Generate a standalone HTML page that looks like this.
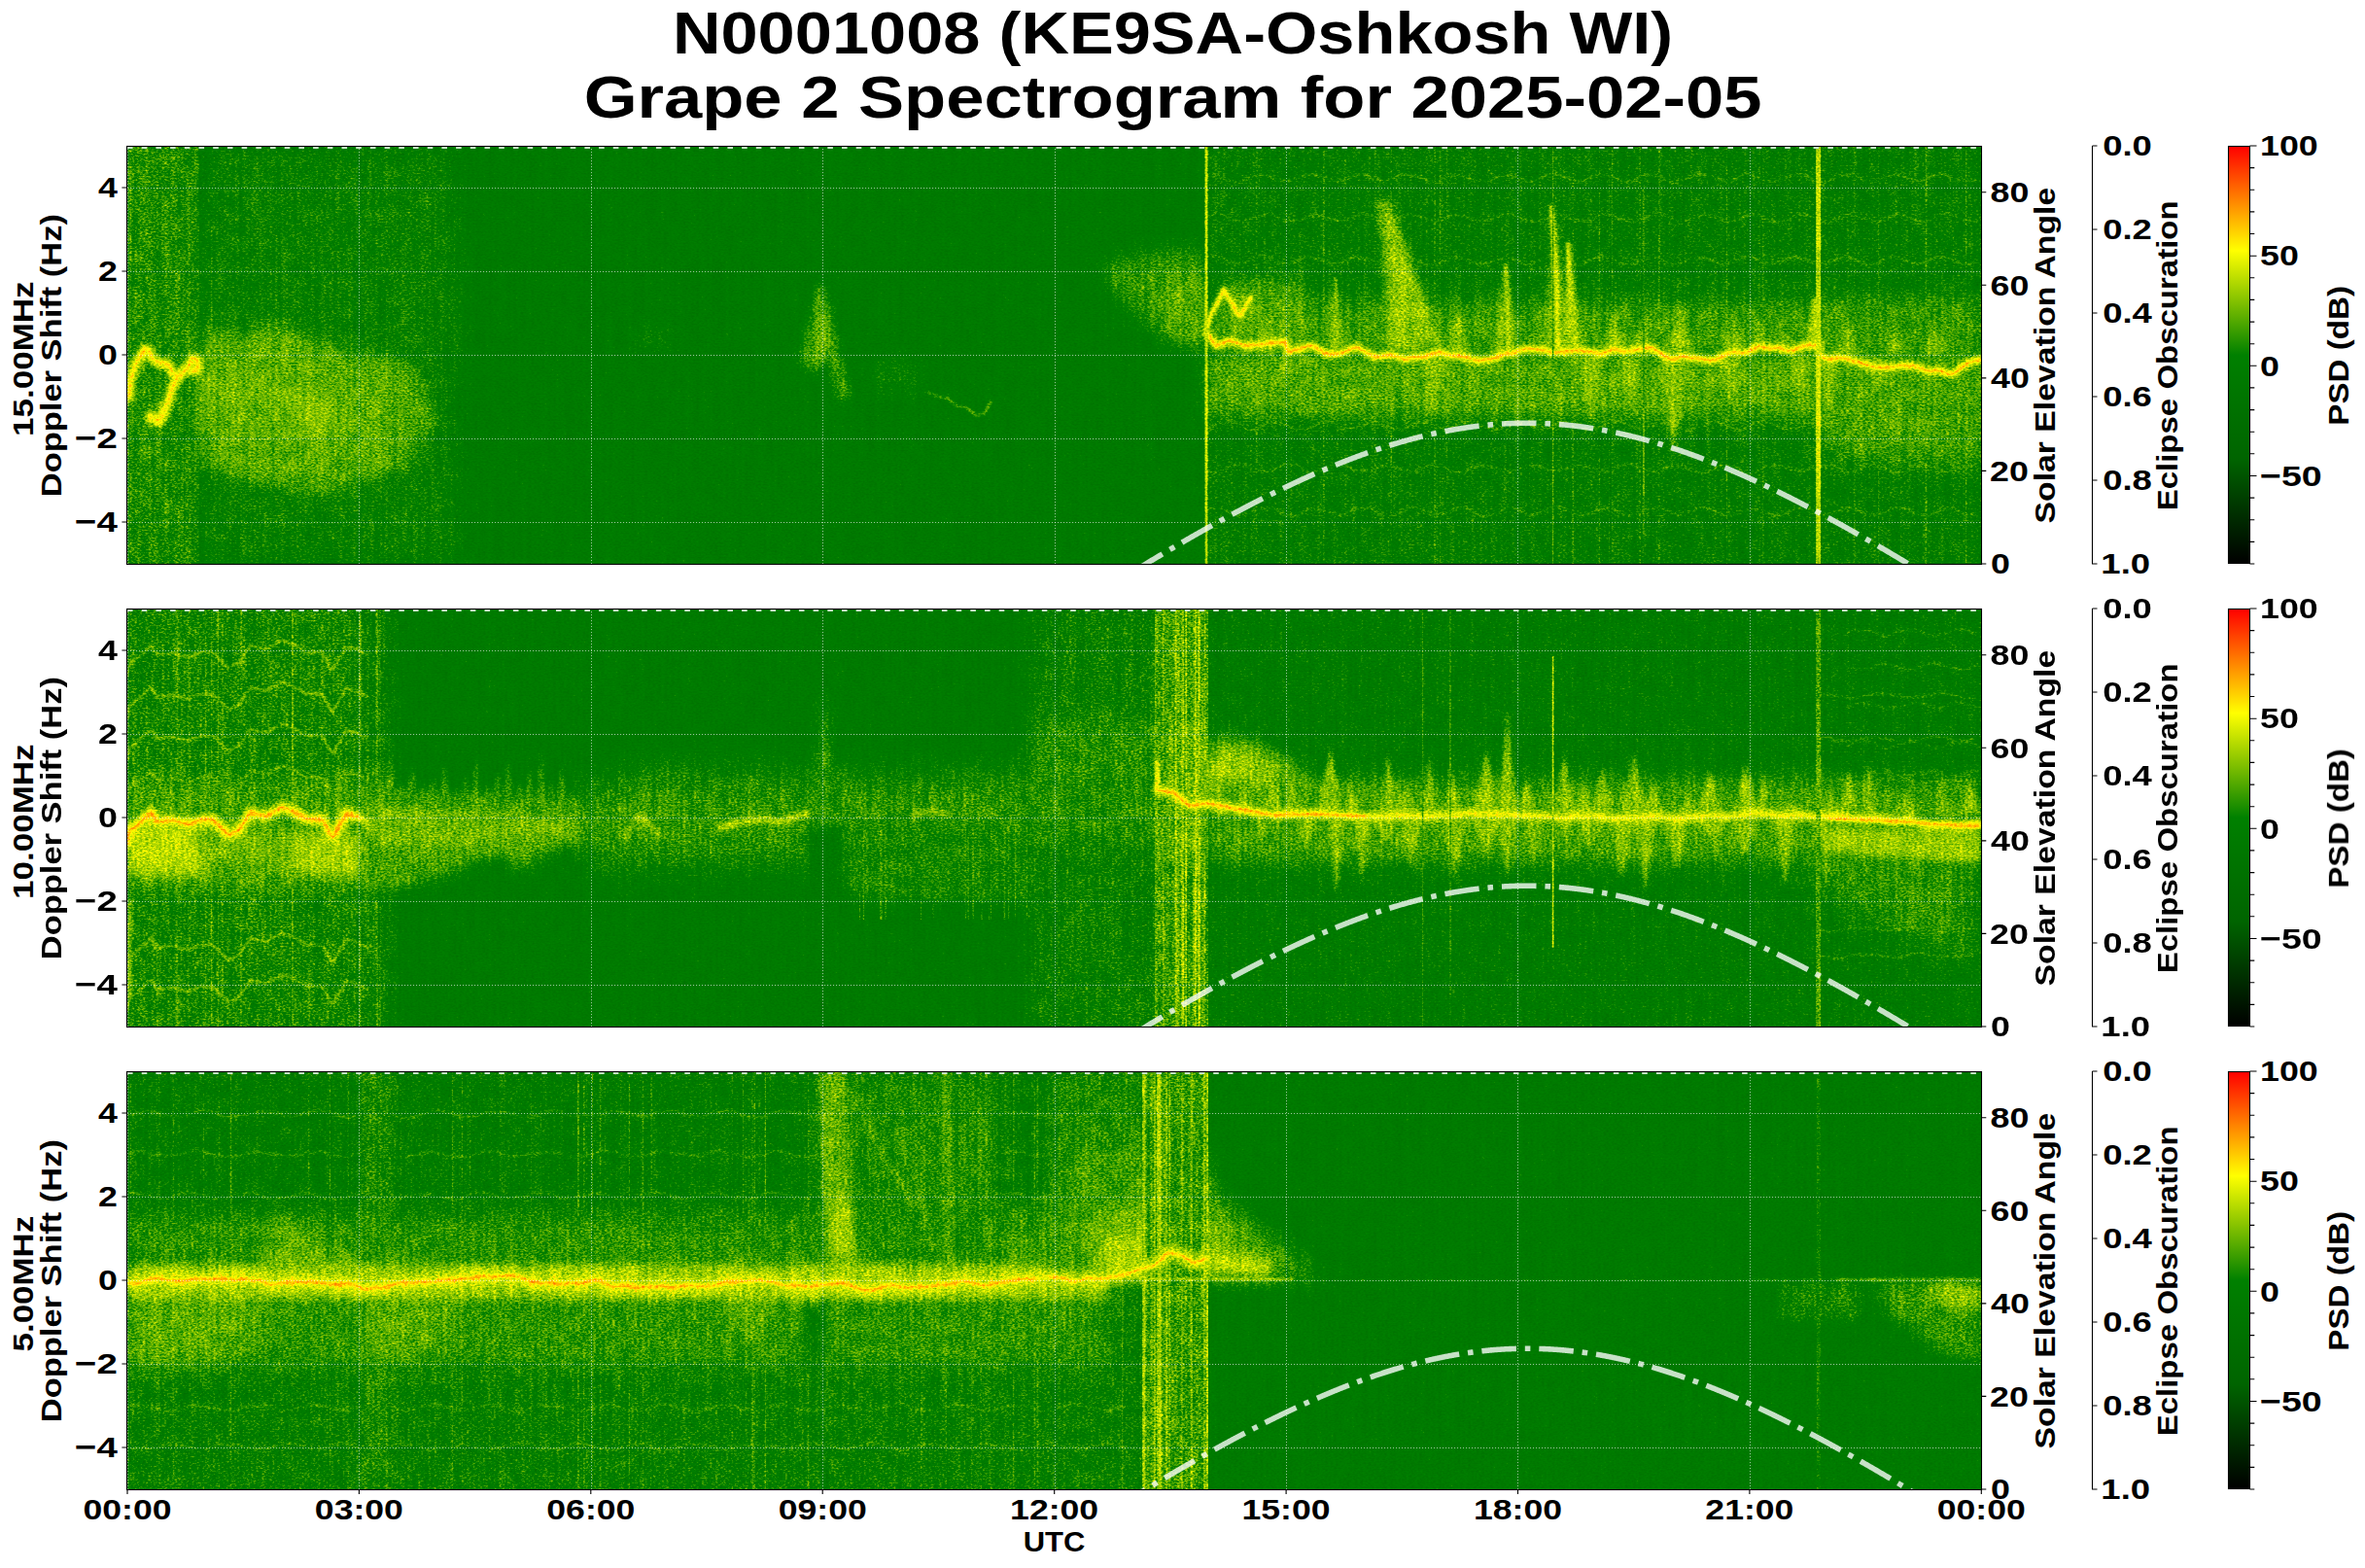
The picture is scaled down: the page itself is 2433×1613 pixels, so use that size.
<!DOCTYPE html><html><head><meta charset="utf-8"><title>Grape 2 Spectrogram</title><style>
html,body{margin:0;padding:0;background:#fff;overflow:hidden;}
svg{display:block;}
text{font-family:"Liberation Sans", sans-serif;font-weight:bold;fill:#000;}
</style></head><body>
<svg width="2433" height="1613" viewBox="0 0 2433 1613">
<defs>
<linearGradient id="cbar" x1="0" y1="1" x2="0" y2="0">
<stop offset="0" stop-color="#000000"/><stop offset="0.25" stop-color="#006400"/><stop offset="0.5" stop-color="#008000"/><stop offset="0.75" stop-color="#ffff00"/><stop offset="1" stop-color="#ff0000"/>
</linearGradient>
<filter id="b1" filterUnits="userSpaceOnUse" x="0" y="0" width="2433" height="1613"><feGaussianBlur stdDeviation="1"/></filter><filter id="b1_5" filterUnits="userSpaceOnUse" x="0" y="0" width="2433" height="1613"><feGaussianBlur stdDeviation="1.5"/></filter><filter id="b2" filterUnits="userSpaceOnUse" x="0" y="0" width="2433" height="1613"><feGaussianBlur stdDeviation="2"/></filter><filter id="b3" filterUnits="userSpaceOnUse" x="0" y="0" width="2433" height="1613"><feGaussianBlur stdDeviation="3"/></filter><filter id="b4" filterUnits="userSpaceOnUse" x="0" y="0" width="2433" height="1613"><feGaussianBlur stdDeviation="4"/></filter><filter id="b6" filterUnits="userSpaceOnUse" x="0" y="0" width="2433" height="1613"><feGaussianBlur stdDeviation="6"/></filter><filter id="b8" filterUnits="userSpaceOnUse" x="0" y="0" width="2433" height="1613"><feGaussianBlur stdDeviation="8"/></filter><filter id="b10" filterUnits="userSpaceOnUse" x="0" y="0" width="2433" height="1613"><feGaussianBlur stdDeviation="10"/></filter><filter id="b12" filterUnits="userSpaceOnUse" x="0" y="0" width="2433" height="1613"><feGaussianBlur stdDeviation="12"/></filter><filter id="b15" filterUnits="userSpaceOnUse" x="0" y="0" width="2433" height="1613"><feGaussianBlur stdDeviation="15"/></filter><filter id="b20" filterUnits="userSpaceOnUse" x="0" y="0" width="2433" height="1613"><feGaussianBlur stdDeviation="20"/></filter><filter id="b25" filterUnits="userSpaceOnUse" x="0" y="0" width="2433" height="1613"><feGaussianBlur stdDeviation="25"/></filter><filter id="spec0" x="131.0" y="150" width="1908" height="430" filterUnits="userSpaceOnUse" color-interpolation-filters="sRGB">
<feTurbulence type="fractalNoise" baseFrequency="0.36 0.6" numOctaves="2" seed="7" result="t1"/>
<feColorMatrix in="t1" type="matrix" values="1 0 0 0 0 1 0 0 0 0 1 0 0 0 0 0 0 0 0 1" result="g1"/>
<feTurbulence type="fractalNoise" baseFrequency="0.3 0.008" numOctaves="1" seed="3" result="t2"/>
<feColorMatrix in="t2" type="matrix" values="1 0 0 0 0 1 0 0 0 0 1 0 0 0 0 0 0 0 0 1" result="g2"/>
<feTurbulence type="fractalNoise" baseFrequency="0.09 0.07" numOctaves="2" seed="13" result="t3"/>
<feColorMatrix in="t3" type="matrix" values="1 0 0 0 0 1 0 0 0 0 1 0 0 0 0 0 0 0 0 1" result="g3"/>
<feComposite in="g1" in2="g2" operator="arithmetic" k2="0.75" k3="0.25" result="g12"/>
<feComposite in="g12" in2="g3" operator="arithmetic" k2="0.8" k3="0.2" result="ng"/>
<feColorMatrix in="SourceGraphic" type="matrix" values="0 1 0 0 0 0 1 0 0 0 0 1 0 0 0 0 0 0 0 1" result="amp"/>
<feComposite in="amp" in2="ng" operator="arithmetic" k1="1" result="prod"/>
<feColorMatrix in="SourceGraphic" type="matrix" values="1 -0.8 0 0 0.1 1 -0.8 0 0 0.1 1 -0.8 0 0 0.1 0 0 0 0 1" result="s2"/>
<feComposite in="s2" in2="prod" operator="arithmetic" k2="1" k3="1.6" k4="-0.1" result="o"/>
<feComponentTransfer in="o">
<feFuncR type="table" tableValues="0 0 0 1 1"/>
<feFuncG type="table" tableValues="0 0.392 0.502 1 0"/>
<feFuncB type="table" tableValues="0 0 0 0 0"/>
</feComponentTransfer>
</filter><filter id="spec1" x="131.0" y="626" width="1908" height="430" filterUnits="userSpaceOnUse" color-interpolation-filters="sRGB">
<feTurbulence type="fractalNoise" baseFrequency="0.36 0.6" numOctaves="2" seed="8" result="t1"/>
<feColorMatrix in="t1" type="matrix" values="1 0 0 0 0 1 0 0 0 0 1 0 0 0 0 0 0 0 0 1" result="g1"/>
<feTurbulence type="fractalNoise" baseFrequency="0.3 0.008" numOctaves="1" seed="4" result="t2"/>
<feColorMatrix in="t2" type="matrix" values="1 0 0 0 0 1 0 0 0 0 1 0 0 0 0 0 0 0 0 1" result="g2"/>
<feTurbulence type="fractalNoise" baseFrequency="0.09 0.07" numOctaves="2" seed="14" result="t3"/>
<feColorMatrix in="t3" type="matrix" values="1 0 0 0 0 1 0 0 0 0 1 0 0 0 0 0 0 0 0 1" result="g3"/>
<feComposite in="g1" in2="g2" operator="arithmetic" k2="0.75" k3="0.25" result="g12"/>
<feComposite in="g12" in2="g3" operator="arithmetic" k2="0.8" k3="0.2" result="ng"/>
<feColorMatrix in="SourceGraphic" type="matrix" values="0 1 0 0 0 0 1 0 0 0 0 1 0 0 0 0 0 0 0 1" result="amp"/>
<feComposite in="amp" in2="ng" operator="arithmetic" k1="1" result="prod"/>
<feColorMatrix in="SourceGraphic" type="matrix" values="1 -0.8 0 0 0.1 1 -0.8 0 0 0.1 1 -0.8 0 0 0.1 0 0 0 0 1" result="s2"/>
<feComposite in="s2" in2="prod" operator="arithmetic" k2="1" k3="1.6" k4="-0.1" result="o"/>
<feComponentTransfer in="o">
<feFuncR type="table" tableValues="0 0 0 1 1"/>
<feFuncG type="table" tableValues="0 0.392 0.502 1 0"/>
<feFuncB type="table" tableValues="0 0 0 0 0"/>
</feComponentTransfer>
</filter><filter id="spec2" x="131.0" y="1102" width="1908" height="430" filterUnits="userSpaceOnUse" color-interpolation-filters="sRGB">
<feTurbulence type="fractalNoise" baseFrequency="0.36 0.6" numOctaves="2" seed="9" result="t1"/>
<feColorMatrix in="t1" type="matrix" values="1 0 0 0 0 1 0 0 0 0 1 0 0 0 0 0 0 0 0 1" result="g1"/>
<feTurbulence type="fractalNoise" baseFrequency="0.3 0.008" numOctaves="1" seed="5" result="t2"/>
<feColorMatrix in="t2" type="matrix" values="1 0 0 0 0 1 0 0 0 0 1 0 0 0 0 0 0 0 0 1" result="g2"/>
<feTurbulence type="fractalNoise" baseFrequency="0.09 0.07" numOctaves="2" seed="15" result="t3"/>
<feColorMatrix in="t3" type="matrix" values="1 0 0 0 0 1 0 0 0 0 1 0 0 0 0 0 0 0 0 1" result="g3"/>
<feComposite in="g1" in2="g2" operator="arithmetic" k2="0.75" k3="0.25" result="g12"/>
<feComposite in="g12" in2="g3" operator="arithmetic" k2="0.8" k3="0.2" result="ng"/>
<feColorMatrix in="SourceGraphic" type="matrix" values="0 1 0 0 0 0 1 0 0 0 0 1 0 0 0 0 0 0 0 1" result="amp"/>
<feComposite in="amp" in2="ng" operator="arithmetic" k1="1" result="prod"/>
<feColorMatrix in="SourceGraphic" type="matrix" values="1 -0.8 0 0 0.1 1 -0.8 0 0 0.1 1 -0.8 0 0 0.1 0 0 0 0 1" result="s2"/>
<feComposite in="s2" in2="prod" operator="arithmetic" k2="1" k3="1.6" k4="-0.1" result="o"/>
<feComponentTransfer in="o">
<feFuncR type="table" tableValues="0 0 0 1 1"/>
<feFuncG type="table" tableValues="0 0.392 0.502 1 0"/>
<feFuncB type="table" tableValues="0 0 0 0 0"/>
</feComponentTransfer>
</filter>
</defs>
<rect width="2433" height="1613" fill="#fff"/>
<text x="691.91" y="54.70" font-size="61.71" textLength="1029.29" lengthAdjust="spacingAndGlyphs">N0001008 (KE9SA-Oshkosh WI)</text>
<text x="600.67" y="120.60" font-size="61.71" textLength="1211.77" lengthAdjust="spacingAndGlyphs">Grape 2 Spectrogram for 2025-02-05</text>
<clipPath id="clip0"><rect x="131.0" y="150" width="1907.3" height="430"/></clipPath>
<g clip-path="url(#clip0)">
<rect x="131.0" y="150" width="1907.3" height="430" fill="#007c00"/>
<g filter="url(#spec0)"><rect x="131.0" y="150.0" width="1907.3" height="430.0" fill="#722e00"/><rect x="131.0" y="150.0" width="74.0" height="430.0" fill="#856600"/><rect x="163.6" y="150.0" width="1.8" height="430.0" fill="#8a6600"/><rect x="164.6" y="150.0" width="1.8" height="430.0" fill="#836600"/><rect x="143.8" y="150.0" width="1.8" height="430.0" fill="#846600"/><rect x="189.1" y="150.0" width="1.1" height="430.0" fill="#7d6600"/><rect x="136.6" y="150.0" width="2.2" height="430.0" fill="#856600"/><rect x="132.9" y="150.0" width="2.5" height="430.0" fill="#8b6600"/><rect x="163.2" y="150.0" width="1.5" height="430.0" fill="#865900"/><rect x="202.8" y="150.0" width="1.5" height="430.0" fill="#865900"/><path d="M131.0,169.1 L139.0,175.3 L147.0,175.1 L155.0,168.3 L163.0,162.7 L171.0,168.3 L179.0,176.0 L187.0,176.6 L195.0,167.6 L203.0,162.2" fill="none" stroke="#8c4c00" stroke-width="1.5" stroke-linejoin="round" stroke-linecap="round" filter="url(#b1)"/><path d="M131.0,231.5 L139.0,230.9 L147.0,222.8 L155.0,218.5 L163.0,224.3 L171.0,231.8 L179.0,231.1 L187.0,221.5 L195.0,215.6 L203.0,221.5" fill="none" stroke="#8c4c00" stroke-width="1.5" stroke-linejoin="round" stroke-linecap="round" filter="url(#b1)"/><path d="M131.0,271.2 L139.0,262.8 L147.0,265.2 L155.0,273.2 L163.0,278.1 L171.0,271.0 L179.0,261.7 L187.0,263.4 L195.0,272.0 L203.0,278.0" fill="none" stroke="#8c4c00" stroke-width="1.5" stroke-linejoin="round" stroke-linecap="round" filter="url(#b1)"/><path d="M131.0,315.4 L139.0,321.6 L147.0,321.0 L155.0,311.3 L163.0,308.1 L171.0,316.1 L179.0,323.4 L187.0,320.7 L195.0,310.0 L203.0,308.8" fill="none" stroke="#8c4c00" stroke-width="1.5" stroke-linejoin="round" stroke-linecap="round" filter="url(#b1)"/><path d="M131.0,422.1 L139.0,432.6 L147.0,431.8 L155.0,421.9 L163.0,417.1 L171.0,423.0 L179.0,433.1 L187.0,431.1 L195.0,423.0 L203.0,416.6" fill="none" stroke="#8c4c00" stroke-width="1.5" stroke-linejoin="round" stroke-linecap="round" filter="url(#b1)"/><path d="M131.0,465.8 L139.0,473.8 L147.0,478.0 L155.0,472.2 L163.0,463.4 L171.0,464.6 L179.0,473.1 L187.0,477.3 L195.0,471.5 L203.0,461.7" fill="none" stroke="#8c4c00" stroke-width="1.5" stroke-linejoin="round" stroke-linecap="round" filter="url(#b1)"/><path d="M131.0,514.9 L139.0,526.2 L147.0,526.9 L155.0,521.0 L163.0,512.9 L171.0,515.6 L179.0,525.0 L187.0,528.0 L195.0,519.9 L203.0,511.7" fill="none" stroke="#8c4c00" stroke-width="1.5" stroke-linejoin="round" stroke-linecap="round" filter="url(#b1)"/><rect x="205.0" y="150.0" width="265.0" height="430.0" fill="#7b5200" filter="url(#b12)"/><rect x="217.2" y="232.0" width="1.5" height="261.0" fill="#8c5900"/><polygon points="205.1,342.0 240.7,336.5 254.4,347.5 273.6,331.0 284.6,328.3 301.0,342.0 323.0,347.5 350.4,358.4 369.6,366.7 405.3,363.9 427.2,383.1 440.9,410.6 443.7,438.0 432.7,451.7 419.0,479.1 399.8,487.4 377.8,492.8 350.4,501.1 323.0,506.6 295.6,501.1 268.1,495.6 240.7,492.8 213.3,479.1 205.1,465.4" fill="#955700" filter="url(#b8)"/><polygon points="205.1,377.6 281.9,377.6 323.0,391.4 364.1,410.6 364.1,451.7 323.0,451.7 281.9,438.0 205.1,424.3" fill="#9a5200" filter="url(#b12)"/><polygon points="290.1,396.8 339.4,410.6 350.4,446.2 309.3,440.7" fill="#a14c00" filter="url(#b8)"/><path d="M132.7,408.8 L134.3,392.2 L138.5,376.4 L143.4,367.3 L148.4,359.9 L153.4,360.7 L155.9,366.5 L160.0,372.3 L164.2,373.1 L169.1,373.1 L174.1,376.4 L178.3,383.1 L182.4,388.0 L189.0,383.1 L194.0,376.4 L197.3,368.1 L202.3,369.8 L204.0,376.4 L202.3,381.4 L197.3,381.4" fill="none" stroke="#b14c00" stroke-width="12" stroke-linejoin="round" stroke-linecap="round" filter="url(#b2)"/><path d="M182.4,388.0 L177.4,398.0 L174.1,408.8 L171.6,417.1 L168.3,427.0 L164.2,433.6 L158.4,432.0 L155.0,427.9" fill="none" stroke="#b44c00" stroke-width="12" stroke-linejoin="round" stroke-linecap="round" filter="url(#b2)"/><path d="M182.4,388.0 L177.4,398.0 L174.1,408.8 L171.6,417.1 L168.3,427.0 L164.2,433.6 L158.4,432.0 L155.0,427.9" fill="none" stroke="#bf4000" stroke-width="5" stroke-linejoin="round" stroke-linecap="round" filter="url(#b1)"/><path d="M132.7,408.8 L134.3,392.2 L138.5,376.4 L143.4,367.3 L148.4,359.9 L153.4,360.7 L155.9,366.5 L160.0,372.3 L164.2,373.1 L169.1,373.1 L174.1,376.4 L178.3,383.1 L182.4,388.0 L189.0,383.1 L194.0,376.4 L197.3,368.1 L202.3,369.8 L204.0,376.4 L202.3,381.4 L197.3,381.4" fill="none" stroke="#d13300" stroke-width="2.5" stroke-linejoin="round" stroke-linecap="round" filter="url(#b1)"/><path d="M182.4,388.0 L177.4,398.0 L174.1,408.8 L171.6,417.1" fill="none" stroke="#cc3300" stroke-width="2" stroke-linejoin="round" stroke-linecap="round" filter="url(#b1)"/><polygon points="822.0,372.0 838.0,300.0 845.0,288.0 852.0,310.0 875.0,405.0 862.0,415.0 850.0,370.0 835.0,385.0" fill="#8e5400" filter="url(#b4)"/><polygon points="835.0,350.0 845.0,300.0 852.0,350.0 845.0,380.0" fill="#995400" filter="url(#b3)"/><ellipse cx="672.0" cy="349.0" rx="22.0" ry="12.0" fill="#7d4000" filter="url(#b8)"/><ellipse cx="921.0" cy="385.0" rx="25.0" ry="18.0" fill="#7d4000" filter="url(#b8)"/><path d="M954.0,403.0 L965.0,408.0 L975.0,410.0 L985.0,418.0 L995.0,420.0 L1005.0,428.0 L1013.0,425.0 L1020.0,412.0" fill="none" stroke="#914c00" stroke-width="3" stroke-linejoin="round" stroke-linecap="round" filter="url(#b1)"/><polygon points="1132.9,270.7 1187.7,259.7 1239.8,254.2 1239.8,358.4 1201.4,353.0 1160.3,314.6 1132.9,281.7" fill="#8c5400" filter="url(#b10)"/><polygon points="1193.2,292.6 1239.8,281.7 1239.8,353.0 1206.9,347.5" fill="#965400" filter="url(#b8)"/><rect x="1242.0" y="150.0" width="796.0" height="430.0" fill="#794c00"/><path d="M1242.0,180.9 L1250.0,180.0 L1258.0,182.9 L1266.0,186.1 L1274.0,188.3 L1282.0,183.5 L1290.0,180.9 L1298.0,180.3 L1306.0,181.1 L1314.0,185.7 L1322.0,185.8 L1330.0,185.6 L1338.0,181.2 L1346.0,179.3 L1354.0,180.2 L1362.0,182.1 L1370.0,185.8 L1378.0,185.7 L1386.0,184.2 L1394.0,180.4 L1402.0,178.4 L1410.0,183.4 L1418.0,185.0 L1426.0,187.2 L1434.0,182.9 L1442.0,178.8 L1450.0,180.2 L1458.0,180.7 L1466.0,184.5 L1474.0,188.4 L1482.0,186.0 L1490.0,180.4 L1498.0,180.4 L1506.0,180.8 L1514.0,185.0 L1522.0,186.0 L1530.0,187.1 L1538.0,182.6 L1546.0,180.6 L1554.0,181.1 L1562.0,182.9 L1570.0,186.2 L1578.0,185.4 L1586.0,182.0 L1594.0,178.3 L1602.0,178.8 L1610.0,182.8 L1618.0,184.6 L1626.0,187.3 L1634.0,183.5 L1642.0,179.7 L1650.0,180.0 L1658.0,181.4 L1666.0,184.8 L1674.0,186.9 L1682.0,185.6 L1690.0,179.8 L1698.0,180.4 L1706.0,179.2 L1714.0,185.2 L1722.0,188.0 L1730.0,184.3 L1738.0,182.9 L1746.0,178.8 L1754.0,180.1 L1762.0,182.0 L1770.0,185.2 L1778.0,185.5 L1786.0,184.4 L1794.0,178.8 L1802.0,180.1 L1810.0,183.7 L1818.0,187.4 L1826.0,186.4 L1834.0,183.6 L1842.0,180.4 L1850.0,179.9 L1858.0,180.3 L1866.0,186.0 L1874.0,187.9 L1882.0,186.1 L1890.0,179.8 L1898.0,180.4 L1906.0,179.3 L1914.0,183.9 L1922.0,187.2 L1930.0,187.1 L1938.0,181.6 L1946.0,180.5 L1954.0,180.0 L1962.0,182.8 L1970.0,186.0 L1978.0,185.5 L1986.0,181.9 L1994.0,178.6 L2002.0,179.9 L2010.0,183.9 L2018.0,185.0 L2026.0,185.5 L2034.0,185.6" fill="none" stroke="#964c00" stroke-width="1.5" stroke-linejoin="round" stroke-linecap="round" filter="url(#b1)"/><path d="M1242.0,222.9 L1250.0,219.5 L1258.0,221.1 L1266.0,225.3 L1274.0,227.4 L1282.0,227.2 L1290.0,222.8 L1298.0,222.0 L1306.0,218.9 L1314.0,223.3 L1322.0,228.0 L1330.0,226.8 L1338.0,225.9 L1346.0,222.8 L1354.0,220.4 L1362.0,223.2 L1370.0,225.0 L1378.0,227.8 L1386.0,225.1 L1394.0,223.3 L1402.0,219.4 L1410.0,221.3 L1418.0,226.8 L1426.0,228.9 L1434.0,228.3 L1442.0,223.1 L1450.0,220.2 L1458.0,221.5 L1466.0,224.2 L1474.0,226.9 L1482.0,227.2 L1490.0,223.2 L1498.0,220.4 L1506.0,221.8 L1514.0,224.6 L1522.0,227.3 L1530.0,227.9 L1538.0,224.7 L1546.0,220.2 L1554.0,219.3 L1562.0,223.1 L1570.0,227.2 L1578.0,227.6 L1586.0,227.0 L1594.0,223.1 L1602.0,220.6 L1610.0,221.9 L1618.0,226.0 L1626.0,227.5 L1634.0,227.5 L1642.0,222.6 L1650.0,220.2 L1658.0,221.6 L1666.0,224.8 L1674.0,226.9 L1682.0,228.9 L1690.0,224.7 L1698.0,221.0 L1706.0,218.8 L1714.0,223.4 L1722.0,226.1 L1730.0,228.4 L1738.0,225.2 L1746.0,222.4 L1754.0,220.5 L1762.0,223.1 L1770.0,225.6 L1778.0,228.4 L1786.0,226.9 L1794.0,223.3 L1802.0,219.6 L1810.0,222.4 L1818.0,226.3 L1826.0,228.4 L1834.0,228.4 L1842.0,224.7 L1850.0,220.4 L1858.0,220.8 L1866.0,223.2 L1874.0,228.5 L1882.0,228.9 L1890.0,224.3 L1898.0,221.4 L1906.0,220.9 L1914.0,223.9 L1922.0,225.9 L1930.0,228.7 L1938.0,225.6 L1946.0,222.0 L1954.0,219.8 L1962.0,222.6 L1970.0,226.9 L1978.0,228.4 L1986.0,226.9 L1994.0,221.0 L2002.0,219.0 L2010.0,221.2 L2018.0,225.6 L2026.0,227.0 L2034.0,227.6" fill="none" stroke="#964c00" stroke-width="1.5" stroke-linejoin="round" stroke-linecap="round" filter="url(#b1)"/><path d="M1242.0,263.7 L1250.0,264.0 L1258.0,266.0 L1266.0,269.2 L1274.0,270.9 L1282.0,269.2 L1290.0,264.9 L1298.0,263.1 L1306.0,264.5 L1314.0,269.6 L1322.0,271.6 L1330.0,270.9 L1338.0,267.0 L1346.0,263.3 L1354.0,266.3 L1362.0,267.2 L1370.0,271.4 L1378.0,270.6 L1386.0,267.5 L1394.0,263.4 L1402.0,265.5 L1410.0,267.3 L1418.0,269.8 L1426.0,272.1 L1434.0,267.6 L1442.0,265.2 L1450.0,263.6 L1458.0,267.0 L1466.0,271.9 L1474.0,272.9 L1482.0,269.5 L1490.0,266.8 L1498.0,264.4 L1506.0,265.4 L1514.0,268.6 L1522.0,272.2 L1530.0,270.8 L1538.0,268.2 L1546.0,265.5 L1554.0,265.4 L1562.0,268.2 L1570.0,272.9 L1578.0,269.8 L1586.0,266.6 L1594.0,264.7 L1602.0,264.8 L1610.0,266.6 L1618.0,271.6 L1626.0,272.9 L1634.0,268.5 L1642.0,264.9 L1650.0,263.3 L1658.0,266.1 L1666.0,271.9 L1674.0,271.6 L1682.0,271.2 L1690.0,267.2 L1698.0,264.3 L1706.0,265.0 L1714.0,271.0 L1722.0,271.9 L1730.0,270.4 L1738.0,266.3 L1746.0,265.6 L1754.0,265.0 L1762.0,268.0 L1770.0,271.6 L1778.0,270.2 L1786.0,268.2 L1794.0,264.4 L1802.0,263.8 L1810.0,268.5 L1818.0,272.1 L1826.0,270.3 L1834.0,269.0 L1842.0,264.5 L1850.0,265.4 L1858.0,267.5 L1866.0,269.7 L1874.0,271.3 L1882.0,268.8 L1890.0,267.5 L1898.0,263.4 L1906.0,266.1 L1914.0,269.5 L1922.0,272.4 L1930.0,271.0 L1938.0,267.7 L1946.0,263.0 L1954.0,265.8 L1962.0,268.0 L1970.0,271.8 L1978.0,270.8 L1986.0,267.3 L1994.0,264.7 L2002.0,264.3 L2010.0,267.2 L2018.0,271.9 L2026.0,272.1 L2034.0,267.5" fill="none" stroke="#964c00" stroke-width="1.5" stroke-linejoin="round" stroke-linecap="round" filter="url(#b1)"/><path d="M1242.0,323.9 L1250.0,323.3 L1258.0,319.4 L1266.0,316.2 L1274.0,316.0 L1282.0,322.1 L1290.0,323.7 L1298.0,323.1 L1306.0,319.8 L1314.0,316.7 L1322.0,316.7 L1330.0,321.5 L1338.0,323.2 L1346.0,323.2 L1354.0,321.3 L1362.0,315.8 L1370.0,315.7 L1378.0,320.3 L1386.0,321.6 L1394.0,324.9 L1402.0,321.8 L1410.0,317.2 L1418.0,315.4 L1426.0,319.1 L1434.0,323.4 L1442.0,322.9 L1450.0,322.1 L1458.0,318.4 L1466.0,316.0 L1474.0,316.9 L1482.0,320.2 L1490.0,324.1 L1498.0,323.9 L1506.0,318.0 L1514.0,315.5 L1522.0,317.7 L1530.0,321.1 L1538.0,324.0 L1546.0,322.1 L1554.0,320.9 L1562.0,318.2 L1570.0,317.8 L1578.0,319.8 L1586.0,321.5 L1594.0,324.9 L1602.0,320.4 L1610.0,317.9 L1618.0,317.4 L1626.0,318.9 L1634.0,321.0 L1642.0,323.4 L1650.0,323.4 L1658.0,317.3 L1666.0,316.4 L1674.0,317.2 L1682.0,320.2 L1690.0,324.2 L1698.0,321.6 L1706.0,318.1 L1714.0,315.9 L1722.0,315.4 L1730.0,318.9 L1738.0,323.7 L1746.0,324.3 L1754.0,321.5 L1762.0,315.7 L1770.0,316.0 L1778.0,318.6 L1786.0,323.2 L1794.0,323.9 L1802.0,322.6 L1810.0,317.1 L1818.0,314.7 L1826.0,318.8 L1834.0,321.0 L1842.0,324.4 L1850.0,322.2 L1858.0,319.6 L1866.0,316.2 L1874.0,317.7 L1882.0,320.4 L1890.0,324.0 L1898.0,322.3 L1906.0,320.1 L1914.0,316.4 L1922.0,315.6 L1930.0,319.3 L1938.0,323.1 L1946.0,324.3 L1954.0,319.4 L1962.0,317.5 L1970.0,316.7 L1978.0,317.9 L1986.0,323.3 L1994.0,322.7 L2002.0,320.2 L2010.0,317.8 L2018.0,315.2 L2026.0,319.3 L2034.0,322.0" fill="none" stroke="#964c00" stroke-width="1.5" stroke-linejoin="round" stroke-linecap="round" filter="url(#b1)"/><path d="M1242.0,442.5 L1250.0,437.0 L1258.0,435.5 L1266.0,432.9 L1274.0,436.0 L1282.0,442.1 L1290.0,442.5 L1298.0,438.6 L1306.0,434.4 L1314.0,435.4 L1322.0,436.6 L1330.0,440.9 L1338.0,440.9 L1346.0,440.7 L1354.0,436.0 L1362.0,433.3 L1370.0,434.8 L1378.0,439.4 L1386.0,441.4 L1394.0,440.7 L1402.0,436.4 L1410.0,435.4 L1418.0,435.1 L1426.0,438.9 L1434.0,441.2 L1442.0,442.7 L1450.0,438.5 L1458.0,435.2 L1466.0,434.4 L1474.0,437.7 L1482.0,440.4 L1490.0,440.7 L1498.0,438.1 L1506.0,434.7 L1514.0,432.6 L1522.0,437.2 L1530.0,439.9 L1538.0,442.8 L1546.0,438.9 L1554.0,436.4 L1562.0,435.2 L1570.0,435.6 L1578.0,438.8 L1586.0,441.7 L1594.0,439.9 L1602.0,436.5 L1610.0,433.4 L1618.0,434.2 L1626.0,437.6 L1634.0,442.5 L1642.0,440.6 L1650.0,437.8 L1658.0,434.3 L1666.0,433.2 L1674.0,436.3 L1682.0,439.9 L1690.0,441.9 L1698.0,438.1 L1706.0,437.0 L1714.0,433.6 L1722.0,437.3 L1730.0,440.4 L1738.0,442.5 L1746.0,440.3 L1754.0,437.9 L1762.0,432.9 L1770.0,435.7 L1778.0,438.3 L1786.0,442.3 L1794.0,441.8 L1802.0,436.6 L1810.0,433.5 L1818.0,433.2 L1826.0,437.1 L1834.0,440.1 L1842.0,441.4 L1850.0,440.0 L1858.0,434.6 L1866.0,433.6 L1874.0,436.8 L1882.0,440.0 L1890.0,442.6 L1898.0,440.2 L1906.0,434.7 L1914.0,433.2 L1922.0,436.5 L1930.0,441.2 L1938.0,442.4 L1946.0,440.2 L1954.0,438.1 L1962.0,432.6 L1970.0,433.9 L1978.0,439.7 L1986.0,441.5 L1994.0,439.8 L2002.0,437.8 L2010.0,435.9 L2018.0,434.6 L2026.0,437.4 L2034.0,440.1" fill="none" stroke="#964c00" stroke-width="1.5" stroke-linejoin="round" stroke-linecap="round" filter="url(#b1)"/><path d="M1242.0,484.9 L1250.0,485.9 L1258.0,485.8 L1266.0,479.4 L1274.0,477.4 L1282.0,477.7 L1290.0,482.5 L1298.0,484.4 L1306.0,484.5 L1314.0,481.5 L1322.0,477.9 L1330.0,477.2 L1338.0,480.4 L1346.0,486.7 L1354.0,484.8 L1362.0,482.8 L1370.0,478.8 L1378.0,478.2 L1386.0,479.5 L1394.0,484.0 L1402.0,484.8 L1410.0,483.8 L1418.0,481.1 L1426.0,478.3 L1434.0,480.9 L1442.0,482.8 L1450.0,484.5 L1458.0,484.7 L1466.0,480.7 L1474.0,478.3 L1482.0,478.7 L1490.0,483.1 L1498.0,486.4 L1506.0,486.5 L1514.0,481.2 L1522.0,478.4 L1530.0,479.5 L1538.0,480.9 L1546.0,484.1 L1554.0,485.2 L1562.0,481.6 L1570.0,479.9 L1578.0,479.1 L1586.0,480.1 L1594.0,483.4 L1602.0,484.7 L1610.0,483.0 L1618.0,478.7 L1626.0,477.8 L1634.0,480.0 L1642.0,482.9 L1650.0,484.6 L1658.0,485.2 L1666.0,479.5 L1674.0,477.2 L1682.0,478.4 L1690.0,482.3 L1698.0,484.5 L1706.0,485.0 L1714.0,481.3 L1722.0,479.3 L1730.0,478.6 L1738.0,482.8 L1746.0,485.6 L1754.0,486.5 L1762.0,483.1 L1770.0,479.0 L1778.0,479.1 L1786.0,481.1 L1794.0,485.8 L1802.0,486.7 L1810.0,484.4 L1818.0,479.3 L1826.0,478.9 L1834.0,479.4 L1842.0,482.5 L1850.0,484.6 L1858.0,483.7 L1866.0,480.2 L1874.0,478.7 L1882.0,478.4 L1890.0,481.3 L1898.0,486.5 L1906.0,485.5 L1914.0,480.5 L1922.0,477.2 L1930.0,477.3 L1938.0,481.2 L1946.0,486.2 L1954.0,487.1 L1962.0,483.2 L1970.0,478.4 L1978.0,477.9 L1986.0,480.2 L1994.0,483.9 L2002.0,484.5 L2010.0,484.1 L2018.0,481.0 L2026.0,478.7 L2034.0,478.5" fill="none" stroke="#964c00" stroke-width="1.5" stroke-linejoin="round" stroke-linecap="round" filter="url(#b1)"/><path d="M1242.0,524.3 L1250.0,522.9 L1258.0,522.6 L1266.0,527.6 L1274.0,530.4 L1282.0,528.4 L1290.0,525.7 L1298.0,524.0 L1306.0,522.2 L1314.0,525.0 L1322.0,528.7 L1330.0,530.7 L1338.0,528.6 L1346.0,523.6 L1354.0,523.4 L1362.0,524.6 L1370.0,526.9 L1378.0,530.9 L1386.0,527.9 L1394.0,523.0 L1402.0,523.5 L1410.0,522.0 L1418.0,527.4 L1426.0,529.8 L1434.0,530.1 L1442.0,525.0 L1450.0,521.4 L1458.0,522.1 L1466.0,525.3 L1474.0,529.7 L1482.0,529.1 L1490.0,527.1 L1498.0,522.0 L1506.0,521.8 L1514.0,524.4 L1522.0,530.3 L1530.0,530.9 L1538.0,528.4 L1546.0,523.9 L1554.0,521.7 L1562.0,523.2 L1570.0,529.1 L1578.0,530.0 L1586.0,526.8 L1594.0,523.4 L1602.0,520.8 L1610.0,524.0 L1618.0,528.3 L1626.0,528.9 L1634.0,529.9 L1642.0,524.8 L1650.0,522.9 L1658.0,523.8 L1666.0,526.5 L1674.0,530.4 L1682.0,529.2 L1690.0,524.9 L1698.0,522.9 L1706.0,522.5 L1714.0,524.2 L1722.0,528.5 L1730.0,529.4 L1738.0,525.9 L1746.0,523.0 L1754.0,521.7 L1762.0,524.1 L1770.0,528.6 L1778.0,529.7 L1786.0,529.7 L1794.0,525.4 L1802.0,523.3 L1810.0,523.9 L1818.0,527.6 L1826.0,529.9 L1834.0,529.9 L1842.0,525.0 L1850.0,522.6 L1858.0,523.2 L1866.0,526.2 L1874.0,528.8 L1882.0,528.3 L1890.0,525.2 L1898.0,522.4 L1906.0,522.5 L1914.0,525.9 L1922.0,529.4 L1930.0,529.3 L1938.0,528.7 L1946.0,522.9 L1954.0,522.7 L1962.0,522.8 L1970.0,528.7 L1978.0,530.5 L1986.0,529.7 L1994.0,525.7 L2002.0,522.6 L2010.0,524.3 L2018.0,527.8 L2026.0,530.2 L2034.0,528.2" fill="none" stroke="#964c00" stroke-width="1.5" stroke-linejoin="round" stroke-linecap="round" filter="url(#b1)"/><rect x="1430.6" y="150.0" width="1.5" height="430.0" fill="#7b5900"/><rect x="1721.9" y="150.0" width="1.6" height="430.0" fill="#755900"/><rect x="1251.6" y="150.0" width="1.8" height="430.0" fill="#795900"/><rect x="1427.5" y="150.0" width="2.0" height="430.0" fill="#7e5900"/><rect x="1907.1" y="150.0" width="1.5" height="430.0" fill="#815900"/><rect x="1361.1" y="150.0" width="1.6" height="430.0" fill="#865900"/><rect x="1657.6" y="150.0" width="1.7" height="430.0" fill="#825900"/><rect x="1292.1" y="150.0" width="1.8" height="430.0" fill="#805900"/><rect x="1481.3" y="150.0" width="1.0" height="430.0" fill="#865900"/><rect x="1617.4" y="150.0" width="1.7" height="430.0" fill="#865900"/><rect x="1809.5" y="150.0" width="1.9" height="430.0" fill="#7c5900"/><rect x="1878.8" y="150.0" width="1.4" height="430.0" fill="#885900"/><rect x="1941.0" y="150.0" width="1.1" height="430.0" fill="#765900"/><rect x="1413.7" y="150.0" width="2.0" height="430.0" fill="#7d5900"/><rect x="1740.2" y="150.0" width="1.3" height="430.0" fill="#7e5900"/><rect x="1548.5" y="150.0" width="1.4" height="430.0" fill="#805900"/><rect x="1706.1" y="150.0" width="1.9" height="430.0" fill="#825900"/><rect x="1980.5" y="150.0" width="1.9" height="430.0" fill="#895900"/><rect x="1775.8" y="150.0" width="1.2" height="430.0" fill="#865900"/><rect x="2008.9" y="150.0" width="1.9" height="430.0" fill="#805900"/><rect x="1809.6" y="150.0" width="1.2" height="430.0" fill="#855900"/><rect x="1697.9" y="150.0" width="1.3" height="430.0" fill="#755900"/><rect x="1920.7" y="150.0" width="2.0" height="430.0" fill="#755900"/><rect x="1878.6" y="150.0" width="1.4" height="430.0" fill="#775900"/><rect x="1475.1" y="150.0" width="1.8" height="430.0" fill="#865900"/><rect x="1276.4" y="150.0" width="1.6" height="430.0" fill="#745900"/><rect x="1813.2" y="150.0" width="1.3" height="430.0" fill="#865900"/><rect x="2021.8" y="150.0" width="1.5" height="430.0" fill="#895900"/><rect x="1488.0" y="150.0" width="1.1" height="430.0" fill="#805900"/><rect x="1266.4" y="150.0" width="1.2" height="430.0" fill="#7c5900"/><rect x="1727.4" y="150.0" width="1.2" height="430.0" fill="#745900"/><rect x="1932.1" y="150.0" width="1.3" height="430.0" fill="#885900"/><rect x="1955.1" y="150.0" width="1.4" height="430.0" fill="#7d5900"/><rect x="1655.2" y="150.0" width="1.6" height="430.0" fill="#805900"/><rect x="1686.4" y="150.0" width="1.6" height="430.0" fill="#885900"/><rect x="1644.9" y="150.0" width="1.4" height="430.0" fill="#835900"/><rect x="1430.5" y="150.0" width="1.3" height="430.0" fill="#885900"/><rect x="1656.0" y="150.0" width="1.5" height="430.0" fill="#745900"/><rect x="1571.7" y="150.0" width="1.6" height="430.0" fill="#745900"/><rect x="1731.4" y="150.0" width="1.6" height="430.0" fill="#755900"/><rect x="1242.0" y="310.0" width="796.0" height="52.0" fill="#8e5400" filter="url(#b10)"/><rect x="1242.0" y="365.0" width="796.0" height="65.0" fill="#945400" filter="url(#b10)"/><rect x="1260.0" y="290.0" width="80.0" height="72.0" fill="#945400" filter="url(#b10)"/><polygon points="1872.0,315.0 2038.0,315.0 2038.0,362.0 1872.0,362.0" fill="#8c5400" filter="url(#b10)"/><polygon points="1872.0,375.0 2038.0,375.0 2038.0,480.0 1872.0,470.0" fill="#915700" filter="url(#b12)"/><polygon points="1300.0,325.0 1310.0,362.0 1290.0,362.0" fill="#a15400" filter="url(#b3)"/><polygon points="1374.0,287.0 1380.0,362.0 1368.0,362.0" fill="#a15400" filter="url(#b3)"/><polygon points="1445.0,270.0 1461.0,362.0 1429.0,362.0" fill="#a15400" filter="url(#b3)"/><polygon points="1500.0,315.0 1512.0,362.0 1488.0,362.0" fill="#a15400" filter="url(#b3)"/><polygon points="1549.0,273.0 1561.0,362.0 1537.0,362.0" fill="#a15400" filter="url(#b3)"/><polygon points="1600.0,213.0 1614.0,362.0 1586.0,362.0" fill="#a15400" filter="url(#b3)"/><polygon points="1615.0,251.0 1629.0,362.0 1601.0,362.0" fill="#a15400" filter="url(#b3)"/><polygon points="1660.0,322.0 1674.0,362.0 1646.0,362.0" fill="#a15400" filter="url(#b3)"/><polygon points="1690.0,325.0 1702.0,362.0 1678.0,362.0" fill="#a15400" filter="url(#b3)"/><polygon points="1728.0,315.0 1742.0,362.0 1714.0,362.0" fill="#a15400" filter="url(#b3)"/><polygon points="1783.0,325.0 1795.0,362.0 1771.0,362.0" fill="#a15400" filter="url(#b3)"/><polygon points="1810.0,330.0 1820.0,362.0 1800.0,362.0" fill="#a15400" filter="url(#b3)"/><polygon points="1838.0,340.0 1850.0,362.0 1826.0,362.0" fill="#a15400" filter="url(#b3)"/><polygon points="1866.0,309.0 1878.0,362.0 1854.0,362.0" fill="#a15400" filter="url(#b3)"/><polygon points="1900.0,330.0 1910.0,362.0 1890.0,362.0" fill="#a15400" filter="url(#b3)"/><polygon points="1950.0,335.0 1960.0,362.0 1940.0,362.0" fill="#a15400" filter="url(#b3)"/><polygon points="1990.0,330.0 2000.0,362.0 1980.0,362.0" fill="#a15400" filter="url(#b3)"/><polygon points="1418.0,205.0 1428.0,205.0 1485.0,355.0 1430.0,355.0" fill="#a45400" filter="url(#b4)"/><path d="M1374.0,287.0 L1377.0,355.0" fill="none" stroke="#a64c00" stroke-width="3" stroke-linejoin="round" stroke-linecap="round" filter="url(#b1)"/><path d="M1596.0,213.0 L1600.0,280.0 L1604.0,355.0" fill="none" stroke="#b14c00" stroke-width="5" stroke-linejoin="round" stroke-linecap="round" filter="url(#b1_5)"/><path d="M1613.0,251.0 L1616.0,300.0 L1620.0,355.0" fill="none" stroke="#ae4c00" stroke-width="5" stroke-linejoin="round" stroke-linecap="round" filter="url(#b1_5)"/><path d="M1549.0,273.0 L1552.0,355.0" fill="none" stroke="#a94c00" stroke-width="4" stroke-linejoin="round" stroke-linecap="round" filter="url(#b1_5)"/><path d="M1866.0,309.0 L1866.0,355.0" fill="none" stroke="#ac4c00" stroke-width="5" stroke-linejoin="round" stroke-linecap="round" filter="url(#b1_5)"/><polygon points="1321.0,391.0 1329.0,368.0 1313.0,368.0" fill="#a15400" filter="url(#b3)"/><polygon points="1346.0,382.0 1354.0,368.0 1338.0,368.0" fill="#a15400" filter="url(#b3)"/><polygon points="1476.0,427.0 1490.0,368.0 1462.0,368.0" fill="#a15400" filter="url(#b3)"/><polygon points="1511.0,378.0 1519.0,368.0 1503.0,368.0" fill="#a15400" filter="url(#b3)"/><polygon points="1618.0,380.0 1626.0,368.0 1610.0,368.0" fill="#a15400" filter="url(#b3)"/><polygon points="1637.0,432.0 1649.0,368.0 1625.0,368.0" fill="#a15400" filter="url(#b3)"/><polygon points="1676.0,419.0 1688.0,368.0 1664.0,368.0" fill="#a15400" filter="url(#b3)"/><polygon points="1722.0,474.0 1736.0,368.0 1708.0,368.0" fill="#a15400" filter="url(#b3)"/><polygon points="1780.0,415.0 1792.0,368.0 1768.0,368.0" fill="#a15400" filter="url(#b3)"/><polygon points="1851.0,416.0 1863.0,368.0 1839.0,368.0" fill="#a15400" filter="url(#b3)"/><polygon points="1882.0,443.0 1892.0,368.0 1872.0,368.0" fill="#a15400" filter="url(#b3)"/><polygon points="1930.0,408.0 1940.0,368.0 1920.0,368.0" fill="#a15400" filter="url(#b3)"/><path d="M1241.2,342.0 L1250.8,355.7 L1264.5,350.2 L1281.0,355.7 L1297.4,354.3 L1322.1,351.6 L1325.0,362.8 L1330.0,360.5 L1335.0,359.5 L1340.0,358.0 L1345.0,356.0 L1350.0,355.6 L1355.0,358.4 L1360.0,361.5 L1365.0,364.4 L1370.0,364.2 L1375.0,364.3 L1380.0,363.2 L1385.0,361.3 L1390.0,359.0 L1395.0,357.3 L1400.0,359.3 L1405.0,362.2 L1410.0,365.1 L1415.0,367.5 L1420.0,366.7 L1425.0,365.2 L1430.0,365.0 L1435.0,365.9 L1440.0,367.7 L1445.0,369.8 L1450.0,368.1 L1455.0,367.4 L1460.0,367.6 L1465.0,367.3 L1470.0,365.3 L1475.0,364.2 L1480.0,361.8 L1485.0,363.1 L1490.0,365.4 L1495.0,366.5 L1500.0,365.7 L1505.0,367.1 L1510.0,367.6 L1515.0,369.3 L1520.0,371.0 L1525.0,370.9 L1530.0,369.7 L1535.0,369.0 L1540.0,367.9 L1545.0,365.4 L1550.0,363.3 L1555.0,364.0 L1560.0,362.1 L1565.0,359.4 L1570.0,359.4 L1575.0,358.9 L1580.0,359.4 L1585.0,360.0 L1590.0,360.0 L1595.0,362.8 L1600.0,362.6 L1605.0,362.3 L1610.0,361.0 L1615.0,361.4 L1620.0,360.8 L1625.0,360.2 L1630.0,361.6 L1635.0,361.6 L1640.0,362.1 L1645.0,364.4 L1650.0,363.5 L1655.0,361.1 L1660.0,359.2 L1665.0,360.2 L1670.0,361.5 L1675.0,361.2 L1680.0,360.5 L1685.0,359.2 L1690.0,358.9 L1695.0,357.3 L1700.0,358.3 L1705.0,361.2 L1710.0,364.8 L1715.0,367.3 L1720.0,370.1 L1725.0,368.4 L1730.0,366.1 L1735.0,367.2 L1740.0,368.5 L1745.0,368.2 L1750.0,369.6 L1755.0,370.1 L1760.0,371.2 L1765.0,369.8 L1770.0,367.2 L1775.0,365.4 L1780.0,362.9 L1785.0,361.4 L1790.0,363.2 L1795.0,363.3 L1800.0,361.1 L1805.0,358.4 L1810.0,356.4 L1815.0,357.7 L1820.0,358.3 L1825.0,358.2 L1830.0,357.0 L1835.0,359.5 L1840.0,360.7 L1845.0,360.2 L1850.0,358.3 L1855.0,356.1 L1860.0,354.6 L1865.0,355.8 L1870.0,355.6 L1872.0,365.6 L1877.0,368.3 L1882.0,369.6 L1887.0,369.5 L1892.0,367.8 L1897.0,368.4 L1902.0,369.3 L1907.0,371.5 L1912.0,372.5 L1917.0,374.6 L1922.0,375.1 L1927.0,377.1 L1932.0,378.3 L1937.0,378.1 L1942.0,377.8 L1947.0,378.1 L1952.0,376.6 L1957.0,376.0 L1962.0,376.9 L1967.0,376.0 L1972.0,377.3 L1977.0,379.2 L1982.0,381.6 L1987.0,382.1 L1992.0,380.8 L1997.0,381.9 L2002.0,384.0 L2007.0,384.9 L2012.0,382.6 L2017.0,378.0 L2022.0,375.4 L2027.0,372.1 L2032.0,371.4 L2037.0,370.1" fill="none" stroke="#b44c00" stroke-width="9" stroke-linejoin="round" stroke-linecap="round" filter="url(#b2)"/><path d="M1241.2,342.0 L1250.8,355.7 L1264.5,350.2 L1281.0,355.7 L1297.4,354.3 L1322.1,351.6 L1325.0,362.8 L1330.0,360.5 L1335.0,359.5 L1340.0,358.0 L1345.0,356.0 L1350.0,355.6 L1355.0,358.4 L1360.0,361.5 L1365.0,364.4 L1370.0,364.2 L1375.0,364.3 L1380.0,363.2 L1385.0,361.3 L1390.0,359.0 L1395.0,357.3 L1400.0,359.3 L1405.0,362.2 L1410.0,365.1 L1415.0,367.5 L1420.0,366.7 L1425.0,365.2 L1430.0,365.0 L1435.0,365.9 L1440.0,367.7 L1445.0,369.8 L1450.0,368.1 L1455.0,367.4 L1460.0,367.6 L1465.0,367.3 L1470.0,365.3 L1475.0,364.2 L1480.0,361.8 L1485.0,363.1 L1490.0,365.4 L1495.0,366.5 L1500.0,365.7 L1505.0,367.1 L1510.0,367.6 L1515.0,369.3 L1520.0,371.0 L1525.0,370.9 L1530.0,369.7 L1535.0,369.0 L1540.0,367.9 L1545.0,365.4 L1550.0,363.3 L1555.0,364.0 L1560.0,362.1 L1565.0,359.4 L1570.0,359.4 L1575.0,358.9 L1580.0,359.4 L1585.0,360.0 L1590.0,360.0 L1595.0,362.8 L1600.0,362.6 L1605.0,362.3 L1610.0,361.0 L1615.0,361.4 L1620.0,360.8 L1625.0,360.2 L1630.0,361.6 L1635.0,361.6 L1640.0,362.1 L1645.0,364.4 L1650.0,363.5 L1655.0,361.1 L1660.0,359.2 L1665.0,360.2 L1670.0,361.5 L1675.0,361.2 L1680.0,360.5 L1685.0,359.2 L1690.0,358.9 L1695.0,357.3 L1700.0,358.3 L1705.0,361.2 L1710.0,364.8 L1715.0,367.3 L1720.0,370.1 L1725.0,368.4 L1730.0,366.1 L1735.0,367.2 L1740.0,368.5 L1745.0,368.2 L1750.0,369.6 L1755.0,370.1 L1760.0,371.2 L1765.0,369.8 L1770.0,367.2 L1775.0,365.4 L1780.0,362.9 L1785.0,361.4 L1790.0,363.2 L1795.0,363.3 L1800.0,361.1 L1805.0,358.4 L1810.0,356.4 L1815.0,357.7 L1820.0,358.3 L1825.0,358.2 L1830.0,357.0 L1835.0,359.5 L1840.0,360.7 L1845.0,360.2 L1850.0,358.3 L1855.0,356.1 L1860.0,354.6 L1865.0,355.8 L1870.0,355.6 L1872.0,365.6 L1877.0,368.3 L1882.0,369.6 L1887.0,369.5 L1892.0,367.8 L1897.0,368.4 L1902.0,369.3 L1907.0,371.5 L1912.0,372.5 L1917.0,374.6 L1922.0,375.1 L1927.0,377.1 L1932.0,378.3 L1937.0,378.1 L1942.0,377.8 L1947.0,378.1 L1952.0,376.6 L1957.0,376.0 L1962.0,376.9 L1967.0,376.0 L1972.0,377.3 L1977.0,379.2 L1982.0,381.6 L1987.0,382.1 L1992.0,380.8 L1997.0,381.9 L2002.0,384.0 L2007.0,384.9 L2012.0,382.6 L2017.0,378.0 L2022.0,375.4 L2027.0,372.1 L2032.0,371.4 L2037.0,370.1" fill="none" stroke="#d43300" stroke-width="3" stroke-linejoin="round" stroke-linecap="round" filter="url(#b1)"/><path d="M1241.2,342.0 L1243.9,328.3 L1248.0,320.0 L1259.0,298.1 L1267.2,311.8 L1275.5,325.5 L1283.7,311.8 L1286.4,306.3" fill="none" stroke="#ae4c00" stroke-width="7" stroke-linejoin="round" stroke-linecap="round" filter="url(#b2)"/><path d="M1241.2,342.0 L1243.9,328.3 L1248.0,320.0 L1259.0,298.1 L1267.2,311.8 L1275.5,325.5 L1283.7,311.8 L1286.4,306.3" fill="none" stroke="#c73300" stroke-width="3" stroke-linejoin="round" stroke-linecap="round" filter="url(#b1)"/><rect x="1239.5" y="150.0" width="3.0" height="430.0" fill="#b14000"/><rect x="1868.2" y="150.0" width="5.0" height="430.0" fill="#b14000"/><rect x="1596.8" y="150.0" width="1.5" height="430.0" fill="#914c00"/><rect x="1690.2" y="190.0" width="1.5" height="360.0" fill="#894c00"/><rect x="1690.4" y="420.0" width="1.2" height="90.0" fill="#a14c00"/></g>
<path d="M131.5,150V580M369.5,150V580M608.5,150V580M846.5,150V580M1085.5,150V580M1323.5,150V580M1561.5,150V580M1800.5,150V580M2038.5,150V580M131.0,537.5H2038.3M131.0,451.5H2038.3M131.0,365.5H2038.3M131.0,279.5H2038.3M131.0,193.5H2038.3" stroke="#ffffff" stroke-opacity="0.6" stroke-width="1" stroke-dasharray="1.1,1.9" fill="none"/>
<path d="M131.0,152 H2038.3" stroke="#c8e6c8" stroke-width="2" stroke-dasharray="5.6,9.1" fill="none"/>
<path d="M1156.17,593.90 L1156.97,593.41 L1157.76,592.92 L1158.56,592.43 L1159.35,591.95 L1160.15,591.46 L1160.94,590.97 L1161.74,590.48 L1162.53,590.00 L1163.33,589.51 L1164.12,589.02 L1164.92,588.54 L1165.71,588.05 L1166.50,587.57 L1167.30,587.08 L1168.09,586.60 L1168.89,586.11 L1169.68,585.63 L1170.48,585.14 L1171.27,584.66 L1172.07,584.18 L1172.86,583.69 L1173.66,583.21 L1174.45,582.73 L1175.25,582.25 L1176.04,581.77 L1176.84,581.29 L1177.63,580.81 L1178.43,580.33 L1179.22,579.85 L1180.01,579.37 L1180.81,578.89 L1181.60,578.41 L1182.40,577.93 L1183.19,577.45 L1183.99,576.97 L1184.78,576.50 L1185.58,576.02 L1186.37,575.54 L1187.17,575.07 L1187.96,574.59 L1188.76,574.12 L1189.55,573.64 L1190.35,573.17 L1191.14,572.69 L1191.94,572.22 L1192.73,571.74 L1193.53,571.27 L1194.32,570.80 L1195.11,570.33 L1195.91,569.85 L1196.70,569.38 L1197.50,568.91 L1198.29,568.44 L1199.09,567.97 L1199.88,567.50 L1200.68,567.03 L1201.47,566.56 L1202.27,566.09 L1203.06,565.62 L1203.86,565.16 L1204.65,564.69 L1205.45,564.22 L1206.24,563.76 L1207.04,563.29 L1207.83,562.82 L1208.62,562.36 L1209.42,561.89 L1210.21,561.43 L1211.01,560.97 L1211.80,560.50 L1212.60,560.04 L1213.39,559.58 L1214.19,559.11 L1214.98,558.65 L1215.78,558.19 L1216.57,557.73 L1217.37,557.27 L1218.16,556.81 L1218.96,556.35 L1219.75,555.89 L1220.55,555.43 L1221.34,554.97 L1222.13,554.52 L1222.93,554.06 L1223.72,553.60 L1224.52,553.15 L1225.31,552.69 L1226.11,552.24 L1226.90,551.78 L1227.70,551.33 L1228.49,550.87 L1229.29,550.42 L1230.08,549.97 L1230.88,549.51 L1231.67,549.06 L1232.47,548.61 L1233.26,548.16 L1234.06,547.71 L1234.85,547.26 L1235.64,546.81 L1236.44,546.36 L1237.23,545.91 L1238.03,545.46 L1238.82,545.02 L1239.62,544.57 L1240.41,544.12 L1241.21,543.68 L1242.00,543.23 L1242.80,542.79 L1243.59,542.34 L1244.39,541.90 L1245.18,541.45 L1245.98,541.01 L1246.77,540.57 L1247.57,540.13 L1248.36,539.69 L1249.15,539.25 L1249.95,538.81 L1250.74,538.37 L1251.54,537.93 L1252.33,537.49 L1253.13,537.05 L1253.92,536.61 L1254.72,536.18 L1255.51,535.74 L1256.31,535.30 L1257.10,534.87 L1257.90,534.44 L1258.69,534.00 L1259.49,533.57 L1260.28,533.13 L1261.08,532.70 L1261.87,532.27 L1262.66,531.84 L1263.46,531.41 L1264.25,530.98 L1265.05,530.55 L1265.84,530.12 L1266.64,529.69 L1267.43,529.26 L1268.23,528.84 L1269.02,528.41 L1269.82,527.99 L1270.61,527.56 L1271.41,527.14 L1272.20,526.71 L1273.00,526.29 L1273.79,525.87 L1274.59,525.44 L1275.38,525.02 L1276.17,524.60 L1276.97,524.18 L1277.76,523.76 L1278.56,523.34 L1279.35,522.92 L1280.15,522.50 L1280.94,522.09 L1281.74,521.67 L1282.53,521.25 L1283.33,520.84 L1284.12,520.42 L1284.92,520.01 L1285.71,519.60 L1286.51,519.18 L1287.30,518.77 L1288.10,518.36 L1288.89,517.95 L1289.68,517.54 L1290.48,517.13 L1291.27,516.72 L1292.07,516.31 L1292.86,515.91 L1293.66,515.50 L1294.45,515.09 L1295.25,514.69 L1296.04,514.28 L1296.84,513.88 L1297.63,513.48 L1298.43,513.07 L1299.22,512.67 L1300.02,512.27 L1300.81,511.87 L1301.61,511.47 L1302.40,511.07 L1303.19,510.67 L1303.99,510.27 L1304.78,509.88 L1305.58,509.48 L1306.37,509.08 L1307.17,508.69 L1307.96,508.30 L1308.76,507.90 L1309.55,507.51 L1310.35,507.12 L1311.14,506.73 L1311.94,506.34 L1312.73,505.95 L1313.53,505.56 L1314.32,505.17 L1315.12,504.78 L1315.91,504.39 L1316.70,504.01 L1317.50,503.62 L1318.29,503.24 L1319.09,502.85 L1319.88,502.47 L1320.68,502.09 L1321.47,501.71 L1322.27,501.33 L1323.06,500.95 L1323.86,500.57 L1324.65,500.19 L1325.45,499.81 L1326.24,499.43 L1327.04,499.06 L1327.83,498.68 L1328.63,498.31 L1329.42,497.93 L1330.21,497.56 L1331.01,497.19 L1331.80,496.82 L1332.60,496.45 L1333.39,496.08 L1334.19,495.71 L1334.98,495.34 L1335.78,494.97 L1336.57,494.61 L1337.37,494.24 L1338.16,493.88 L1338.96,493.51 L1339.75,493.15 L1340.55,492.79 L1341.34,492.43 L1342.14,492.07 L1342.93,491.71 L1343.72,491.35 L1344.52,490.99 L1345.31,490.63 L1346.11,490.28 L1346.90,489.92 L1347.70,489.57 L1348.49,489.21 L1349.29,488.86 L1350.08,488.51 L1350.88,488.16 L1351.67,487.81 L1352.47,487.46 L1353.26,487.11 L1354.06,486.76 L1354.85,486.41 L1355.65,486.07 L1356.44,485.72 L1357.23,485.38 L1358.03,485.04 L1358.82,484.70 L1359.62,484.35 L1360.41,484.01 L1361.21,483.67 L1362.00,483.34 L1362.80,483.00 L1363.59,482.66 L1364.39,482.33 L1365.18,481.99 L1365.98,481.66 L1366.77,481.32 L1367.57,480.99 L1368.36,480.66 L1369.16,480.33 L1369.95,480.00 L1370.74,479.67 L1371.54,479.35 L1372.33,479.02 L1373.13,478.70 L1373.92,478.37 L1374.72,478.05 L1375.51,477.73 L1376.31,477.40 L1377.10,477.08 L1377.90,476.76 L1378.69,476.45 L1379.49,476.13 L1380.28,475.81 L1381.08,475.50 L1381.87,475.18 L1382.67,474.87 L1383.46,474.56 L1384.26,474.24 L1385.05,473.93 L1385.84,473.62 L1386.64,473.32 L1387.43,473.01 L1388.23,472.70 L1389.02,472.40 L1389.82,472.09 L1390.61,471.79 L1391.41,471.49 L1392.20,471.18 L1393.00,470.88 L1393.79,470.59 L1394.59,470.29 L1395.38,469.99 L1396.18,469.69 L1396.97,469.40 L1397.77,469.10 L1398.56,468.81 L1399.35,468.52 L1400.15,468.23 L1400.94,467.94 L1401.74,467.65 L1402.53,467.36 L1403.33,467.08 L1404.12,466.79 L1404.92,466.51 L1405.71,466.22 L1406.51,465.94 L1407.30,465.66 L1408.10,465.38 L1408.89,465.10 L1409.69,464.82 L1410.48,464.55 L1411.28,464.27 L1412.07,464.00 L1412.86,463.73 L1413.66,463.45 L1414.45,463.18 L1415.25,462.91 L1416.04,462.64 L1416.84,462.38 L1417.63,462.11 L1418.43,461.84 L1419.22,461.58 L1420.02,461.32 L1420.81,461.05 L1421.61,460.79 L1422.40,460.53 L1423.20,460.28 L1423.99,460.02 L1424.79,459.76 L1425.58,459.51 L1426.37,459.25 L1427.17,459.00 L1427.96,458.75 L1428.76,458.50 L1429.55,458.25 L1430.35,458.00 L1431.14,457.76 L1431.94,457.51 L1432.73,457.27 L1433.53,457.02 L1434.32,456.78 L1435.12,456.54 L1435.91,456.30 L1436.71,456.06 L1437.50,455.83 L1438.30,455.59 L1439.09,455.36 L1439.88,455.12 L1440.68,454.89 L1441.47,454.66 L1442.27,454.43 L1443.06,454.20 L1443.86,453.97 L1444.65,453.75 L1445.45,453.52 L1446.24,453.30 L1447.04,453.08 L1447.83,452.86 L1448.63,452.64 L1449.42,452.42 L1450.22,452.20 L1451.01,451.98 L1451.81,451.77 L1452.60,451.56 L1453.39,451.34 L1454.19,451.13 L1454.98,450.92 L1455.78,450.72 L1456.57,450.51 L1457.37,450.30 L1458.16,450.10 L1458.96,449.90 L1459.75,449.69 L1460.55,449.49 L1461.34,449.29 L1462.14,449.10 L1462.93,448.90 L1463.73,448.70 L1464.52,448.51 L1465.32,448.32 L1466.11,448.12 L1466.90,447.93 L1467.70,447.75 L1468.49,447.56 L1469.29,447.37 L1470.08,447.19 L1470.88,447.00 L1471.67,446.82 L1472.47,446.64 L1473.26,446.46 L1474.06,446.28 L1474.85,446.11 L1475.65,445.93 L1476.44,445.76 L1477.24,445.58 L1478.03,445.41 L1478.83,445.24 L1479.62,445.07 L1480.41,444.91 L1481.21,444.74 L1482.00,444.58 L1482.80,444.41 L1483.59,444.25 L1484.39,444.09 L1485.18,443.93 L1485.98,443.77 L1486.77,443.62 L1487.57,443.46 L1488.36,443.31 L1489.16,443.16 L1489.95,443.01 L1490.75,442.86 L1491.54,442.71 L1492.34,442.56 L1493.13,442.42 L1493.92,442.27 L1494.72,442.13 L1495.51,441.99 L1496.31,441.85 L1497.10,441.71 L1497.90,441.57 L1498.69,441.44 L1499.49,441.30 L1500.28,441.17 L1501.08,441.04 L1501.87,440.91 L1502.67,440.78 L1503.46,440.66 L1504.26,440.53 L1505.05,440.41 L1505.85,440.28 L1506.64,440.16 L1507.43,440.04 L1508.23,439.93 L1509.02,439.81 L1509.82,439.69 L1510.61,439.58 L1511.41,439.47 L1512.20,439.36 L1513.00,439.25 L1513.79,439.14 L1514.59,439.03 L1515.38,438.93 L1516.18,438.82 L1516.97,438.72 L1517.77,438.62 L1518.56,438.52 L1519.36,438.42 L1520.15,438.32 L1520.94,438.23 L1521.74,438.14 L1522.53,438.04 L1523.33,437.95 L1524.12,437.86 L1524.92,437.78 L1525.71,437.69 L1526.51,437.61 L1527.30,437.52 L1528.10,437.44 L1528.89,437.36 L1529.69,437.28 L1530.48,437.20 L1531.28,437.13 L1532.07,437.05 L1532.87,436.98 L1533.66,436.91 L1534.45,436.84 L1535.25,436.77 L1536.04,436.70 L1536.84,436.64 L1537.63,436.57 L1538.43,436.51 L1539.22,436.45 L1540.02,436.39 L1540.81,436.33 L1541.61,436.28 L1542.40,436.22 L1543.20,436.17 L1543.99,436.12 L1544.79,436.06 L1545.58,436.02 L1546.38,435.97 L1547.17,435.92 L1547.96,435.88 L1548.76,435.83 L1549.55,435.79 L1550.35,435.75 L1551.14,435.71 L1551.94,435.68 L1552.73,435.64 L1553.53,435.61 L1554.32,435.58 L1555.12,435.54 L1555.91,435.52 L1556.71,435.49 L1557.50,435.46 L1558.30,435.44 L1559.09,435.41 L1559.89,435.39 L1560.68,435.37 L1561.48,435.35 L1562.27,435.33 L1563.06,435.32 L1563.86,435.30 L1564.65,435.29 L1565.45,435.28 L1566.24,435.27 L1567.04,435.26 L1567.83,435.25 L1568.63,435.25 L1569.42,435.25 L1570.22,435.24 L1571.01,435.24 L1571.81,435.24 L1572.60,435.25 L1573.40,435.25 L1574.19,435.25 L1574.99,435.26 L1575.78,435.27 L1576.57,435.28 L1577.37,435.29 L1578.16,435.30 L1578.96,435.32 L1579.75,435.33 L1580.55,435.35 L1581.34,435.37 L1582.14,435.39 L1582.93,435.41 L1583.73,435.44 L1584.52,435.46 L1585.32,435.49 L1586.11,435.52 L1586.91,435.54 L1587.70,435.58 L1588.50,435.61 L1589.29,435.64 L1590.08,435.68 L1590.88,435.71 L1591.67,435.75 L1592.47,435.79 L1593.26,435.83 L1594.06,435.88 L1594.85,435.92 L1595.65,435.97 L1596.44,436.02 L1597.24,436.06 L1598.03,436.12 L1598.83,436.17 L1599.62,436.22 L1600.42,436.28 L1601.21,436.33 L1602.01,436.39 L1602.80,436.45 L1603.59,436.51 L1604.39,436.57 L1605.18,436.64 L1605.98,436.70 L1606.77,436.77 L1607.57,436.84 L1608.36,436.91 L1609.16,436.98 L1609.95,437.05 L1610.75,437.13 L1611.54,437.20 L1612.34,437.28 L1613.13,437.36 L1613.93,437.44 L1614.72,437.52 L1615.52,437.61 L1616.31,437.69 L1617.10,437.78 L1617.90,437.86 L1618.69,437.95 L1619.49,438.04 L1620.28,438.14 L1621.08,438.23 L1621.87,438.32 L1622.67,438.42 L1623.46,438.52 L1624.26,438.62 L1625.05,438.72 L1625.85,438.82 L1626.64,438.93 L1627.44,439.03 L1628.23,439.14 L1629.03,439.25 L1629.82,439.36 L1630.61,439.47 L1631.41,439.58 L1632.20,439.69 L1633.00,439.81 L1633.79,439.93 L1634.59,440.04 L1635.38,440.16 L1636.18,440.28 L1636.97,440.41 L1637.77,440.53 L1638.56,440.66 L1639.36,440.78 L1640.15,440.91 L1640.95,441.04 L1641.74,441.17 L1642.54,441.30 L1643.33,441.44 L1644.12,441.57 L1644.92,441.71 L1645.71,441.85 L1646.51,441.99 L1647.30,442.13 L1648.10,442.27 L1648.89,442.42 L1649.69,442.56 L1650.48,442.71 L1651.28,442.86 L1652.07,443.01 L1652.87,443.16 L1653.66,443.31 L1654.46,443.46 L1655.25,443.62 L1656.05,443.77 L1656.84,443.93 L1657.63,444.09 L1658.43,444.25 L1659.22,444.41 L1660.02,444.58 L1660.81,444.74 L1661.61,444.91 L1662.40,445.07 L1663.20,445.24 L1663.99,445.41 L1664.79,445.58 L1665.58,445.76 L1666.38,445.93 L1667.17,446.11 L1667.97,446.28 L1668.76,446.46 L1669.56,446.64 L1670.35,446.82 L1671.14,447.00 L1671.94,447.19 L1672.73,447.37 L1673.53,447.56 L1674.32,447.75 L1675.12,447.93 L1675.91,448.12 L1676.71,448.32 L1677.50,448.51 L1678.30,448.70 L1679.09,448.90 L1679.89,449.10 L1680.68,449.29 L1681.48,449.49 L1682.27,449.69 L1683.07,449.90 L1683.86,450.10 L1684.65,450.30 L1685.45,450.51 L1686.24,450.72 L1687.04,450.92 L1687.83,451.13 L1688.63,451.34 L1689.42,451.56 L1690.22,451.77 L1691.01,451.98 L1691.81,452.20 L1692.60,452.42 L1693.40,452.64 L1694.19,452.86 L1694.99,453.08 L1695.78,453.30 L1696.58,453.52 L1697.37,453.75 L1698.16,453.97 L1698.96,454.20 L1699.75,454.43 L1700.55,454.66 L1701.34,454.89 L1702.14,455.12 L1702.93,455.36 L1703.73,455.59 L1704.52,455.83 L1705.32,456.06 L1706.11,456.30 L1706.91,456.54 L1707.70,456.78 L1708.50,457.02 L1709.29,457.27 L1710.09,457.51 L1710.88,457.76 L1711.67,458.00 L1712.47,458.25 L1713.26,458.50 L1714.06,458.75 L1714.85,459.00 L1715.65,459.25 L1716.44,459.51 L1717.24,459.76 L1718.03,460.02 L1718.83,460.28 L1719.62,460.53 L1720.42,460.79 L1721.21,461.05 L1722.01,461.32 L1722.80,461.58 L1723.60,461.84 L1724.39,462.11 L1725.18,462.38 L1725.98,462.64 L1726.77,462.91 L1727.57,463.18 L1728.36,463.45 L1729.16,463.73 L1729.95,464.00 L1730.75,464.27 L1731.54,464.55 L1732.34,464.82 L1733.13,465.10 L1733.93,465.38 L1734.72,465.66 L1735.52,465.94 L1736.31,466.22 L1737.11,466.51 L1737.90,466.79 L1738.69,467.08 L1739.49,467.36 L1740.28,467.65 L1741.08,467.94 L1741.87,468.23 L1742.67,468.52 L1743.46,468.81 L1744.26,469.10 L1745.05,469.40 L1745.85,469.69 L1746.64,469.99 L1747.44,470.29 L1748.23,470.59 L1749.03,470.88 L1749.82,471.18 L1750.62,471.49 L1751.41,471.79 L1752.21,472.09 L1753.00,472.40 L1753.79,472.70 L1754.59,473.01 L1755.38,473.32 L1756.18,473.62 L1756.97,473.93 L1757.77,474.24 L1758.56,474.56 L1759.36,474.87 L1760.15,475.18 L1760.95,475.50 L1761.74,475.81 L1762.54,476.13 L1763.33,476.45 L1764.13,476.76 L1764.92,477.08 L1765.72,477.40 L1766.51,477.73 L1767.30,478.05 L1768.10,478.37 L1768.89,478.70 L1769.69,479.02 L1770.48,479.35 L1771.28,479.67 L1772.07,480.00 L1772.87,480.33 L1773.66,480.66 L1774.46,480.99 L1775.25,481.32 L1776.05,481.66 L1776.84,481.99 L1777.64,482.33 L1778.43,482.66 L1779.23,483.00 L1780.02,483.34 L1780.81,483.67 L1781.61,484.01 L1782.40,484.35 L1783.20,484.70 L1783.99,485.04 L1784.79,485.38 L1785.58,485.72 L1786.38,486.07 L1787.17,486.41 L1787.97,486.76 L1788.76,487.11 L1789.56,487.46 L1790.35,487.81 L1791.15,488.16 L1791.94,488.51 L1792.74,488.86 L1793.53,489.21 L1794.32,489.57 L1795.12,489.92 L1795.91,490.28 L1796.71,490.63 L1797.50,490.99 L1798.30,491.35 L1799.09,491.71 L1799.89,492.07 L1800.68,492.43 L1801.48,492.79 L1802.27,493.15 L1803.07,493.51 L1803.86,493.88 L1804.66,494.24 L1805.45,494.61 L1806.25,494.97 L1807.04,495.34 L1807.83,495.71 L1808.63,496.08 L1809.42,496.45 L1810.22,496.82 L1811.01,497.19 L1811.81,497.56 L1812.60,497.93 L1813.40,498.31 L1814.19,498.68 L1814.99,499.06 L1815.78,499.43 L1816.58,499.81 L1817.37,500.19 L1818.17,500.57 L1818.96,500.95 L1819.76,501.33 L1820.55,501.71 L1821.34,502.09 L1822.14,502.47 L1822.93,502.85 L1823.73,503.24 L1824.52,503.62 L1825.32,504.01 L1826.11,504.39 L1826.91,504.78 L1827.70,505.17 L1828.50,505.56 L1829.29,505.95 L1830.09,506.34 L1830.88,506.73 L1831.68,507.12 L1832.47,507.51 L1833.27,507.90 L1834.06,508.30 L1834.85,508.69 L1835.65,509.08 L1836.44,509.48 L1837.24,509.88 L1838.03,510.27 L1838.83,510.67 L1839.62,511.07 L1840.42,511.47 L1841.21,511.87 L1842.01,512.27 L1842.80,512.67 L1843.60,513.07 L1844.39,513.48 L1845.19,513.88 L1845.98,514.28 L1846.78,514.69 L1847.57,515.09 L1848.36,515.50 L1849.16,515.91 L1849.95,516.31 L1850.75,516.72 L1851.54,517.13 L1852.34,517.54 L1853.13,517.95 L1853.93,518.36 L1854.72,518.77 L1855.52,519.18 L1856.31,519.60 L1857.11,520.01 L1857.90,520.42 L1858.70,520.84 L1859.49,521.25 L1860.29,521.67 L1861.08,522.09 L1861.87,522.50 L1862.67,522.92 L1863.46,523.34 L1864.26,523.76 L1865.05,524.18 L1865.85,524.60 L1866.64,525.02 L1867.44,525.44 L1868.23,525.87 L1869.03,526.29 L1869.82,526.71 L1870.62,527.14 L1871.41,527.56 L1872.21,527.99 L1873.00,528.41 L1873.80,528.84 L1874.59,529.26 L1875.38,529.69 L1876.18,530.12 L1876.97,530.55 L1877.77,530.98 L1878.56,531.41 L1879.36,531.84 L1880.15,532.27 L1880.95,532.70 L1881.74,533.13 L1882.54,533.57 L1883.33,534.00 L1884.13,534.44 L1884.92,534.87 L1885.72,535.30 L1886.51,535.74 L1887.31,536.18 L1888.10,536.61 L1888.89,537.05 L1889.69,537.49 L1890.48,537.93 L1891.28,538.37 L1892.07,538.81 L1892.87,539.25 L1893.66,539.69 L1894.46,540.13 L1895.25,540.57 L1896.05,541.01 L1896.84,541.45 L1897.64,541.90 L1898.43,542.34 L1899.23,542.79 L1900.02,543.23 L1900.82,543.68 L1901.61,544.12 L1902.40,544.57 L1903.20,545.02 L1903.99,545.46 L1904.79,545.91 L1905.58,546.36 L1906.38,546.81 L1907.17,547.26 L1907.97,547.71 L1908.76,548.16 L1909.56,548.61 L1910.35,549.06 L1911.15,549.51 L1911.94,549.97 L1912.74,550.42 L1913.53,550.87 L1914.33,551.33 L1915.12,551.78 L1915.91,552.24 L1916.71,552.69 L1917.50,553.15 L1918.30,553.60 L1919.09,554.06 L1919.89,554.52 L1920.68,554.97 L1921.48,555.43 L1922.27,555.89 L1923.07,556.35 L1923.86,556.81 L1924.66,557.27 L1925.45,557.73 L1926.25,558.19 L1927.04,558.65 L1927.84,559.11 L1928.63,559.58 L1929.42,560.04 L1930.22,560.50 L1931.01,560.97 L1931.81,561.43 L1932.60,561.89 L1933.40,562.36 L1934.19,562.82 L1934.99,563.29 L1935.78,563.76 L1936.58,564.22 L1937.37,564.69 L1938.17,565.16 L1938.96,565.62 L1939.76,566.09 L1940.55,566.56 L1941.35,567.03 L1942.14,567.50 L1942.94,567.97 L1943.73,568.44 L1944.52,568.91 L1945.32,569.38 L1946.11,569.85 L1946.91,570.33 L1947.70,570.80 L1948.50,571.27 L1949.29,571.74 L1950.09,572.22 L1950.88,572.69 L1951.68,573.17 L1952.47,573.64 L1953.27,574.12 L1954.06,574.59 L1954.86,575.07 L1955.65,575.54 L1956.45,576.02 L1957.24,576.50 L1958.03,576.97 L1958.83,577.45 L1959.62,577.93 L1960.42,578.41 L1961.21,578.89 L1962.01,579.37 L1962.80,579.85 L1963.60,580.33 L1964.39,580.81 L1965.19,581.29 L1965.98,581.77 L1966.78,582.25 L1967.57,582.73 L1968.37,583.21 L1969.16,583.69 L1969.96,584.18 L1970.75,584.66 L1971.54,585.14 L1972.34,585.63 L1973.13,586.11 L1973.93,586.60 L1974.72,587.08 L1975.52,587.57 L1976.31,588.05 L1977.11,588.54 L1977.90,589.02 L1978.70,589.51 L1979.49,590.00 L1980.29,590.48 L1981.08,590.97 L1981.88,591.46 L1982.67,591.95 L1983.47,592.43 L1984.26,592.92 L1985.05,593.41 L1985.85,593.90 L1986.64,594.39 L1987.44,594.88 L1988.23,595.37 L1989.03,595.86 L1989.82,596.35" stroke="#ffffff" stroke-opacity="0.78" stroke-width="5.6" stroke-dasharray="35.6,8.9,5.6,8.9" stroke-dashoffset="48.26" fill="none"/>
</g>
<rect x="130.5" y="150.5" width="1908.0" height="430" fill="none" stroke="#000" stroke-width="1.1"/>
<text x="77.14" y="547.30" font-size="30.26" textLength="43.86" lengthAdjust="spacingAndGlyphs">−4</text>
<text x="77.14" y="461.30" font-size="30.26" textLength="43.86" lengthAdjust="spacingAndGlyphs">−2</text>
<text x="101.10" y="375.30" font-size="30.26" textLength="19.90" lengthAdjust="spacingAndGlyphs">0</text>
<text x="101.10" y="289.30" font-size="30.26" textLength="19.90" lengthAdjust="spacingAndGlyphs">2</text>
<text x="101.10" y="203.30" font-size="30.26" textLength="19.90" lengthAdjust="spacingAndGlyphs">4</text>
<text x="2047.94" y="590.30" font-size="30.26" textLength="19.90" lengthAdjust="spacingAndGlyphs">0</text>
<text x="2047.01" y="494.74" font-size="30.26" textLength="39.80" lengthAdjust="spacingAndGlyphs">20</text>
<text x="2048.01" y="399.19" font-size="30.26" textLength="39.80" lengthAdjust="spacingAndGlyphs">40</text>
<text x="2047.51" y="303.63" font-size="30.26" textLength="39.80" lengthAdjust="spacingAndGlyphs">60</text>
<text x="2047.58" y="208.08" font-size="30.26" textLength="39.80" lengthAdjust="spacingAndGlyphs">80</text>
<text x="2163.24" y="160.30" font-size="30.26" textLength="50.67" lengthAdjust="spacingAndGlyphs">0.0</text>
<text x="2163.24" y="246.30" font-size="30.26" textLength="50.67" lengthAdjust="spacingAndGlyphs">0.2</text>
<text x="2163.24" y="332.30" font-size="30.26" textLength="50.67" lengthAdjust="spacingAndGlyphs">0.4</text>
<text x="2163.24" y="418.30" font-size="30.26" textLength="50.67" lengthAdjust="spacingAndGlyphs">0.6</text>
<text x="2163.24" y="504.30" font-size="30.26" textLength="50.67" lengthAdjust="spacingAndGlyphs">0.8</text>
<text x="2161.38" y="590.30" font-size="30.26" textLength="50.67" lengthAdjust="spacingAndGlyphs">1.0</text>
<rect x="2292.5" y="150.5" width="22" height="429" fill="url(#cbar)" stroke="#000" stroke-width="1.1"/>
<text x="2325.00" y="499.77" font-size="30.26" textLength="63.76" lengthAdjust="spacingAndGlyphs">−50</text>
<text x="2325.00" y="386.62" font-size="30.26" textLength="19.90" lengthAdjust="spacingAndGlyphs">0</text>
<text x="2325.00" y="273.46" font-size="30.26" textLength="39.80" lengthAdjust="spacingAndGlyphs">50</text>
<text x="2325.00" y="160.30" font-size="30.26" textLength="59.70" lengthAdjust="spacingAndGlyphs">100</text>
<path d="M125.4,537.0H130.5M125.4,451.0H130.5M125.4,365.0H130.5M125.4,279.0H130.5M125.4,193.0H130.5M2038.3,580.0H2043.3M2038.3,484.4H2043.3M2038.3,388.9H2043.3M2038.3,293.3H2043.3M2038.3,197.8H2043.3M2152.5,150V580.5M2152.5,150.0H2157.5M2152.5,236.0H2157.5M2152.5,322.0H2157.5M2152.5,408.0H2157.5M2152.5,494.0H2157.5M2152.5,580.0H2157.5M2314.5,580.0H2319.3M2314.5,557.4H2319.3M2314.5,534.7H2319.3M2314.5,512.1H2319.3M2314.5,489.5H2321.5M2314.5,466.8H2319.3M2314.5,444.2H2319.3M2314.5,421.6H2319.3M2314.5,398.9H2319.3M2314.5,376.3H2321.5M2314.5,353.7H2319.3M2314.5,331.1H2319.3M2314.5,308.4H2319.3M2314.5,285.8H2319.3M2314.5,263.2H2321.5M2314.5,240.5H2319.3M2314.5,217.9H2319.3M2314.5,195.3H2319.3M2314.5,172.6H2319.3M2314.5,150.0H2321.5" stroke="#000" stroke-width="1.1" fill="none"/>
<text x="0" y="0" font-size="30.26" textLength="159.51" lengthAdjust="spacingAndGlyphs" transform="translate(33.80,448.89) rotate(-90)">15.00MHz</text>
<text x="0" y="0" font-size="30.26" textLength="291.16" lengthAdjust="spacingAndGlyphs" transform="translate(62.80,511.23) rotate(-90)">Doppler Shift (Hz)</text>
<text x="0" y="0" font-size="30.26" textLength="345.71" lengthAdjust="spacingAndGlyphs" transform="translate(2113.70,538.46) rotate(-90)">Solar Elevation Angle</text>
<text x="0" y="0" font-size="30.26" textLength="318.96" lengthAdjust="spacingAndGlyphs" transform="translate(2239.80,525.30) rotate(-90)">Eclipse Obscuration</text>
<text x="0" y="0" font-size="30.26" textLength="143.67" lengthAdjust="spacingAndGlyphs" transform="translate(2415.90,437.66) rotate(-90)">PSD (dB)</text>
<clipPath id="clip1"><rect x="131.0" y="626" width="1907.3" height="430"/></clipPath>
<g clip-path="url(#clip1)">
<rect x="131.0" y="626" width="1907.3" height="430" fill="#007c00"/>
<g filter="url(#spec1)"><rect x="131.0" y="626.0" width="1907.3" height="430.0" fill="#722e00"/><rect x="131.0" y="626.0" width="249.0" height="430.0" fill="#816600"/><rect x="370.0" y="626.0" width="35.0" height="430.0" fill="#7d5c00" filter="url(#b8)"/><rect x="133.6" y="626.0" width="1.2" height="430.0" fill="#836100"/><rect x="310.3" y="626.0" width="1.2" height="430.0" fill="#7c6100"/><rect x="190.9" y="626.0" width="2.1" height="430.0" fill="#7d6100"/><rect x="324.8" y="626.0" width="2.0" height="430.0" fill="#7c6100"/><rect x="271.0" y="626.0" width="1.7" height="430.0" fill="#846100"/><rect x="392.5" y="626.0" width="1.1" height="430.0" fill="#796100"/><rect x="377.4" y="626.0" width="1.6" height="430.0" fill="#7e6100"/><rect x="217.1" y="626.0" width="1.5" height="430.0" fill="#926100"/><rect x="185.7" y="626.0" width="1.3" height="430.0" fill="#886100"/><rect x="273.7" y="626.0" width="2.4" height="430.0" fill="#8f6100"/><rect x="223.8" y="626.0" width="1.3" height="430.0" fill="#8f6100"/><rect x="390.6" y="626.0" width="1.0" height="430.0" fill="#8d6100"/><rect x="358.4" y="626.0" width="2.0" height="430.0" fill="#7f6100"/><rect x="339.5" y="626.0" width="2.1" height="430.0" fill="#7e6100"/><rect x="298.9" y="626.0" width="1.3" height="430.0" fill="#7a6100"/><rect x="218.6" y="626.0" width="1.5" height="430.0" fill="#836100"/><rect x="300.0" y="626.0" width="2.3" height="430.0" fill="#936100"/><rect x="386.6" y="626.0" width="2.5" height="430.0" fill="#8e6100"/><rect x="210.9" y="626.0" width="1.3" height="430.0" fill="#8a6100"/><rect x="273.5" y="626.0" width="2.0" height="430.0" fill="#7b6100"/><rect x="180.5" y="626.0" width="2.4" height="430.0" fill="#896100"/><rect x="313.3" y="626.0" width="1.1" height="430.0" fill="#846100"/><rect x="369.4" y="626.0" width="2.0" height="430.0" fill="#936100"/><rect x="181.9" y="626.0" width="1.7" height="430.0" fill="#8e6100"/><rect x="246.9" y="626.0" width="2.2" height="430.0" fill="#886100"/><rect x="161.5" y="626.0" width="1.1" height="430.0" fill="#936100"/><rect x="161.7" y="626.0" width="1.3" height="430.0" fill="#826100"/><rect x="317.5" y="626.0" width="2.3" height="430.0" fill="#866100"/><rect x="260.9" y="626.0" width="2.2" height="430.0" fill="#806100"/><rect x="228.0" y="626.0" width="1.9" height="430.0" fill="#8a6100"/><path d="M131.0,695.4 L133.7,681.6 L139.2,678.9 L155.7,663.8 L161.2,673.4 L177.6,672.0 L194.1,676.2 L207.8,670.7 L218.8,670.7 L235.2,687.1 L246.2,681.6 L257.2,663.8 L273.6,667.9 L290.1,658.3 L306.5,665.2 L314.8,670.7 L331.2,670.7 L342.2,689.9 L355.9,665.2 L366.9,667.9 L377.8,673.4" fill="none" stroke="#a14c00" stroke-width="2.5" stroke-linejoin="round" stroke-linecap="round" filter="url(#b1)"/><path d="M131.0,738.4 L133.7,724.6 L139.2,721.9 L155.7,706.8 L161.2,716.4 L177.6,715.0 L194.1,719.2 L207.8,713.7 L218.8,713.7 L235.2,730.1 L246.2,724.6 L257.2,706.8 L273.6,710.9 L290.1,701.3 L306.5,708.2 L314.8,713.7 L331.2,713.7 L342.2,732.9 L355.9,708.2 L366.9,710.9 L377.8,716.4" fill="none" stroke="#a14c00" stroke-width="2.5" stroke-linejoin="round" stroke-linecap="round" filter="url(#b1)"/><path d="M131.0,781.4 L133.7,767.6 L139.2,764.9 L155.7,749.8 L161.2,759.4 L177.6,758.0 L194.1,762.2 L207.8,756.7 L218.8,756.7 L235.2,773.1 L246.2,767.6 L257.2,749.8 L273.6,753.9 L290.1,744.3 L306.5,751.2 L314.8,756.7 L331.2,756.7 L342.2,775.9 L355.9,751.2 L366.9,753.9 L377.8,759.4" fill="none" stroke="#a14c00" stroke-width="2.5" stroke-linejoin="round" stroke-linecap="round" filter="url(#b1)"/><path d="M131.0,824.4 L133.7,810.6 L139.2,807.9 L155.7,792.8 L161.2,802.4 L177.6,801.0 L194.1,805.2 L207.8,799.7 L218.8,799.7 L235.2,816.1 L246.2,810.6 L257.2,792.8 L273.6,796.9 L290.1,787.3 L306.5,794.2 L314.8,799.7 L331.2,799.7 L342.2,818.9 L355.9,794.2 L366.9,796.9 L377.8,802.4" fill="none" stroke="#a14c00" stroke-width="2.5" stroke-linejoin="round" stroke-linecap="round" filter="url(#b1)"/><path d="M131.0,996.4 L133.7,982.6 L139.2,979.9 L155.7,964.8 L161.2,974.4 L177.6,973.0 L194.1,977.2 L207.8,971.7 L218.8,971.7 L235.2,988.1 L246.2,982.6 L257.2,964.8 L273.6,968.9 L290.1,959.3 L306.5,966.2 L314.8,971.7 L331.2,971.7 L342.2,990.9 L355.9,966.2 L366.9,968.9 L377.8,974.4" fill="none" stroke="#a14c00" stroke-width="2.5" stroke-linejoin="round" stroke-linecap="round" filter="url(#b1)"/><path d="M131.0,1039.4 L133.7,1025.6 L139.2,1022.9 L155.7,1007.8 L161.2,1017.4 L177.6,1016.0 L194.1,1020.2 L207.8,1014.7 L218.8,1014.7 L235.2,1031.1 L246.2,1025.6 L257.2,1007.8 L273.6,1011.9 L290.1,1002.3 L306.5,1009.2 L314.8,1014.7 L331.2,1014.7 L342.2,1033.9 L355.9,1009.2 L366.9,1011.9 L377.8,1017.4" fill="none" stroke="#a14c00" stroke-width="2.5" stroke-linejoin="round" stroke-linecap="round" filter="url(#b1)"/><rect x="131.0" y="801.0" width="263.0" height="115.0" fill="#915c00" filter="url(#b10)"/><polygon points="131.0,845.4 207.8,845.4 213.3,900.3 131.0,900.3" fill="#ae4c00" filter="url(#b6)"/><polygon points="295.6,859.1 372.4,856.4 372.4,900.3 301.0,900.3" fill="#a94c00" filter="url(#b6)"/><polygon points="207.8,850.9 295.6,850.9 295.6,889.3 207.8,889.3" fill="#9c5200" filter="url(#b8)"/><rect x="131.0" y="926.0" width="5.0" height="100.0" fill="#a14c00" filter="url(#b1_5)"/><path d="M131.0,867.4 L133.7,853.6 L139.2,850.9 L155.7,835.8 L161.2,845.4 L177.6,844.0 L194.1,848.2 L207.8,842.7 L218.8,842.7 L235.2,859.1 L246.2,853.6 L257.2,835.8 L273.6,839.9 L290.1,830.3 L306.5,837.2 L314.8,842.7 L331.2,842.7 L342.2,861.9 L355.9,837.2 L366.9,839.9 L377.8,845.4 L386.1,853.6 L394.3,849.5" fill="none" stroke="#b74c00" stroke-width="12" stroke-linejoin="round" stroke-linecap="round" filter="url(#b2)"/><path d="M131.0,867.4 L133.7,853.6 L139.2,850.9 L155.7,835.8 L161.2,845.4 L177.6,844.0 L194.1,848.2 L207.8,842.7 L218.8,842.7 L235.2,859.1 L246.2,853.6 L257.2,835.8 L273.6,839.9 L290.1,830.3 L306.5,837.2 L314.8,842.7 L331.2,842.7 L342.2,861.9 L355.9,837.2 L366.9,839.9 L377.8,845.4 L386.1,853.6 L394.3,849.5" fill="none" stroke="#d93300" stroke-width="3" stroke-linejoin="round" stroke-linecap="round" filter="url(#b1)"/><polygon points="377.8,818.0 432.7,815.2 487.6,818.0 542.4,823.5 611.0,826.2 611.0,867.4 569.8,872.8 539.7,900.3 515.0,878.3 460.1,900.3 405.3,916.7 377.8,900.3" fill="#915900" filter="url(#b8)"/><polygon points="383.3,829.0 460.1,834.4 542.4,842.7 611.0,839.9 611.0,859.1 542.4,867.4 460.1,872.8 383.3,867.4" fill="#9c5400" filter="url(#b8)"/><polygon points="402.0,771.0 408.0,831.0 396.0,831.0" fill="#8e5700" filter="url(#b2)"/><polygon points="413.0,800.0 419.0,831.0 407.0,831.0" fill="#8e5700" filter="url(#b2)"/><polygon points="424.0,784.0 430.0,831.0 418.0,831.0" fill="#8e5700" filter="url(#b2)"/><polygon points="435.0,813.0 441.0,831.0 429.0,831.0" fill="#8e5700" filter="url(#b2)"/><polygon points="446.0,797.0 452.0,831.0 440.0,831.0" fill="#8e5700" filter="url(#b2)"/><polygon points="457.0,781.0 463.0,831.0 451.0,831.0" fill="#8e5700" filter="url(#b2)"/><polygon points="468.0,810.0 474.0,831.0 462.0,831.0" fill="#8e5700" filter="url(#b2)"/><polygon points="479.0,794.0 485.0,831.0 473.0,831.0" fill="#8e5700" filter="url(#b2)"/><polygon points="490.0,778.0 496.0,831.0 484.0,831.0" fill="#8e5700" filter="url(#b2)"/><polygon points="501.0,807.0 507.0,831.0 495.0,831.0" fill="#8e5700" filter="url(#b2)"/><polygon points="512.0,791.0 518.0,831.0 506.0,831.0" fill="#8e5700" filter="url(#b2)"/><polygon points="523.0,775.0 529.0,831.0 517.0,831.0" fill="#8e5700" filter="url(#b2)"/><polygon points="534.0,804.0 540.0,831.0 528.0,831.0" fill="#8e5700" filter="url(#b2)"/><polygon points="545.0,788.0 551.0,831.0 539.0,831.0" fill="#8e5700" filter="url(#b2)"/><polygon points="556.0,772.0 562.0,831.0 550.0,831.0" fill="#8e5700" filter="url(#b2)"/><polygon points="567.0,801.0 573.0,831.0 561.0,831.0" fill="#8e5700" filter="url(#b2)"/><polygon points="578.0,785.0 584.0,831.0 572.0,831.0" fill="#8e5700" filter="url(#b2)"/><polygon points="589.0,814.0 595.0,831.0 583.0,831.0" fill="#8e5700" filter="url(#b2)"/><polygon points="600.0,801.0 700.0,786.0 800.0,791.0 900.0,796.0 1000.0,791.0 1095.0,786.0 1095.0,896.0 1000.0,906.0 900.0,901.0 800.0,891.0 700.0,896.0 600.0,896.0" fill="#855c00" filter="url(#b15)"/><polygon points="611.0,821.0 1091.0,821.0 1091.0,866.0 611.0,866.0" fill="#8c5900" filter="url(#b10)"/><polygon points="835.0,841.0 842.0,746.0 848.0,695.0 855.0,756.0 868.0,841.0" fill="#865400" filter="url(#b6)"/><polygon points="830.0,851.0 872.0,851.0 860.0,926.0 840.0,926.0" fill="#6e3800" filter="url(#b6)"/><path d="M644.0,862.0 L655.0,840.0 L666.0,845.0 L677.0,859.0" fill="none" stroke="#a64c00" stroke-width="6" stroke-linejoin="round" stroke-linecap="round" filter="url(#b2)"/><path d="M742.6,851.0 L764.6,845.0 L786.5,843.0 L803.0,845.0 L819.5,840.0 L830.4,837.0" fill="none" stroke="#ac4c00" stroke-width="7" stroke-linejoin="round" stroke-linecap="round" filter="url(#b2)"/><path d="M940.0,840.0 L956.6,834.0 L973.0,837.0" fill="none" stroke="#a64c00" stroke-width="5" stroke-linejoin="round" stroke-linecap="round" filter="url(#b2)"/><rect x="870.0" y="846.0" width="221.0" height="80.0" fill="#825700" filter="url(#b8)"/><rect x="959.4" y="851.0" width="1.2" height="95.0" fill="#825900"/><rect x="1071.2" y="851.0" width="1.5" height="95.0" fill="#8d5900"/><rect x="995.5" y="851.0" width="1.3" height="95.0" fill="#8e5900"/><rect x="1000.2" y="851.0" width="1.6" height="95.0" fill="#8c5900"/><rect x="1055.6" y="851.0" width="1.4" height="95.0" fill="#815900"/><rect x="910.7" y="851.0" width="1.6" height="95.0" fill="#825900"/><rect x="1016.7" y="851.0" width="1.5" height="95.0" fill="#7f5900"/><rect x="1044.2" y="851.0" width="1.0" height="95.0" fill="#915900"/><rect x="1056.0" y="851.0" width="1.2" height="95.0" fill="#8e5900"/><rect x="1033.2" y="851.0" width="1.1" height="95.0" fill="#8d5900"/><rect x="905.1" y="851.0" width="1.7" height="95.0" fill="#8d5900"/><rect x="1085.3" y="851.0" width="1.0" height="95.0" fill="#855900"/><rect x="1009.4" y="851.0" width="1.5" height="95.0" fill="#825900"/><rect x="1065.6" y="851.0" width="1.7" height="95.0" fill="#855900"/><rect x="909.9" y="851.0" width="1.5" height="95.0" fill="#875900"/><rect x="1018.6" y="851.0" width="1.4" height="95.0" fill="#875900"/><rect x="884.0" y="851.0" width="1.1" height="95.0" fill="#885900"/><rect x="1032.3" y="851.0" width="1.3" height="95.0" fill="#8e5900"/><rect x="992.5" y="851.0" width="1.7" height="95.0" fill="#8c5900"/><rect x="947.0" y="851.0" width="1.1" height="95.0" fill="#805900"/><rect x="887.5" y="851.0" width="1.7" height="95.0" fill="#915900"/><rect x="1037.2" y="851.0" width="1.1" height="95.0" fill="#8c5900"/><rect x="906.0" y="851.0" width="1.7" height="95.0" fill="#8c5900"/><rect x="1036.7" y="851.0" width="1.5" height="95.0" fill="#875900"/><rect x="1057.3" y="851.0" width="1.8" height="95.0" fill="#835900"/><rect x="1060.0" y="626.0" width="128.0" height="430.0" fill="#7b5c00" filter="url(#b10)"/><rect x="1078.0" y="626.0" width="110.0" height="430.0" fill="#7b5c00"/><rect x="1060.0" y="741.0" width="128.0" height="125.0" fill="#885c00" filter="url(#b12)"/><rect x="1188.0" y="626.0" width="55.0" height="430.0" fill="#8c6b00"/><rect x="1188.0" y="746.0" width="55.0" height="140.0" fill="#996600" filter="url(#b4)"/><rect x="1200.4" y="626.0" width="2.0" height="430.0" fill="#8e6600"/><rect x="1232.4" y="626.0" width="1.5" height="430.0" fill="#9b6600"/><rect x="1238.1" y="626.0" width="1.8" height="430.0" fill="#a86600"/><rect x="1227.2" y="626.0" width="2.1" height="430.0" fill="#9d6600"/><rect x="1219.4" y="626.0" width="1.7" height="430.0" fill="#a96600"/><rect x="1208.7" y="626.0" width="3.0" height="430.0" fill="#a46600"/><rect x="1188.8" y="626.0" width="1.5" height="430.0" fill="#986600"/><rect x="1232.1" y="626.0" width="1.4" height="430.0" fill="#9d6600"/><rect x="1206.9" y="626.0" width="2.6" height="430.0" fill="#a76600"/><rect x="1229.2" y="626.0" width="1.4" height="430.0" fill="#a16600"/><rect x="1210.8" y="626.0" width="2.7" height="430.0" fill="#986600"/><rect x="1236.4" y="626.0" width="3.0" height="430.0" fill="#a36600"/><rect x="1232.1" y="626.0" width="2.6" height="430.0" fill="#9c6600"/><rect x="1196.1" y="626.0" width="3.0" height="430.0" fill="#986600"/><rect x="1188.0" y="626.0" width="1.9" height="430.0" fill="#966600"/><rect x="1197.6" y="626.0" width="2.9" height="430.0" fill="#8d6600"/><rect x="1236.7" y="626.0" width="2.1" height="430.0" fill="#8f6600"/><rect x="1206.8" y="626.0" width="1.9" height="430.0" fill="#8d6600"/><rect x="1228.8" y="626.0" width="2.3" height="430.0" fill="#a96600"/><rect x="1232.4" y="626.0" width="2.6" height="430.0" fill="#a96600"/><rect x="1238.1" y="626.0" width="2.3" height="430.0" fill="#9a6600"/><rect x="1215.5" y="626.0" width="2.6" height="430.0" fill="#a76600"/><rect x="1243.0" y="626.0" width="795.0" height="430.0" fill="#754200"/><path d="M1900.0,651.3 L1908.0,647.8 L1916.0,649.2 L1924.0,648.5 L1932.0,652.8 L1940.0,655.2 L1948.0,651.1 L1956.0,649.7 L1964.0,648.4 L1972.0,647.9 L1980.0,651.8 L1988.0,654.6 L1996.0,652.9 L2004.0,650.9 L2012.0,647.1 L2020.0,647.9 L2028.0,650.2 L2036.0,653.7" fill="none" stroke="#914c00" stroke-width="1.5" stroke-linejoin="round" stroke-linecap="round" filter="url(#b1)"/><path d="M1900.0,684.9 L1908.0,688.3 L1916.0,688.6 L1924.0,688.5 L1932.0,683.6 L1940.0,682.4 L1948.0,684.5 L1956.0,687.5 L1964.0,688.6 L1972.0,687.0 L1980.0,684.9 L1988.0,682.4 L1996.0,682.8 L2004.0,687.0 L2012.0,687.7 L2020.0,689.9 L2028.0,687.5 L2036.0,682.3" fill="none" stroke="#914c00" stroke-width="1.5" stroke-linejoin="round" stroke-linecap="round" filter="url(#b1)"/><path d="M1900.0,728.0 L1908.0,723.9 L1916.0,722.9 L1924.0,724.9 L1932.0,725.2 L1940.0,729.0 L1948.0,727.4 L1956.0,726.3 L1964.0,724.7 L1972.0,722.4 L1980.0,724.1 L1988.0,727.0 L1996.0,729.0 L2004.0,725.3 L2012.0,722.7 L2020.0,723.0 L2028.0,726.1 L2036.0,727.5" fill="none" stroke="#914c00" stroke-width="1.5" stroke-linejoin="round" stroke-linecap="round" filter="url(#b1)"/><path d="M1900.0,768.2 L1908.0,763.7 L1916.0,763.3 L1924.0,762.9 L1932.0,767.0 L1940.0,770.2 L1948.0,767.0 L1956.0,765.8 L1964.0,763.6 L1972.0,762.4 L1980.0,765.3 L1988.0,770.0 L1996.0,770.2 L2004.0,765.3 L2012.0,764.3 L2020.0,764.5 L2028.0,764.4 L2036.0,768.3" fill="none" stroke="#914c00" stroke-width="1.5" stroke-linejoin="round" stroke-linecap="round" filter="url(#b1)"/><path d="M1900.0,796.4 L1908.0,799.4 L1916.0,798.5 L1924.0,796.4 L1932.0,792.0 L1940.0,793.0 L1948.0,797.1 L1956.0,798.8 L1964.0,798.5 L1972.0,796.0 L1980.0,795.1 L1988.0,793.4 L1996.0,793.8 L2004.0,799.0 L2012.0,798.4 L2020.0,796.9 L2028.0,793.4 L2036.0,792.8" fill="none" stroke="#914c00" stroke-width="1.5" stroke-linejoin="round" stroke-linecap="round" filter="url(#b1)"/><polygon points="1242.6,763.1 1270.0,757.7 1297.4,768.6 1338.6,790.6 1352.3,818.0 1352.3,837.2 1242.6,834.4" fill="#a15700" filter="url(#b8)"/><polygon points="1242.6,785.1 1286.4,790.6 1324.8,812.5 1324.8,834.4 1242.6,831.7" fill="#ae5200" filter="url(#b6)"/><rect x="1243.0" y="801.0" width="795.0" height="87.0" fill="#905400" filter="url(#b10)"/><polygon points="1255.0,806.0 1263.6,838.0 1246.4,838.0" fill="#a15400" filter="url(#b2)"/><polygon points="1278.8,807.1 1285.7,838.0 1271.9,838.0" fill="#a15400" filter="url(#b2)"/><polygon points="1308.2,793.9 1319.1,838.0 1297.3,838.0" fill="#a15400" filter="url(#b2)"/><polygon points="1329.7,797.5 1339.7,838.0 1319.7,838.0" fill="#a15400" filter="url(#b2)"/><polygon points="1368.1,767.4 1381.8,838.0 1354.5,838.0" fill="#a15400" filter="url(#b2)"/><polygon points="1390.3,806.7 1400.3,838.0 1380.2,838.0" fill="#a15400" filter="url(#b2)"/><polygon points="1428.3,775.1 1436.9,838.0 1419.7,838.0" fill="#a15400" filter="url(#b2)"/><polygon points="1448.4,804.9 1458.7,838.0 1438.1,838.0" fill="#a15400" filter="url(#b2)"/><polygon points="1471.3,775.6 1478.0,838.0 1464.7,838.0" fill="#a15400" filter="url(#b2)"/><polygon points="1494.1,794.0 1503.6,838.0 1484.6,838.0" fill="#a15400" filter="url(#b2)"/><polygon points="1529.0,769.8 1541.8,838.0 1516.3,838.0" fill="#a15400" filter="url(#b2)"/><polygon points="1570.6,803.0 1582.6,838.0 1558.7,838.0" fill="#a15400" filter="url(#b2)"/><polygon points="1609.0,770.7 1618.7,838.0 1599.3,838.0" fill="#a15400" filter="url(#b2)"/><polygon points="1628.9,805.1 1639.2,838.0 1618.6,838.0" fill="#a15400" filter="url(#b2)"/><polygon points="1649.5,788.2 1661.7,838.0 1637.2,838.0" fill="#a15400" filter="url(#b2)"/><polygon points="1680.7,772.1 1694.2,838.0 1667.2,838.0" fill="#a15400" filter="url(#b2)"/><polygon points="1700.1,808.2 1713.9,838.0 1686.3,838.0" fill="#a15400" filter="url(#b2)"/><polygon points="1736.1,813.3 1746.3,838.0 1725.8,838.0" fill="#a15400" filter="url(#b2)"/><polygon points="1759.3,789.6 1771.3,838.0 1747.4,838.0" fill="#a15400" filter="url(#b2)"/><polygon points="1795.8,785.2 1809.4,838.0 1782.2,838.0" fill="#a15400" filter="url(#b2)"/><polygon points="1814.6,790.8 1821.0,838.0 1808.3,838.0" fill="#a15400" filter="url(#b2)"/><polygon points="1841.2,815.5 1848.2,838.0 1834.3,838.0" fill="#a15400" filter="url(#b2)"/><polygon points="1882.9,811.3 1894.4,838.0 1871.4,838.0" fill="#a15400" filter="url(#b2)"/><polygon points="1902.2,789.6 1913.8,838.0 1890.7,838.0" fill="#a15400" filter="url(#b2)"/><polygon points="1922.5,780.9 1929.2,838.0 1915.8,838.0" fill="#a15400" filter="url(#b2)"/><polygon points="1960.8,811.8 1974.1,838.0 1947.4,838.0" fill="#a15400" filter="url(#b2)"/><polygon points="1996.8,794.8 2003.3,838.0 1990.3,838.0" fill="#a15400" filter="url(#b2)"/><polygon points="2026.3,804.0 2038.4,838.0 2014.3,838.0" fill="#a15400" filter="url(#b2)"/><polygon points="1551.0,729.0 1561.0,838.0 1541.0,838.0" fill="#a15400" filter="url(#b2)"/><polygon points="1300.0,866.5 1307.7,844.0 1292.3,844.0" fill="#a15400" filter="url(#b2)"/><polygon points="1343.1,872.8 1353.2,844.0 1333.0,844.0" fill="#a15400" filter="url(#b2)"/><polygon points="1375.0,919.0 1383.1,844.0 1366.9,844.0" fill="#a15400" filter="url(#b2)"/><polygon points="1401.5,912.3 1409.2,844.0 1393.9,844.0" fill="#a15400" filter="url(#b2)"/><polygon points="1425.7,867.5 1440.3,844.0 1411.0,844.0" fill="#a15400" filter="url(#b2)"/><polygon points="1451.5,896.1 1461.5,844.0 1441.5,844.0" fill="#a15400" filter="url(#b2)"/><polygon points="1496.0,908.7 1507.8,844.0 1484.2,844.0" fill="#a15400" filter="url(#b2)"/><polygon points="1528.3,882.1 1542.0,844.0 1514.5,844.0" fill="#a15400" filter="url(#b2)"/><polygon points="1550.8,903.3 1560.2,844.0 1541.5,844.0" fill="#a15400" filter="url(#b2)"/><polygon points="1577.7,893.2 1586.3,844.0 1569.2,844.0" fill="#a15400" filter="url(#b2)"/><polygon points="1612.5,870.2 1619.7,844.0 1605.4,844.0" fill="#a15400" filter="url(#b2)"/><polygon points="1636.1,871.4 1650.1,844.0 1622.0,844.0" fill="#a15400" filter="url(#b2)"/><polygon points="1668.8,906.7 1682.1,844.0 1655.6,844.0" fill="#a15400" filter="url(#b2)"/><polygon points="1693.0,923.1 1703.0,844.0 1682.9,844.0" fill="#a15400" filter="url(#b2)"/><polygon points="1724.5,895.3 1737.0,844.0 1711.9,844.0" fill="#a15400" filter="url(#b2)"/><polygon points="1763.7,877.6 1777.3,844.0 1750.1,844.0" fill="#a15400" filter="url(#b2)"/><polygon points="1794.4,881.1 1808.3,844.0 1780.5,844.0" fill="#a15400" filter="url(#b2)"/><polygon points="1836.2,917.5 1845.8,844.0 1826.6,844.0" fill="#a15400" filter="url(#b2)"/><polygon points="1879.0,912.6 1893.8,844.0 1864.3,844.0" fill="#a15400" filter="url(#b2)"/><polygon points="1917.9,926.0 1928.7,844.0 1907.1,844.0" fill="#a15400" filter="url(#b2)"/><polygon points="1956.6,912.9 1967.8,844.0 1945.4,844.0" fill="#a15400" filter="url(#b2)"/><polygon points="1989.2,890.0 2003.2,844.0 1975.3,844.0" fill="#a15400" filter="url(#b2)"/><polygon points="2018.7,910.8 2030.2,844.0 2007.2,844.0" fill="#a15400" filter="url(#b2)"/><polygon points="1870.0,846.0 2038.0,851.0 2038.0,991.0 1870.0,926.0" fill="#895400" filter="url(#b15)"/><polygon points="1870.0,851.0 2038.0,854.0 2038.0,888.0 1870.0,876.0" fill="#a64c00" filter="url(#b4)"/><path d="M1190.5,812.5 L1206.9,815.2 L1223.4,829.0 L1242.6,826.2 L1270.0,831.7 L1311.1,838.6 L1352.3,837.2 L1407.1,839.9 L1410.0,839.5 L1416.0,840.2 L1422.0,839.8 L1428.0,840.0 L1434.0,839.3 L1440.0,838.5 L1446.0,839.4 L1452.0,839.3 L1458.0,839.6 L1464.0,839.6 L1470.0,839.6 L1476.0,839.7 L1482.0,839.1 L1488.0,839.6 L1494.0,839.1 L1500.0,838.4 L1506.0,837.3 L1512.0,836.7 L1518.0,836.7 L1524.0,837.8 L1530.0,838.3 L1536.0,837.9 L1542.0,837.5 L1548.0,838.6 L1554.0,838.3 L1560.0,838.7 L1566.0,838.7 L1572.0,839.2 L1578.0,839.1 L1584.0,839.6 L1590.0,839.8 L1596.0,840.3 L1602.0,841.2 L1608.0,841.6 L1614.0,840.9 L1620.0,839.6 L1626.0,840.0 L1632.0,840.2 L1638.0,839.6 L1644.0,840.3 L1650.0,840.7 L1656.0,841.3 L1662.0,842.1 L1668.0,841.8 L1674.0,841.2 L1680.0,841.5 L1686.0,840.8 L1692.0,840.9 L1698.0,840.1 L1704.0,840.1 L1710.0,840.5 L1716.0,841.5 L1722.0,842.4 L1728.0,842.6 L1734.0,841.7 L1740.0,840.5 L1746.0,840.0 L1752.0,839.8 L1758.0,838.9 L1764.0,839.4 L1770.0,839.7 L1776.0,840.3 L1782.0,839.9 L1788.0,839.3 L1794.0,838.1 L1800.0,837.5 L1806.0,837.1 L1812.0,837.1 L1818.0,837.2 L1824.0,838.2 L1830.0,839.6 L1836.0,839.6 L1842.0,839.4 L1848.0,838.7 L1854.0,838.9 L1860.0,840.1 L1866.0,839.9 L1875.0,840.2 L1880.0,840.1 L1885.0,839.1 L1890.0,840.4 L1895.0,839.6 L1900.0,839.7 L1905.0,841.5 L1910.0,841.2 L1915.0,841.6 L1920.0,842.6 L1925.0,841.8 L1930.0,841.4 L1935.0,842.5 L1940.0,843.2 L1945.0,844.7 L1950.0,844.4 L1955.0,843.7 L1960.0,842.6 L1965.0,842.8 L1970.0,844.9 L1975.0,846.6 L1980.0,848.4 L1985.0,848.9 L1990.0,850.1 L1995.0,849.2 L2000.0,848.3 L2005.0,848.8 L2010.0,850.1 L2015.0,850.5 L2020.0,849.5 L2025.0,848.6 L2030.0,847.7 L2035.0,847.2" fill="none" stroke="#b44c00" stroke-width="10" stroke-linejoin="round" stroke-linecap="round" filter="url(#b2)"/><path d="M1190.5,812.5 L1206.9,815.2 L1223.4,829.0 L1242.6,826.2 L1270.0,831.7 L1311.1,838.6 L1352.3,837.2 L1407.1,839.9" fill="none" stroke="#d73300" stroke-width="3" stroke-linejoin="round" stroke-linecap="round" filter="url(#b1)"/><path d="M1410.0,839.5 L1416.0,840.2 L1422.0,839.8 L1428.0,840.0 L1434.0,839.3 L1440.0,838.5 L1446.0,839.4 L1452.0,839.3 L1458.0,839.6 L1464.0,839.6 L1470.0,839.6 L1476.0,839.7 L1482.0,839.1 L1488.0,839.6 L1494.0,839.1 L1500.0,838.4 L1506.0,837.3 L1512.0,836.7 L1518.0,836.7 L1524.0,837.8 L1530.0,838.3 L1536.0,837.9 L1542.0,837.5 L1548.0,838.6 L1554.0,838.3 L1560.0,838.7 L1566.0,838.7 L1572.0,839.2 L1578.0,839.1 L1584.0,839.6 L1590.0,839.8 L1596.0,840.3 L1602.0,841.2 L1608.0,841.6 L1614.0,840.9 L1620.0,839.6 L1626.0,840.0 L1632.0,840.2 L1638.0,839.6 L1644.0,840.3 L1650.0,840.7 L1656.0,841.3 L1662.0,842.1 L1668.0,841.8 L1674.0,841.2 L1680.0,841.5 L1686.0,840.8 L1692.0,840.9 L1698.0,840.1 L1704.0,840.1 L1710.0,840.5 L1716.0,841.5 L1722.0,842.4 L1728.0,842.6 L1734.0,841.7 L1740.0,840.5 L1746.0,840.0 L1752.0,839.8 L1758.0,838.9 L1764.0,839.4 L1770.0,839.7 L1776.0,840.3 L1782.0,839.9 L1788.0,839.3 L1794.0,838.1 L1800.0,837.5 L1806.0,837.1 L1812.0,837.1 L1818.0,837.2 L1824.0,838.2 L1830.0,839.6 L1836.0,839.6 L1842.0,839.4 L1848.0,838.7 L1854.0,838.9 L1860.0,840.1 L1866.0,839.9 L1875.0,840.2 L1880.0,840.1 L1885.0,839.1 L1890.0,840.4 L1895.0,839.6 L1900.0,839.7 L1905.0,841.5 L1910.0,841.2 L1915.0,841.6 L1920.0,842.6 L1925.0,841.8 L1930.0,841.4 L1935.0,842.5 L1940.0,843.2 L1945.0,844.7 L1950.0,844.4 L1955.0,843.7 L1960.0,842.6 L1965.0,842.8 L1970.0,844.9 L1975.0,846.6 L1980.0,848.4 L1985.0,848.9 L1990.0,850.1 L1995.0,849.2 L2000.0,848.3 L2005.0,848.8 L2010.0,850.1 L2015.0,850.5 L2020.0,849.5 L2025.0,848.6 L2030.0,847.7 L2035.0,847.2" fill="none" stroke="#bf3300" stroke-width="2.5" stroke-linejoin="round" stroke-linecap="round" filter="url(#b1)"/><path d="M1880.0,842.0 L1950.0,845.0 L2000.0,848.0 L2038.0,850.0" fill="none" stroke="#d43300" stroke-width="3" stroke-linejoin="round" stroke-linecap="round" filter="url(#b1)"/><path d="M1190.5,812.5 L1190.5,796.0 L1190.5,785.0" fill="none" stroke="#bc4000" stroke-width="5" stroke-linejoin="round" stroke-linecap="round" filter="url(#b1_5)"/><rect x="1868.2" y="626.0" width="5.0" height="430.0" fill="#945c00"/><path d="M1872.0,715.1 L1880.0,714.2 L1888.0,715.3 L1896.0,716.6 L1904.0,719.4 L1912.0,717.0 L1920.0,715.2 L1928.0,714.0 L1936.0,713.3 L1944.0,714.1 L1952.0,715.4 L1960.0,716.4 L1968.0,717.4 L1976.0,716.5 L1984.0,715.7 L1992.0,713.3 L2000.0,712.8 L2008.0,714.4 L2016.0,717.0 L2024.0,717.6 L2032.0,718.4" fill="none" stroke="#964c00" stroke-width="1.5" stroke-linejoin="round" stroke-linecap="round" filter="url(#b1)"/><path d="M1872.0,757.9 L1880.0,758.0 L1888.0,761.5 L1896.0,762.7 L1904.0,761.4 L1912.0,760.9 L1920.0,758.2 L1928.0,759.3 L1936.0,759.5 L1944.0,760.9 L1952.0,762.9 L1960.0,761.2 L1968.0,761.3 L1976.0,760.3 L1984.0,759.2 L1992.0,757.8 L2000.0,758.1 L2008.0,761.2 L2016.0,760.7 L2024.0,762.3 L2032.0,758.9" fill="none" stroke="#964c00" stroke-width="1.5" stroke-linejoin="round" stroke-linecap="round" filter="url(#b1)"/><path d="M1872.0,804.5 L1880.0,801.8 L1888.0,802.0 L1896.0,802.4 L1904.0,803.4 L1912.0,806.6 L1920.0,807.1 L1928.0,806.5 L1936.0,803.0 L1944.0,800.9 L1952.0,801.7 L1960.0,801.9 L1968.0,805.3 L1976.0,805.1 L1984.0,804.7 L1992.0,803.9 L2000.0,802.7 L2008.0,802.7 L2016.0,802.3 L2024.0,803.2 L2032.0,805.9" fill="none" stroke="#964c00" stroke-width="1.5" stroke-linejoin="round" stroke-linecap="round" filter="url(#b1)"/><path d="M1872.0,955.7 L1880.0,958.4 L1888.0,958.6 L1896.0,955.5 L1904.0,953.8 L1912.0,954.1 L1920.0,954.8 L1928.0,954.3 L1936.0,957.1 L1944.0,957.3 L1952.0,956.1 L1960.0,954.9 L1968.0,953.8 L1976.0,953.9 L1984.0,953.8 L1992.0,956.9 L2000.0,958.9 L2008.0,958.4 L2016.0,955.4 L2024.0,955.5 L2032.0,954.5" fill="none" stroke="#964c00" stroke-width="1.5" stroke-linejoin="round" stroke-linecap="round" filter="url(#b1)"/><path d="M1872.0,982.8 L1880.0,985.0 L1888.0,986.3 L1896.0,985.4 L1904.0,982.7 L1912.0,981.5 L1920.0,982.5 L1928.0,981.4 L1936.0,983.9 L1944.0,983.6 L1952.0,985.5 L1960.0,983.8 L1968.0,980.9 L1976.0,980.1 L1984.0,981.7 L1992.0,983.9 L2000.0,983.5 L2008.0,984.4 L2016.0,984.1 L2024.0,981.8 L2032.0,982.4" fill="none" stroke="#964c00" stroke-width="1.5" stroke-linejoin="round" stroke-linecap="round" filter="url(#b1)"/><rect x="1462.8" y="626.0" width="1.5" height="430.0" fill="#894c00"/><rect x="1491.2" y="626.0" width="1.5" height="430.0" fill="#894c00"/><rect x="1596.7" y="675.0" width="1.8" height="300.0" fill="#ae4c00"/></g>
<path d="M131.5,626V1056M369.5,626V1056M608.5,626V1056M846.5,626V1056M1085.5,626V1056M1323.5,626V1056M1561.5,626V1056M1800.5,626V1056M2038.5,626V1056M131.0,1013.5H2038.3M131.0,927.5H2038.3M131.0,841.5H2038.3M131.0,755.5H2038.3M131.0,669.5H2038.3" stroke="#ffffff" stroke-opacity="0.6" stroke-width="1" stroke-dasharray="1.1,1.9" fill="none"/>
<path d="M131.0,628 H2038.3" stroke="#c8e6c8" stroke-width="2" stroke-dasharray="5.6,9.1" fill="none"/>
<path d="M1156.17,1069.90 L1156.97,1069.41 L1157.76,1068.92 L1158.56,1068.43 L1159.35,1067.95 L1160.15,1067.46 L1160.94,1066.97 L1161.74,1066.48 L1162.53,1066.00 L1163.33,1065.51 L1164.12,1065.02 L1164.92,1064.54 L1165.71,1064.05 L1166.50,1063.57 L1167.30,1063.08 L1168.09,1062.60 L1168.89,1062.11 L1169.68,1061.63 L1170.48,1061.14 L1171.27,1060.66 L1172.07,1060.18 L1172.86,1059.69 L1173.66,1059.21 L1174.45,1058.73 L1175.25,1058.25 L1176.04,1057.77 L1176.84,1057.29 L1177.63,1056.81 L1178.43,1056.33 L1179.22,1055.85 L1180.01,1055.37 L1180.81,1054.89 L1181.60,1054.41 L1182.40,1053.93 L1183.19,1053.45 L1183.99,1052.97 L1184.78,1052.50 L1185.58,1052.02 L1186.37,1051.54 L1187.17,1051.07 L1187.96,1050.59 L1188.76,1050.12 L1189.55,1049.64 L1190.35,1049.17 L1191.14,1048.69 L1191.94,1048.22 L1192.73,1047.74 L1193.53,1047.27 L1194.32,1046.80 L1195.11,1046.33 L1195.91,1045.85 L1196.70,1045.38 L1197.50,1044.91 L1198.29,1044.44 L1199.09,1043.97 L1199.88,1043.50 L1200.68,1043.03 L1201.47,1042.56 L1202.27,1042.09 L1203.06,1041.62 L1203.86,1041.16 L1204.65,1040.69 L1205.45,1040.22 L1206.24,1039.76 L1207.04,1039.29 L1207.83,1038.82 L1208.62,1038.36 L1209.42,1037.89 L1210.21,1037.43 L1211.01,1036.97 L1211.80,1036.50 L1212.60,1036.04 L1213.39,1035.58 L1214.19,1035.11 L1214.98,1034.65 L1215.78,1034.19 L1216.57,1033.73 L1217.37,1033.27 L1218.16,1032.81 L1218.96,1032.35 L1219.75,1031.89 L1220.55,1031.43 L1221.34,1030.97 L1222.13,1030.52 L1222.93,1030.06 L1223.72,1029.60 L1224.52,1029.15 L1225.31,1028.69 L1226.11,1028.24 L1226.90,1027.78 L1227.70,1027.33 L1228.49,1026.87 L1229.29,1026.42 L1230.08,1025.97 L1230.88,1025.51 L1231.67,1025.06 L1232.47,1024.61 L1233.26,1024.16 L1234.06,1023.71 L1234.85,1023.26 L1235.64,1022.81 L1236.44,1022.36 L1237.23,1021.91 L1238.03,1021.46 L1238.82,1021.02 L1239.62,1020.57 L1240.41,1020.12 L1241.21,1019.68 L1242.00,1019.23 L1242.80,1018.79 L1243.59,1018.34 L1244.39,1017.90 L1245.18,1017.45 L1245.98,1017.01 L1246.77,1016.57 L1247.57,1016.13 L1248.36,1015.69 L1249.15,1015.25 L1249.95,1014.81 L1250.74,1014.37 L1251.54,1013.93 L1252.33,1013.49 L1253.13,1013.05 L1253.92,1012.61 L1254.72,1012.18 L1255.51,1011.74 L1256.31,1011.30 L1257.10,1010.87 L1257.90,1010.44 L1258.69,1010.00 L1259.49,1009.57 L1260.28,1009.13 L1261.08,1008.70 L1261.87,1008.27 L1262.66,1007.84 L1263.46,1007.41 L1264.25,1006.98 L1265.05,1006.55 L1265.84,1006.12 L1266.64,1005.69 L1267.43,1005.26 L1268.23,1004.84 L1269.02,1004.41 L1269.82,1003.99 L1270.61,1003.56 L1271.41,1003.14 L1272.20,1002.71 L1273.00,1002.29 L1273.79,1001.87 L1274.59,1001.44 L1275.38,1001.02 L1276.17,1000.60 L1276.97,1000.18 L1277.76,999.76 L1278.56,999.34 L1279.35,998.92 L1280.15,998.50 L1280.94,998.09 L1281.74,997.67 L1282.53,997.25 L1283.33,996.84 L1284.12,996.42 L1284.92,996.01 L1285.71,995.60 L1286.51,995.18 L1287.30,994.77 L1288.10,994.36 L1288.89,993.95 L1289.68,993.54 L1290.48,993.13 L1291.27,992.72 L1292.07,992.31 L1292.86,991.91 L1293.66,991.50 L1294.45,991.09 L1295.25,990.69 L1296.04,990.28 L1296.84,989.88 L1297.63,989.48 L1298.43,989.07 L1299.22,988.67 L1300.02,988.27 L1300.81,987.87 L1301.61,987.47 L1302.40,987.07 L1303.19,986.67 L1303.99,986.27 L1304.78,985.88 L1305.58,985.48 L1306.37,985.08 L1307.17,984.69 L1307.96,984.30 L1308.76,983.90 L1309.55,983.51 L1310.35,983.12 L1311.14,982.73 L1311.94,982.34 L1312.73,981.95 L1313.53,981.56 L1314.32,981.17 L1315.12,980.78 L1315.91,980.39 L1316.70,980.01 L1317.50,979.62 L1318.29,979.24 L1319.09,978.85 L1319.88,978.47 L1320.68,978.09 L1321.47,977.71 L1322.27,977.33 L1323.06,976.95 L1323.86,976.57 L1324.65,976.19 L1325.45,975.81 L1326.24,975.43 L1327.04,975.06 L1327.83,974.68 L1328.63,974.31 L1329.42,973.93 L1330.21,973.56 L1331.01,973.19 L1331.80,972.82 L1332.60,972.45 L1333.39,972.08 L1334.19,971.71 L1334.98,971.34 L1335.78,970.97 L1336.57,970.61 L1337.37,970.24 L1338.16,969.88 L1338.96,969.51 L1339.75,969.15 L1340.55,968.79 L1341.34,968.43 L1342.14,968.07 L1342.93,967.71 L1343.72,967.35 L1344.52,966.99 L1345.31,966.63 L1346.11,966.28 L1346.90,965.92 L1347.70,965.57 L1348.49,965.21 L1349.29,964.86 L1350.08,964.51 L1350.88,964.16 L1351.67,963.81 L1352.47,963.46 L1353.26,963.11 L1354.06,962.76 L1354.85,962.41 L1355.65,962.07 L1356.44,961.72 L1357.23,961.38 L1358.03,961.04 L1358.82,960.70 L1359.62,960.35 L1360.41,960.01 L1361.21,959.67 L1362.00,959.34 L1362.80,959.00 L1363.59,958.66 L1364.39,958.33 L1365.18,957.99 L1365.98,957.66 L1366.77,957.32 L1367.57,956.99 L1368.36,956.66 L1369.16,956.33 L1369.95,956.00 L1370.74,955.67 L1371.54,955.35 L1372.33,955.02 L1373.13,954.70 L1373.92,954.37 L1374.72,954.05 L1375.51,953.73 L1376.31,953.40 L1377.10,953.08 L1377.90,952.76 L1378.69,952.45 L1379.49,952.13 L1380.28,951.81 L1381.08,951.50 L1381.87,951.18 L1382.67,950.87 L1383.46,950.56 L1384.26,950.24 L1385.05,949.93 L1385.84,949.62 L1386.64,949.32 L1387.43,949.01 L1388.23,948.70 L1389.02,948.40 L1389.82,948.09 L1390.61,947.79 L1391.41,947.49 L1392.20,947.18 L1393.00,946.88 L1393.79,946.59 L1394.59,946.29 L1395.38,945.99 L1396.18,945.69 L1396.97,945.40 L1397.77,945.10 L1398.56,944.81 L1399.35,944.52 L1400.15,944.23 L1400.94,943.94 L1401.74,943.65 L1402.53,943.36 L1403.33,943.08 L1404.12,942.79 L1404.92,942.51 L1405.71,942.22 L1406.51,941.94 L1407.30,941.66 L1408.10,941.38 L1408.89,941.10 L1409.69,940.82 L1410.48,940.55 L1411.28,940.27 L1412.07,940.00 L1412.86,939.73 L1413.66,939.45 L1414.45,939.18 L1415.25,938.91 L1416.04,938.64 L1416.84,938.38 L1417.63,938.11 L1418.43,937.84 L1419.22,937.58 L1420.02,937.32 L1420.81,937.05 L1421.61,936.79 L1422.40,936.53 L1423.20,936.28 L1423.99,936.02 L1424.79,935.76 L1425.58,935.51 L1426.37,935.25 L1427.17,935.00 L1427.96,934.75 L1428.76,934.50 L1429.55,934.25 L1430.35,934.00 L1431.14,933.76 L1431.94,933.51 L1432.73,933.27 L1433.53,933.02 L1434.32,932.78 L1435.12,932.54 L1435.91,932.30 L1436.71,932.06 L1437.50,931.83 L1438.30,931.59 L1439.09,931.36 L1439.88,931.12 L1440.68,930.89 L1441.47,930.66 L1442.27,930.43 L1443.06,930.20 L1443.86,929.97 L1444.65,929.75 L1445.45,929.52 L1446.24,929.30 L1447.04,929.08 L1447.83,928.86 L1448.63,928.64 L1449.42,928.42 L1450.22,928.20 L1451.01,927.98 L1451.81,927.77 L1452.60,927.56 L1453.39,927.34 L1454.19,927.13 L1454.98,926.92 L1455.78,926.72 L1456.57,926.51 L1457.37,926.30 L1458.16,926.10 L1458.96,925.90 L1459.75,925.69 L1460.55,925.49 L1461.34,925.29 L1462.14,925.10 L1462.93,924.90 L1463.73,924.70 L1464.52,924.51 L1465.32,924.32 L1466.11,924.12 L1466.90,923.93 L1467.70,923.75 L1468.49,923.56 L1469.29,923.37 L1470.08,923.19 L1470.88,923.00 L1471.67,922.82 L1472.47,922.64 L1473.26,922.46 L1474.06,922.28 L1474.85,922.11 L1475.65,921.93 L1476.44,921.76 L1477.24,921.58 L1478.03,921.41 L1478.83,921.24 L1479.62,921.07 L1480.41,920.91 L1481.21,920.74 L1482.00,920.58 L1482.80,920.41 L1483.59,920.25 L1484.39,920.09 L1485.18,919.93 L1485.98,919.77 L1486.77,919.62 L1487.57,919.46 L1488.36,919.31 L1489.16,919.16 L1489.95,919.01 L1490.75,918.86 L1491.54,918.71 L1492.34,918.56 L1493.13,918.42 L1493.92,918.27 L1494.72,918.13 L1495.51,917.99 L1496.31,917.85 L1497.10,917.71 L1497.90,917.57 L1498.69,917.44 L1499.49,917.30 L1500.28,917.17 L1501.08,917.04 L1501.87,916.91 L1502.67,916.78 L1503.46,916.66 L1504.26,916.53 L1505.05,916.41 L1505.85,916.28 L1506.64,916.16 L1507.43,916.04 L1508.23,915.93 L1509.02,915.81 L1509.82,915.69 L1510.61,915.58 L1511.41,915.47 L1512.20,915.36 L1513.00,915.25 L1513.79,915.14 L1514.59,915.03 L1515.38,914.93 L1516.18,914.82 L1516.97,914.72 L1517.77,914.62 L1518.56,914.52 L1519.36,914.42 L1520.15,914.32 L1520.94,914.23 L1521.74,914.14 L1522.53,914.04 L1523.33,913.95 L1524.12,913.86 L1524.92,913.78 L1525.71,913.69 L1526.51,913.61 L1527.30,913.52 L1528.10,913.44 L1528.89,913.36 L1529.69,913.28 L1530.48,913.20 L1531.28,913.13 L1532.07,913.05 L1532.87,912.98 L1533.66,912.91 L1534.45,912.84 L1535.25,912.77 L1536.04,912.70 L1536.84,912.64 L1537.63,912.57 L1538.43,912.51 L1539.22,912.45 L1540.02,912.39 L1540.81,912.33 L1541.61,912.28 L1542.40,912.22 L1543.20,912.17 L1543.99,912.12 L1544.79,912.06 L1545.58,912.02 L1546.38,911.97 L1547.17,911.92 L1547.96,911.88 L1548.76,911.83 L1549.55,911.79 L1550.35,911.75 L1551.14,911.71 L1551.94,911.68 L1552.73,911.64 L1553.53,911.61 L1554.32,911.58 L1555.12,911.54 L1555.91,911.52 L1556.71,911.49 L1557.50,911.46 L1558.30,911.44 L1559.09,911.41 L1559.89,911.39 L1560.68,911.37 L1561.48,911.35 L1562.27,911.33 L1563.06,911.32 L1563.86,911.30 L1564.65,911.29 L1565.45,911.28 L1566.24,911.27 L1567.04,911.26 L1567.83,911.25 L1568.63,911.25 L1569.42,911.25 L1570.22,911.24 L1571.01,911.24 L1571.81,911.24 L1572.60,911.25 L1573.40,911.25 L1574.19,911.25 L1574.99,911.26 L1575.78,911.27 L1576.57,911.28 L1577.37,911.29 L1578.16,911.30 L1578.96,911.32 L1579.75,911.33 L1580.55,911.35 L1581.34,911.37 L1582.14,911.39 L1582.93,911.41 L1583.73,911.44 L1584.52,911.46 L1585.32,911.49 L1586.11,911.52 L1586.91,911.54 L1587.70,911.58 L1588.50,911.61 L1589.29,911.64 L1590.08,911.68 L1590.88,911.71 L1591.67,911.75 L1592.47,911.79 L1593.26,911.83 L1594.06,911.88 L1594.85,911.92 L1595.65,911.97 L1596.44,912.02 L1597.24,912.06 L1598.03,912.12 L1598.83,912.17 L1599.62,912.22 L1600.42,912.28 L1601.21,912.33 L1602.01,912.39 L1602.80,912.45 L1603.59,912.51 L1604.39,912.57 L1605.18,912.64 L1605.98,912.70 L1606.77,912.77 L1607.57,912.84 L1608.36,912.91 L1609.16,912.98 L1609.95,913.05 L1610.75,913.13 L1611.54,913.20 L1612.34,913.28 L1613.13,913.36 L1613.93,913.44 L1614.72,913.52 L1615.52,913.61 L1616.31,913.69 L1617.10,913.78 L1617.90,913.86 L1618.69,913.95 L1619.49,914.04 L1620.28,914.14 L1621.08,914.23 L1621.87,914.32 L1622.67,914.42 L1623.46,914.52 L1624.26,914.62 L1625.05,914.72 L1625.85,914.82 L1626.64,914.93 L1627.44,915.03 L1628.23,915.14 L1629.03,915.25 L1629.82,915.36 L1630.61,915.47 L1631.41,915.58 L1632.20,915.69 L1633.00,915.81 L1633.79,915.93 L1634.59,916.04 L1635.38,916.16 L1636.18,916.28 L1636.97,916.41 L1637.77,916.53 L1638.56,916.66 L1639.36,916.78 L1640.15,916.91 L1640.95,917.04 L1641.74,917.17 L1642.54,917.30 L1643.33,917.44 L1644.12,917.57 L1644.92,917.71 L1645.71,917.85 L1646.51,917.99 L1647.30,918.13 L1648.10,918.27 L1648.89,918.42 L1649.69,918.56 L1650.48,918.71 L1651.28,918.86 L1652.07,919.01 L1652.87,919.16 L1653.66,919.31 L1654.46,919.46 L1655.25,919.62 L1656.05,919.77 L1656.84,919.93 L1657.63,920.09 L1658.43,920.25 L1659.22,920.41 L1660.02,920.58 L1660.81,920.74 L1661.61,920.91 L1662.40,921.07 L1663.20,921.24 L1663.99,921.41 L1664.79,921.58 L1665.58,921.76 L1666.38,921.93 L1667.17,922.11 L1667.97,922.28 L1668.76,922.46 L1669.56,922.64 L1670.35,922.82 L1671.14,923.00 L1671.94,923.19 L1672.73,923.37 L1673.53,923.56 L1674.32,923.75 L1675.12,923.93 L1675.91,924.12 L1676.71,924.32 L1677.50,924.51 L1678.30,924.70 L1679.09,924.90 L1679.89,925.10 L1680.68,925.29 L1681.48,925.49 L1682.27,925.69 L1683.07,925.90 L1683.86,926.10 L1684.65,926.30 L1685.45,926.51 L1686.24,926.72 L1687.04,926.92 L1687.83,927.13 L1688.63,927.34 L1689.42,927.56 L1690.22,927.77 L1691.01,927.98 L1691.81,928.20 L1692.60,928.42 L1693.40,928.64 L1694.19,928.86 L1694.99,929.08 L1695.78,929.30 L1696.58,929.52 L1697.37,929.75 L1698.16,929.97 L1698.96,930.20 L1699.75,930.43 L1700.55,930.66 L1701.34,930.89 L1702.14,931.12 L1702.93,931.36 L1703.73,931.59 L1704.52,931.83 L1705.32,932.06 L1706.11,932.30 L1706.91,932.54 L1707.70,932.78 L1708.50,933.02 L1709.29,933.27 L1710.09,933.51 L1710.88,933.76 L1711.67,934.00 L1712.47,934.25 L1713.26,934.50 L1714.06,934.75 L1714.85,935.00 L1715.65,935.25 L1716.44,935.51 L1717.24,935.76 L1718.03,936.02 L1718.83,936.28 L1719.62,936.53 L1720.42,936.79 L1721.21,937.05 L1722.01,937.32 L1722.80,937.58 L1723.60,937.84 L1724.39,938.11 L1725.18,938.38 L1725.98,938.64 L1726.77,938.91 L1727.57,939.18 L1728.36,939.45 L1729.16,939.73 L1729.95,940.00 L1730.75,940.27 L1731.54,940.55 L1732.34,940.82 L1733.13,941.10 L1733.93,941.38 L1734.72,941.66 L1735.52,941.94 L1736.31,942.22 L1737.11,942.51 L1737.90,942.79 L1738.69,943.08 L1739.49,943.36 L1740.28,943.65 L1741.08,943.94 L1741.87,944.23 L1742.67,944.52 L1743.46,944.81 L1744.26,945.10 L1745.05,945.40 L1745.85,945.69 L1746.64,945.99 L1747.44,946.29 L1748.23,946.59 L1749.03,946.88 L1749.82,947.18 L1750.62,947.49 L1751.41,947.79 L1752.21,948.09 L1753.00,948.40 L1753.79,948.70 L1754.59,949.01 L1755.38,949.32 L1756.18,949.62 L1756.97,949.93 L1757.77,950.24 L1758.56,950.56 L1759.36,950.87 L1760.15,951.18 L1760.95,951.50 L1761.74,951.81 L1762.54,952.13 L1763.33,952.45 L1764.13,952.76 L1764.92,953.08 L1765.72,953.40 L1766.51,953.73 L1767.30,954.05 L1768.10,954.37 L1768.89,954.70 L1769.69,955.02 L1770.48,955.35 L1771.28,955.67 L1772.07,956.00 L1772.87,956.33 L1773.66,956.66 L1774.46,956.99 L1775.25,957.32 L1776.05,957.66 L1776.84,957.99 L1777.64,958.33 L1778.43,958.66 L1779.23,959.00 L1780.02,959.34 L1780.81,959.67 L1781.61,960.01 L1782.40,960.35 L1783.20,960.70 L1783.99,961.04 L1784.79,961.38 L1785.58,961.72 L1786.38,962.07 L1787.17,962.41 L1787.97,962.76 L1788.76,963.11 L1789.56,963.46 L1790.35,963.81 L1791.15,964.16 L1791.94,964.51 L1792.74,964.86 L1793.53,965.21 L1794.32,965.57 L1795.12,965.92 L1795.91,966.28 L1796.71,966.63 L1797.50,966.99 L1798.30,967.35 L1799.09,967.71 L1799.89,968.07 L1800.68,968.43 L1801.48,968.79 L1802.27,969.15 L1803.07,969.51 L1803.86,969.88 L1804.66,970.24 L1805.45,970.61 L1806.25,970.97 L1807.04,971.34 L1807.83,971.71 L1808.63,972.08 L1809.42,972.45 L1810.22,972.82 L1811.01,973.19 L1811.81,973.56 L1812.60,973.93 L1813.40,974.31 L1814.19,974.68 L1814.99,975.06 L1815.78,975.43 L1816.58,975.81 L1817.37,976.19 L1818.17,976.57 L1818.96,976.95 L1819.76,977.33 L1820.55,977.71 L1821.34,978.09 L1822.14,978.47 L1822.93,978.85 L1823.73,979.24 L1824.52,979.62 L1825.32,980.01 L1826.11,980.39 L1826.91,980.78 L1827.70,981.17 L1828.50,981.56 L1829.29,981.95 L1830.09,982.34 L1830.88,982.73 L1831.68,983.12 L1832.47,983.51 L1833.27,983.90 L1834.06,984.30 L1834.85,984.69 L1835.65,985.08 L1836.44,985.48 L1837.24,985.88 L1838.03,986.27 L1838.83,986.67 L1839.62,987.07 L1840.42,987.47 L1841.21,987.87 L1842.01,988.27 L1842.80,988.67 L1843.60,989.07 L1844.39,989.48 L1845.19,989.88 L1845.98,990.28 L1846.78,990.69 L1847.57,991.09 L1848.36,991.50 L1849.16,991.91 L1849.95,992.31 L1850.75,992.72 L1851.54,993.13 L1852.34,993.54 L1853.13,993.95 L1853.93,994.36 L1854.72,994.77 L1855.52,995.18 L1856.31,995.60 L1857.11,996.01 L1857.90,996.42 L1858.70,996.84 L1859.49,997.25 L1860.29,997.67 L1861.08,998.09 L1861.87,998.50 L1862.67,998.92 L1863.46,999.34 L1864.26,999.76 L1865.05,1000.18 L1865.85,1000.60 L1866.64,1001.02 L1867.44,1001.44 L1868.23,1001.87 L1869.03,1002.29 L1869.82,1002.71 L1870.62,1003.14 L1871.41,1003.56 L1872.21,1003.99 L1873.00,1004.41 L1873.80,1004.84 L1874.59,1005.26 L1875.38,1005.69 L1876.18,1006.12 L1876.97,1006.55 L1877.77,1006.98 L1878.56,1007.41 L1879.36,1007.84 L1880.15,1008.27 L1880.95,1008.70 L1881.74,1009.13 L1882.54,1009.57 L1883.33,1010.00 L1884.13,1010.44 L1884.92,1010.87 L1885.72,1011.30 L1886.51,1011.74 L1887.31,1012.18 L1888.10,1012.61 L1888.89,1013.05 L1889.69,1013.49 L1890.48,1013.93 L1891.28,1014.37 L1892.07,1014.81 L1892.87,1015.25 L1893.66,1015.69 L1894.46,1016.13 L1895.25,1016.57 L1896.05,1017.01 L1896.84,1017.45 L1897.64,1017.90 L1898.43,1018.34 L1899.23,1018.79 L1900.02,1019.23 L1900.82,1019.68 L1901.61,1020.12 L1902.40,1020.57 L1903.20,1021.02 L1903.99,1021.46 L1904.79,1021.91 L1905.58,1022.36 L1906.38,1022.81 L1907.17,1023.26 L1907.97,1023.71 L1908.76,1024.16 L1909.56,1024.61 L1910.35,1025.06 L1911.15,1025.51 L1911.94,1025.97 L1912.74,1026.42 L1913.53,1026.87 L1914.33,1027.33 L1915.12,1027.78 L1915.91,1028.24 L1916.71,1028.69 L1917.50,1029.15 L1918.30,1029.60 L1919.09,1030.06 L1919.89,1030.52 L1920.68,1030.97 L1921.48,1031.43 L1922.27,1031.89 L1923.07,1032.35 L1923.86,1032.81 L1924.66,1033.27 L1925.45,1033.73 L1926.25,1034.19 L1927.04,1034.65 L1927.84,1035.11 L1928.63,1035.58 L1929.42,1036.04 L1930.22,1036.50 L1931.01,1036.97 L1931.81,1037.43 L1932.60,1037.89 L1933.40,1038.36 L1934.19,1038.82 L1934.99,1039.29 L1935.78,1039.76 L1936.58,1040.22 L1937.37,1040.69 L1938.17,1041.16 L1938.96,1041.62 L1939.76,1042.09 L1940.55,1042.56 L1941.35,1043.03 L1942.14,1043.50 L1942.94,1043.97 L1943.73,1044.44 L1944.52,1044.91 L1945.32,1045.38 L1946.11,1045.85 L1946.91,1046.33 L1947.70,1046.80 L1948.50,1047.27 L1949.29,1047.74 L1950.09,1048.22 L1950.88,1048.69 L1951.68,1049.17 L1952.47,1049.64 L1953.27,1050.12 L1954.06,1050.59 L1954.86,1051.07 L1955.65,1051.54 L1956.45,1052.02 L1957.24,1052.50 L1958.03,1052.97 L1958.83,1053.45 L1959.62,1053.93 L1960.42,1054.41 L1961.21,1054.89 L1962.01,1055.37 L1962.80,1055.85 L1963.60,1056.33 L1964.39,1056.81 L1965.19,1057.29 L1965.98,1057.77 L1966.78,1058.25 L1967.57,1058.73 L1968.37,1059.21 L1969.16,1059.69 L1969.96,1060.18 L1970.75,1060.66 L1971.54,1061.14 L1972.34,1061.63 L1973.13,1062.11 L1973.93,1062.60 L1974.72,1063.08 L1975.52,1063.57 L1976.31,1064.05 L1977.11,1064.54 L1977.90,1065.02 L1978.70,1065.51 L1979.49,1066.00 L1980.29,1066.48 L1981.08,1066.97 L1981.88,1067.46 L1982.67,1067.95 L1983.47,1068.43 L1984.26,1068.92 L1985.05,1069.41 L1985.85,1069.90 L1986.64,1070.39 L1987.44,1070.88 L1988.23,1071.37 L1989.03,1071.86 L1989.82,1072.35" stroke="#ffffff" stroke-opacity="0.78" stroke-width="5.6" stroke-dasharray="35.6,8.9,5.6,8.9" stroke-dashoffset="48.26" fill="none"/>
</g>
<rect x="130.5" y="626.5" width="1908.0" height="430" fill="none" stroke="#000" stroke-width="1.1"/>
<text x="77.14" y="1023.30" font-size="30.26" textLength="43.86" lengthAdjust="spacingAndGlyphs">−4</text>
<text x="77.14" y="937.30" font-size="30.26" textLength="43.86" lengthAdjust="spacingAndGlyphs">−2</text>
<text x="101.10" y="851.30" font-size="30.26" textLength="19.90" lengthAdjust="spacingAndGlyphs">0</text>
<text x="101.10" y="765.30" font-size="30.26" textLength="19.90" lengthAdjust="spacingAndGlyphs">2</text>
<text x="101.10" y="679.30" font-size="30.26" textLength="19.90" lengthAdjust="spacingAndGlyphs">4</text>
<text x="2047.94" y="1066.30" font-size="30.26" textLength="19.90" lengthAdjust="spacingAndGlyphs">0</text>
<text x="2047.01" y="970.74" font-size="30.26" textLength="39.80" lengthAdjust="spacingAndGlyphs">20</text>
<text x="2048.01" y="875.19" font-size="30.26" textLength="39.80" lengthAdjust="spacingAndGlyphs">40</text>
<text x="2047.51" y="779.63" font-size="30.26" textLength="39.80" lengthAdjust="spacingAndGlyphs">60</text>
<text x="2047.58" y="684.08" font-size="30.26" textLength="39.80" lengthAdjust="spacingAndGlyphs">80</text>
<text x="2163.24" y="636.30" font-size="30.26" textLength="50.67" lengthAdjust="spacingAndGlyphs">0.0</text>
<text x="2163.24" y="722.30" font-size="30.26" textLength="50.67" lengthAdjust="spacingAndGlyphs">0.2</text>
<text x="2163.24" y="808.30" font-size="30.26" textLength="50.67" lengthAdjust="spacingAndGlyphs">0.4</text>
<text x="2163.24" y="894.30" font-size="30.26" textLength="50.67" lengthAdjust="spacingAndGlyphs">0.6</text>
<text x="2163.24" y="980.30" font-size="30.26" textLength="50.67" lengthAdjust="spacingAndGlyphs">0.8</text>
<text x="2161.38" y="1066.30" font-size="30.26" textLength="50.67" lengthAdjust="spacingAndGlyphs">1.0</text>
<rect x="2292.5" y="626.5" width="22" height="429" fill="url(#cbar)" stroke="#000" stroke-width="1.1"/>
<text x="2325.00" y="975.77" font-size="30.26" textLength="63.76" lengthAdjust="spacingAndGlyphs">−50</text>
<text x="2325.00" y="862.62" font-size="30.26" textLength="19.90" lengthAdjust="spacingAndGlyphs">0</text>
<text x="2325.00" y="749.46" font-size="30.26" textLength="39.80" lengthAdjust="spacingAndGlyphs">50</text>
<text x="2325.00" y="636.30" font-size="30.26" textLength="59.70" lengthAdjust="spacingAndGlyphs">100</text>
<path d="M125.4,1013.0H130.5M125.4,927.0H130.5M125.4,841.0H130.5M125.4,755.0H130.5M125.4,669.0H130.5M2038.3,1056.0H2043.3M2038.3,960.4H2043.3M2038.3,864.9H2043.3M2038.3,769.3H2043.3M2038.3,673.8H2043.3M2152.5,626V1056.5M2152.5,626.0H2157.5M2152.5,712.0H2157.5M2152.5,798.0H2157.5M2152.5,884.0H2157.5M2152.5,970.0H2157.5M2152.5,1056.0H2157.5M2314.5,1056.0H2319.3M2314.5,1033.4H2319.3M2314.5,1010.7H2319.3M2314.5,988.1H2319.3M2314.5,965.5H2321.5M2314.5,942.8H2319.3M2314.5,920.2H2319.3M2314.5,897.6H2319.3M2314.5,874.9H2319.3M2314.5,852.3H2321.5M2314.5,829.7H2319.3M2314.5,807.1H2319.3M2314.5,784.4H2319.3M2314.5,761.8H2319.3M2314.5,739.2H2321.5M2314.5,716.5H2319.3M2314.5,693.9H2319.3M2314.5,671.3H2319.3M2314.5,648.6H2319.3M2314.5,626.0H2321.5" stroke="#000" stroke-width="1.1" fill="none"/>
<text x="0" y="0" font-size="30.26" textLength="159.51" lengthAdjust="spacingAndGlyphs" transform="translate(33.80,924.89) rotate(-90)">10.00MHz</text>
<text x="0" y="0" font-size="30.26" textLength="291.16" lengthAdjust="spacingAndGlyphs" transform="translate(62.80,987.23) rotate(-90)">Doppler Shift (Hz)</text>
<text x="0" y="0" font-size="30.26" textLength="345.71" lengthAdjust="spacingAndGlyphs" transform="translate(2113.70,1014.46) rotate(-90)">Solar Elevation Angle</text>
<text x="0" y="0" font-size="30.26" textLength="318.96" lengthAdjust="spacingAndGlyphs" transform="translate(2239.80,1001.30) rotate(-90)">Eclipse Obscuration</text>
<text x="0" y="0" font-size="30.26" textLength="143.67" lengthAdjust="spacingAndGlyphs" transform="translate(2415.90,913.66) rotate(-90)">PSD (dB)</text>
<clipPath id="clip2"><rect x="131.0" y="1102" width="1907.3" height="430"/></clipPath>
<g clip-path="url(#clip2)">
<rect x="131.0" y="1102" width="1907.3" height="430" fill="#007c00"/>
<g filter="url(#spec2)"><rect x="131.0" y="1102.0" width="1907.3" height="430.0" fill="#722e00"/><rect x="131.0" y="1102.0" width="1044.0" height="430.0" fill="#7b5700"/><rect x="131.0" y="1102.0" width="1044.0" height="140.0" fill="#774700" filter="url(#b10)"/><rect x="646.5" y="1102.0" width="1.6" height="430.0" fill="#8a5900"/><rect x="465.1" y="1102.0" width="1.3" height="430.0" fill="#885900"/><rect x="637.9" y="1102.0" width="1.4" height="430.0" fill="#815900"/><rect x="474.7" y="1102.0" width="1.2" height="430.0" fill="#865900"/><rect x="1063.3" y="1102.0" width="1.7" height="430.0" fill="#865900"/><rect x="482.7" y="1102.0" width="1.4" height="430.0" fill="#7c5900"/><rect x="891.1" y="1102.0" width="1.3" height="430.0" fill="#7f5900"/><rect x="1154.2" y="1102.0" width="1.3" height="430.0" fill="#8e5900"/><rect x="775.3" y="1102.0" width="1.8" height="430.0" fill="#865900"/><rect x="316.7" y="1102.0" width="1.7" height="430.0" fill="#7e5900"/><rect x="556.1" y="1102.0" width="1.1" height="430.0" fill="#7a5900"/><rect x="514.2" y="1102.0" width="1.0" height="430.0" fill="#815900"/><rect x="1017.5" y="1102.0" width="2.0" height="430.0" fill="#825900"/><rect x="243.0" y="1102.0" width="1.3" height="430.0" fill="#7a5900"/><rect x="357.3" y="1102.0" width="1.6" height="430.0" fill="#865900"/><rect x="163.0" y="1102.0" width="1.5" height="430.0" fill="#825900"/><rect x="545.8" y="1102.0" width="1.1" height="430.0" fill="#815900"/><rect x="236.9" y="1102.0" width="1.7" height="430.0" fill="#875900"/><rect x="786.7" y="1102.0" width="1.4" height="430.0" fill="#8d5900"/><rect x="515.4" y="1102.0" width="1.2" height="430.0" fill="#815900"/><rect x="1083.3" y="1102.0" width="1.2" height="430.0" fill="#895900"/><rect x="1109.5" y="1102.0" width="1.9" height="430.0" fill="#835900"/><rect x="600.0" y="1102.0" width="1.9" height="430.0" fill="#885900"/><rect x="972.7" y="1102.0" width="1.2" height="430.0" fill="#865900"/><rect x="901.1" y="1102.0" width="1.2" height="430.0" fill="#7d5900"/><rect x="1008.4" y="1102.0" width="1.6" height="430.0" fill="#825900"/><rect x="637.7" y="1102.0" width="1.3" height="430.0" fill="#7e5900"/><rect x="241.5" y="1102.0" width="1.4" height="430.0" fill="#7c5900"/><rect x="1066.3" y="1102.0" width="2.0" height="430.0" fill="#855900"/><rect x="224.5" y="1102.0" width="1.6" height="430.0" fill="#7c5900"/><rect x="518.3" y="1102.0" width="1.1" height="430.0" fill="#835900"/><rect x="208.9" y="1102.0" width="1.3" height="430.0" fill="#7e5900"/><rect x="616.7" y="1102.0" width="1.9" height="430.0" fill="#855900"/><rect x="947.0" y="1102.0" width="1.7" height="430.0" fill="#845900"/><rect x="201.3" y="1102.0" width="1.1" height="430.0" fill="#7c5900"/><rect x="669.3" y="1102.0" width="1.3" height="430.0" fill="#8d5900"/><rect x="338.8" y="1102.0" width="1.1" height="430.0" fill="#875900"/><rect x="764.0" y="1102.0" width="1.1" height="430.0" fill="#805900"/><rect x="594.0" y="1102.0" width="1.8" height="430.0" fill="#8a5900"/><rect x="1042.1" y="1102.0" width="1.5" height="430.0" fill="#8d5900"/><rect x="621.4" y="1102.0" width="1.3" height="430.0" fill="#7c5900"/><rect x="998.7" y="1102.0" width="1.7" height="430.0" fill="#865900"/><rect x="1151.4" y="1102.0" width="1.6" height="430.0" fill="#7f5900"/><rect x="855.5" y="1102.0" width="1.9" height="430.0" fill="#7d5900"/><rect x="1115.4" y="1102.0" width="1.4" height="430.0" fill="#7b5900"/><rect x="660.6" y="1102.0" width="1.8" height="430.0" fill="#835900"/><rect x="411.2" y="1102.0" width="1.8" height="430.0" fill="#7b5900"/><rect x="831.1" y="1102.0" width="1.4" height="430.0" fill="#865900"/><rect x="659.5" y="1102.0" width="1.3" height="430.0" fill="#7d5900"/><rect x="986.8" y="1102.0" width="1.5" height="430.0" fill="#7f5900"/><rect x="748.4" y="1102.0" width="1.8" height="430.0" fill="#7b5900"/><rect x="608.9" y="1102.0" width="1.2" height="430.0" fill="#895900"/><rect x="177.5" y="1102.0" width="1.8" height="430.0" fill="#855900"/><rect x="669.1" y="1102.0" width="1.5" height="430.0" fill="#7f5900"/><rect x="602.5" y="1102.0" width="1.2" height="430.0" fill="#805900"/><rect x="752.3" y="1102.0" width="1.6" height="430.0" fill="#805900"/><rect x="773.3" y="1102.0" width="1.8" height="430.0" fill="#895900"/><rect x="133.6" y="1102.0" width="1.5" height="430.0" fill="#7c5900"/><rect x="985.5" y="1102.0" width="1.6" height="430.0" fill="#825900"/><rect x="766.8" y="1102.0" width="1.5" height="430.0" fill="#7d5900"/><path d="M131.0,1147.1 L139.0,1145.7 L147.0,1143.0 L155.0,1143.6 L163.0,1146.0 L171.0,1147.1 L179.0,1149.0 L187.0,1148.4 L195.0,1146.5 L203.0,1142.3 L211.0,1142.5 L219.0,1143.3 L227.0,1147.9 L235.0,1149.3 L243.0,1147.4 L251.0,1148.4 L259.0,1145.9 L267.0,1143.5 L275.0,1143.9 L283.0,1144.7 L291.0,1146.6 L299.0,1149.1 L307.0,1146.7 L315.0,1144.7 L323.0,1142.8 L331.0,1141.7 L339.0,1144.4 L347.0,1146.8 L355.0,1149.8 L363.0,1148.8 L371.0,1147.3 L379.0,1144.5 L387.0,1143.6 L395.0,1143.4 L403.0,1145.0 L411.0,1149.5 L419.0,1150.5 L427.0,1149.0 L435.0,1146.3 L443.0,1143.0 L451.0,1142.3 L459.0,1143.9 L467.0,1145.6 L475.0,1149.5 L483.0,1148.4 L491.0,1148.0 L499.0,1144.2 L507.0,1144.4 L515.0,1144.6 L523.0,1144.2 L531.0,1147.1 L539.0,1150.2 L547.0,1147.9 L555.0,1147.2 L563.0,1143.3 L571.0,1141.8 L579.0,1144.9 L587.0,1147.7 L595.0,1148.0 L603.0,1147.5 L611.0,1146.5 L619.0,1145.9 L627.0,1143.8 L635.0,1142.4 L643.0,1144.9 L651.0,1146.8 L659.0,1147.7 L667.0,1148.9 L675.0,1144.8 L683.0,1143.8 L691.0,1142.9 L699.0,1143.5 L707.0,1147.6 L715.0,1147.6 L723.0,1149.2 L731.0,1145.8 L739.0,1144.3 L747.0,1142.2 L755.0,1142.8 L763.0,1147.0 L771.0,1148.9 L779.0,1148.4 L787.0,1149.2 L795.0,1144.9 L803.0,1143.3 L811.0,1144.1 L819.0,1144.9 L827.0,1145.7 L835.0,1150.2 L843.0,1147.9 L851.0,1146.3 L859.0,1145.4 L867.0,1142.6 L875.0,1142.9 L883.0,1144.3 L891.0,1146.7 L899.0,1149.2 L907.0,1147.3 L915.0,1146.1 L923.0,1143.2 L931.0,1142.9 L939.0,1145.8 L947.0,1146.8 L955.0,1148.9 L963.0,1149.9 L971.0,1146.1 L979.0,1143.5 L987.0,1144.3 L995.0,1144.5 L1003.0,1144.8 L1011.0,1147.0 L1019.0,1149.7 L1027.0,1149.4 L1035.0,1144.9 L1043.0,1145.0 L1051.0,1144.2 L1059.0,1144.7 L1067.0,1146.6 L1075.0,1147.5 L1083.0,1147.4 L1091.0,1148.4 L1099.0,1143.8 L1107.0,1143.7 L1115.0,1142.8 L1123.0,1146.5 L1131.0,1148.2 L1139.0,1148.4 L1147.0,1147.1 L1155.0,1146.5 L1163.0,1142.4 L1171.0,1142.2" fill="none" stroke="#964c00" stroke-width="1.5" stroke-linejoin="round" stroke-linecap="round" filter="url(#b1)"/><path d="M131.0,1187.0 L139.0,1184.5 L147.0,1183.7 L155.0,1187.5 L163.0,1187.8 L171.0,1188.5 L179.0,1188.6 L187.0,1187.0 L195.0,1183.6 L203.0,1183.0 L211.0,1184.7 L219.0,1187.7 L227.0,1188.4 L235.0,1189.5 L243.0,1189.5 L251.0,1187.4 L259.0,1184.7 L267.0,1184.9 L275.0,1186.5 L283.0,1187.5 L291.0,1188.6 L299.0,1187.9 L307.0,1188.4 L315.0,1185.5 L323.0,1185.4 L331.0,1183.7 L339.0,1187.9 L347.0,1189.5 L355.0,1190.6 L363.0,1187.8 L371.0,1187.4 L379.0,1182.9 L387.0,1184.5 L395.0,1186.9 L403.0,1189.8 L411.0,1190.7 L419.0,1190.0 L427.0,1188.1 L435.0,1186.1 L443.0,1183.6 L451.0,1185.6 L459.0,1188.6 L467.0,1190.6 L475.0,1189.7 L483.0,1189.3 L491.0,1187.1 L499.0,1184.4 L507.0,1184.7 L515.0,1185.8 L523.0,1188.8 L531.0,1190.3 L539.0,1188.1 L547.0,1187.6 L555.0,1186.4 L563.0,1185.1 L571.0,1185.8 L579.0,1187.1 L587.0,1190.2 L595.0,1190.2 L603.0,1188.2 L611.0,1187.0 L619.0,1183.0 L627.0,1185.0 L635.0,1184.7 L643.0,1188.9 L651.0,1189.9 L659.0,1188.6 L667.0,1187.8 L675.0,1184.9 L683.0,1184.3 L691.0,1186.3 L699.0,1186.7 L707.0,1188.0 L715.0,1189.3 L723.0,1189.0 L731.0,1185.1 L739.0,1183.2 L747.0,1185.5 L755.0,1186.6 L763.0,1188.4 L771.0,1191.1 L779.0,1188.9 L787.0,1187.7 L795.0,1184.0 L803.0,1183.8 L811.0,1186.0 L819.0,1188.6 L827.0,1190.6 L835.0,1189.6 L843.0,1188.7 L851.0,1185.5 L859.0,1183.1 L867.0,1184.3 L875.0,1187.1 L883.0,1189.6 L891.0,1190.6 L899.0,1190.7 L907.0,1186.6 L915.0,1184.0 L923.0,1183.9 L931.0,1184.4 L939.0,1186.5 L947.0,1189.2 L955.0,1190.3 L963.0,1188.4 L971.0,1185.5 L979.0,1185.3 L987.0,1185.7 L995.0,1186.0 L1003.0,1187.3 L1011.0,1188.5 L1019.0,1190.5 L1027.0,1185.9 L1035.0,1185.6 L1043.0,1184.2 L1051.0,1184.4 L1059.0,1188.2 L1067.0,1188.0 L1075.0,1188.8 L1083.0,1188.3 L1091.0,1184.6 L1099.0,1185.2 L1107.0,1183.5 L1115.0,1185.0 L1123.0,1187.2 L1131.0,1190.3 L1139.0,1189.3 L1147.0,1187.7 L1155.0,1185.5 L1163.0,1184.9 L1171.0,1186.4" fill="none" stroke="#964c00" stroke-width="1.5" stroke-linejoin="round" stroke-linecap="round" filter="url(#b1)"/><path d="M131.0,1226.4 L139.0,1227.2 L147.0,1228.1 L155.0,1230.0 L163.0,1232.9 L171.0,1233.1 L179.0,1229.3 L187.0,1227.3 L195.0,1226.5 L203.0,1228.6 L211.0,1230.4 L219.0,1232.8 L227.0,1233.7 L235.0,1231.2 L243.0,1230.0 L251.0,1228.5 L259.0,1226.0 L267.0,1230.4 L275.0,1232.2 L283.0,1231.8 L291.0,1232.3 L299.0,1230.7 L307.0,1229.2 L315.0,1226.6 L323.0,1228.2 L331.0,1231.4 L339.0,1233.3 L347.0,1234.3 L355.0,1231.4 L363.0,1229.5 L371.0,1226.4 L379.0,1227.9 L387.0,1230.0 L395.0,1231.9 L403.0,1233.6 L411.0,1231.6 L419.0,1231.5 L427.0,1229.5 L435.0,1228.4 L443.0,1228.1 L451.0,1231.2 L459.0,1231.9 L467.0,1234.2 L475.0,1232.6 L483.0,1228.7 L491.0,1226.0 L499.0,1227.1 L507.0,1229.2 L515.0,1232.3 L523.0,1232.9 L531.0,1231.0 L539.0,1231.3 L547.0,1226.7 L555.0,1227.9 L563.0,1227.0 L571.0,1229.8 L579.0,1233.3 L587.0,1231.9 L595.0,1230.5 L603.0,1229.2 L611.0,1228.0 L619.0,1228.3 L627.0,1229.6 L635.0,1232.8 L643.0,1232.9 L651.0,1233.8 L659.0,1229.1 L667.0,1227.2 L675.0,1227.1 L683.0,1227.3 L691.0,1230.9 L699.0,1232.8 L707.0,1233.0 L715.0,1232.6 L723.0,1229.3 L731.0,1226.7 L739.0,1226.9 L747.0,1230.0 L755.0,1232.6 L763.0,1232.0 L771.0,1233.5 L779.0,1231.8 L787.0,1228.1 L795.0,1227.2 L803.0,1227.0 L811.0,1230.3 L819.0,1232.4 L827.0,1233.3 L835.0,1230.2 L843.0,1230.6 L851.0,1227.3 L859.0,1226.9 L867.0,1229.9 L875.0,1231.6 L883.0,1232.9 L891.0,1233.1 L899.0,1229.1 L907.0,1228.2 L915.0,1226.7 L923.0,1229.3 L931.0,1231.5 L939.0,1231.7 L947.0,1232.9 L955.0,1230.5 L963.0,1229.0 L971.0,1228.3 L979.0,1228.4 L987.0,1228.9 L995.0,1230.8 L1003.0,1232.0 L1011.0,1232.9 L1019.0,1231.7 L1027.0,1227.0 L1035.0,1227.8 L1043.0,1226.5 L1051.0,1229.3 L1059.0,1231.5 L1067.0,1233.5 L1075.0,1231.1 L1083.0,1228.8 L1091.0,1227.7 L1099.0,1226.0 L1107.0,1229.6 L1115.0,1230.2 L1123.0,1232.9 L1131.0,1231.8 L1139.0,1229.6 L1147.0,1228.2 L1155.0,1226.8 L1163.0,1227.5 L1171.0,1229.9" fill="none" stroke="#964c00" stroke-width="1.5" stroke-linejoin="round" stroke-linecap="round" filter="url(#b1)"/><path d="M131.0,1446.4 L139.0,1444.6 L147.0,1445.5 L155.0,1447.1 L163.0,1449.2 L171.0,1451.9 L179.0,1451.0 L187.0,1449.8 L195.0,1445.5 L203.0,1445.7 L211.0,1446.6 L219.0,1449.1 L227.0,1449.6 L235.0,1450.4 L243.0,1451.1 L251.0,1446.6 L259.0,1446.9 L267.0,1446.3 L275.0,1445.6 L283.0,1448.3 L291.0,1451.5 L299.0,1449.9 L307.0,1447.5 L315.0,1447.3 L323.0,1444.8 L331.0,1446.6 L339.0,1446.8 L347.0,1449.9 L355.0,1451.5 L363.0,1448.4 L371.0,1446.6 L379.0,1446.0 L387.0,1446.3 L395.0,1448.1 L403.0,1448.0 L411.0,1450.8 L419.0,1451.4 L427.0,1448.8 L435.0,1446.9 L443.0,1444.1 L451.0,1444.4 L459.0,1446.7 L467.0,1448.8 L475.0,1451.1 L483.0,1449.9 L491.0,1447.7 L499.0,1444.4 L507.0,1444.2 L515.0,1445.8 L523.0,1450.1 L531.0,1452.3 L539.0,1451.9 L547.0,1447.6 L555.0,1445.0 L563.0,1446.4 L571.0,1445.6 L579.0,1448.6 L587.0,1449.6 L595.0,1450.9 L603.0,1449.9 L611.0,1447.3 L619.0,1445.8 L627.0,1443.6 L635.0,1447.2 L643.0,1450.1 L651.0,1449.8 L659.0,1450.5 L667.0,1449.5 L675.0,1446.1 L683.0,1444.1 L691.0,1444.7 L699.0,1447.9 L707.0,1448.7 L715.0,1452.2 L723.0,1450.8 L731.0,1448.2 L739.0,1446.6 L747.0,1445.5 L755.0,1446.3 L763.0,1449.4 L771.0,1450.8 L779.0,1452.1 L787.0,1449.7 L795.0,1445.7 L803.0,1446.3 L811.0,1446.4 L819.0,1448.6 L827.0,1451.0 L835.0,1450.7 L843.0,1451.1 L851.0,1448.7 L859.0,1446.1 L867.0,1445.9 L875.0,1447.4 L883.0,1448.8 L891.0,1451.5 L899.0,1449.4 L907.0,1448.3 L915.0,1446.3 L923.0,1443.6 L931.0,1445.2 L939.0,1448.2 L947.0,1450.5 L955.0,1450.2 L963.0,1451.3 L971.0,1448.1 L979.0,1445.0 L987.0,1445.6 L995.0,1446.8 L1003.0,1449.1 L1011.0,1450.4 L1019.0,1452.2 L1027.0,1449.3 L1035.0,1447.0 L1043.0,1445.8 L1051.0,1447.1 L1059.0,1446.3 L1067.0,1450.4 L1075.0,1451.7 L1083.0,1449.2 L1091.0,1447.3 L1099.0,1444.2 L1107.0,1444.2 L1115.0,1446.2 L1123.0,1447.8 L1131.0,1450.0 L1139.0,1451.9 L1147.0,1449.0 L1155.0,1446.5 L1163.0,1446.5 L1171.0,1445.8" fill="none" stroke="#964c00" stroke-width="1.5" stroke-linejoin="round" stroke-linecap="round" filter="url(#b1)"/><path d="M131.0,1488.3 L139.0,1491.1 L147.0,1489.7 L155.0,1490.1 L163.0,1488.3 L171.0,1484.1 L179.0,1486.4 L187.0,1485.7 L195.0,1489.0 L203.0,1489.8 L211.0,1490.6 L219.0,1489.1 L227.0,1485.0 L235.0,1486.4 L243.0,1485.5 L251.0,1488.0 L259.0,1490.4 L267.0,1490.6 L275.0,1489.2 L283.0,1488.0 L291.0,1485.6 L299.0,1484.5 L307.0,1487.3 L315.0,1488.5 L323.0,1489.4 L331.0,1489.9 L339.0,1487.4 L347.0,1485.3 L355.0,1485.8 L363.0,1485.4 L371.0,1489.1 L379.0,1490.9 L387.0,1489.6 L395.0,1491.3 L403.0,1488.9 L411.0,1484.2 L419.0,1486.3 L427.0,1486.4 L435.0,1489.0 L443.0,1492.2 L451.0,1489.9 L459.0,1488.8 L467.0,1487.7 L475.0,1485.7 L483.0,1485.6 L491.0,1489.3 L499.0,1491.1 L507.0,1491.3 L515.0,1488.7 L523.0,1487.9 L531.0,1485.4 L539.0,1484.2 L547.0,1485.3 L555.0,1489.1 L563.0,1489.7 L571.0,1490.5 L579.0,1489.3 L587.0,1486.2 L595.0,1484.3 L603.0,1485.9 L611.0,1487.6 L619.0,1490.9 L627.0,1491.1 L635.0,1491.4 L643.0,1488.9 L651.0,1486.2 L659.0,1484.3 L667.0,1485.5 L675.0,1490.2 L683.0,1491.6 L691.0,1491.1 L699.0,1488.4 L707.0,1485.7 L715.0,1485.6 L723.0,1485.8 L731.0,1488.1 L739.0,1490.5 L747.0,1491.8 L755.0,1489.0 L763.0,1486.8 L771.0,1486.9 L779.0,1486.3 L787.0,1487.7 L795.0,1487.6 L803.0,1489.5 L811.0,1490.0 L819.0,1488.6 L827.0,1486.8 L835.0,1483.9 L843.0,1485.8 L851.0,1486.5 L859.0,1488.8 L867.0,1491.5 L875.0,1490.1 L883.0,1488.0 L891.0,1485.1 L899.0,1485.0 L907.0,1485.7 L915.0,1488.5 L923.0,1491.5 L931.0,1491.7 L939.0,1487.6 L947.0,1485.3 L955.0,1486.0 L963.0,1486.0 L971.0,1488.6 L979.0,1489.2 L987.0,1490.8 L995.0,1489.2 L1003.0,1488.5 L1011.0,1485.1 L1019.0,1485.5 L1027.0,1488.0 L1035.0,1488.5 L1043.0,1490.9 L1051.0,1491.5 L1059.0,1490.1 L1067.0,1486.2 L1075.0,1484.7 L1083.0,1484.4 L1091.0,1488.9 L1099.0,1488.8 L1107.0,1489.7 L1115.0,1490.2 L1123.0,1487.6 L1131.0,1486.1 L1139.0,1484.5 L1147.0,1487.4 L1155.0,1487.7 L1163.0,1489.9 L1171.0,1491.2" fill="none" stroke="#964c00" stroke-width="1.5" stroke-linejoin="round" stroke-linecap="round" filter="url(#b1)"/><rect x="370.0" y="1102.0" width="35.0" height="430.0" fill="#846100" filter="url(#b4)"/><rect x="131.0" y="1252.0" width="1008.0" height="55.0" fill="#895700" filter="url(#b10)"/><rect x="131.0" y="1334.0" width="1008.0" height="73.0" fill="#8a5700" filter="url(#b10)"/><polygon points="268.1,1305.0 279.1,1255.6 295.6,1250.1 323.0,1272.0 364.1,1294.0 364.1,1310.4" fill="#965400" filter="url(#b8)"/><polygon points="131.0,1335.1 268.1,1335.1 268.1,1376.3 213.3,1403.7 131.0,1403.7" fill="#965700" filter="url(#b10)"/><polygon points="377.8,1335.1 473.8,1335.1 460.1,1376.3 405.3,1403.7 377.8,1390.0" fill="#965700" filter="url(#b10)"/><polygon points="838.0,1102.0 1030.0,1102.0 1030.0,1307.0 838.0,1307.0" fill="#845c00" filter="url(#b15)"/><polygon points="842.0,1102.0 868.0,1102.0 878.0,1307.0 850.0,1307.0" fill="#995700" filter="url(#b4)"/><polygon points="850.0,1282.0 862.0,1222.0 872.0,1222.0 885.0,1307.0" fill="#a65200" filter="url(#b4)"/><path d="M860.0,1102.0 L900.0,1172.0 L940.0,1239.0" fill="none" stroke="#945700" stroke-width="7" stroke-linejoin="round" stroke-linecap="round" filter="url(#b3)"/><path d="M925.0,1162.0 L945.0,1222.0 L960.0,1282.0" fill="none" stroke="#945700" stroke-width="6" stroke-linejoin="round" stroke-linecap="round" filter="url(#b3)"/><path d="M972.0,1102.0 L975.0,1202.0 L978.0,1307.0" fill="none" stroke="#945700" stroke-width="8" stroke-linejoin="round" stroke-linecap="round" filter="url(#b3)"/><path d="M1010.0,1142.0 L1015.0,1222.0 L1020.0,1307.0" fill="none" stroke="#915700" stroke-width="6" stroke-linejoin="round" stroke-linecap="round" filter="url(#b3)"/><polygon points="1050.0,1222.0 1064.0,1314.0 1036.0,1314.0" fill="#915400" filter="url(#b4)"/><polygon points="1075.0,1212.0 1087.0,1314.0 1063.0,1314.0" fill="#915400" filter="url(#b4)"/><polygon points="748.1,1326.9 803.0,1326.9 781.0,1379.0 764.6,1379.0" fill="#965400" filter="url(#b4)"/><polygon points="808.5,1326.9 830.4,1326.9 819.4,1376.3" fill="#995400" filter="url(#b4)"/><polygon points="824.9,1343.4 846.9,1343.4 846.9,1401.0 830.4,1401.0" fill="#734000" filter="url(#b8)"/><rect x="131.0" y="1300.0" width="1008.0" height="38.0" fill="#a65200" filter="url(#b4)"/><path d="M131.0,1319.9 L136.0,1320.1 L141.0,1320.5 L146.0,1319.2 L151.0,1316.8 L156.0,1315.5 L161.0,1314.4 L166.0,1315.3 L171.0,1316.4 L176.0,1317.3 L181.0,1317.8 L186.0,1318.4 L191.0,1317.3 L196.0,1316.6 L201.0,1315.2 L206.0,1316.2 L211.0,1315.3 L216.0,1316.2 L221.0,1315.3 L226.0,1315.8 L231.0,1315.8 L236.0,1315.7 L241.0,1317.2 L246.0,1316.4 L251.0,1314.9 L256.0,1316.2 L261.0,1317.2 L266.0,1316.6 L271.0,1318.5 L276.0,1321.0 L281.0,1320.8 L286.0,1320.5 L291.0,1319.4 L296.0,1318.6 L301.0,1319.1 L306.0,1318.6 L311.0,1319.5 L316.0,1318.8 L321.0,1317.9 L326.0,1319.1 L331.0,1319.8 L336.0,1320.2 L341.0,1321.0 L346.0,1321.5 L351.0,1321.5 L356.0,1320.1 L361.0,1320.6 L366.0,1322.6 L371.0,1325.0 L376.0,1326.2 L381.0,1325.7 L386.0,1324.6 L391.0,1324.4 L396.0,1324.5 L401.0,1322.9 L406.0,1321.0 L411.0,1319.7 L416.0,1319.1 L421.0,1320.0 L426.0,1320.2 L431.0,1318.6 L436.0,1318.9 L441.0,1318.8 L446.0,1318.7 L451.0,1317.6 L456.0,1316.8 L461.0,1316.2 L466.0,1317.0 L471.0,1315.9 L476.0,1315.8 L481.0,1314.7 L486.0,1315.2 L491.0,1314.0 L496.0,1313.1 L501.0,1312.6 L506.0,1313.4 L511.0,1312.6 L516.0,1312.7 L521.0,1312.3 L526.0,1312.1 L531.0,1312.6 L536.0,1314.9 L541.0,1316.3 L546.0,1318.7 L551.0,1318.6 L556.0,1320.1 L561.0,1320.3 L566.0,1319.3 L571.0,1319.9 L576.0,1321.6 L581.0,1320.7 L586.0,1319.6 L591.0,1320.3 L596.0,1320.3 L601.0,1319.7 L606.0,1318.1 L611.0,1316.4 L616.0,1316.9 L621.0,1319.4 L626.0,1322.5 L631.0,1323.9 L636.0,1322.8 L641.0,1321.8 L646.0,1322.5 L651.0,1324.0 L656.0,1324.9 L661.0,1324.2 L666.0,1323.8 L671.0,1323.4 L676.0,1323.5 L681.0,1322.6 L686.0,1323.6 L691.0,1325.1 L696.0,1324.1 L701.0,1322.6 L706.0,1323.0 L711.0,1322.1 L716.0,1322.9 L721.0,1322.9 L726.0,1323.1 L731.0,1323.4 L736.0,1322.0 L741.0,1320.2 L746.0,1318.4 L751.0,1318.2 L756.0,1318.7 L761.0,1317.5 L766.0,1318.2 L771.0,1318.1 L776.0,1317.1 L781.0,1316.4 L786.0,1317.7 L791.0,1318.4 L796.0,1318.9 L801.0,1320.3 L806.0,1322.0 L811.0,1323.1 L816.0,1322.6 L821.0,1322.1 L826.0,1322.8 L831.0,1323.5 L836.0,1323.5 L841.0,1322.4 L846.0,1321.2 L851.0,1321.2 L856.0,1321.3 L861.0,1319.6 L866.0,1319.6 L871.0,1321.1 L876.0,1322.7 L881.0,1324.6 L886.0,1326.3 L891.0,1326.7 L896.0,1327.3 L901.0,1326.6 L906.0,1324.5 L911.0,1323.0 L916.0,1321.7 L921.0,1322.8 L926.0,1323.9 L931.0,1324.4 L936.0,1324.9 L941.0,1323.7 L946.0,1323.2 L951.0,1323.7 L956.0,1323.4 L961.0,1322.4 L966.0,1321.7 L971.0,1320.9 L976.0,1321.3 L981.0,1320.4 L986.0,1318.8 L991.0,1317.8 L996.0,1318.4 L1001.0,1319.7 L1006.0,1320.9 L1011.0,1322.7 L1016.0,1322.7 L1021.0,1320.7 L1026.0,1319.7 L1031.0,1319.0 L1036.0,1317.5 L1041.0,1317.6 L1046.0,1317.1 L1051.0,1316.1 L1056.0,1315.2 L1061.0,1316.6 L1066.0,1315.5 L1071.0,1314.8 L1076.0,1314.0 L1081.0,1313.0 L1086.0,1312.8 L1091.0,1312.2 L1096.0,1313.9 L1101.0,1314.9 L1106.0,1316.2 L1111.0,1315.8 L1116.0,1315.6 L1121.0,1316.2 L1126.0,1317.7 L1131.0,1317.5 L1136.0,1317.4" fill="none" stroke="#b74c00" stroke-width="14" stroke-linejoin="round" stroke-linecap="round" filter="url(#b3)"/><path d="M131.0,1319.9 L136.0,1320.1 L141.0,1320.5 L146.0,1319.2 L151.0,1316.8 L156.0,1315.5 L161.0,1314.4 L166.0,1315.3 L171.0,1316.4 L176.0,1317.3 L181.0,1317.8 L186.0,1318.4 L191.0,1317.3 L196.0,1316.6 L201.0,1315.2 L206.0,1316.2 L211.0,1315.3 L216.0,1316.2 L221.0,1315.3 L226.0,1315.8 L231.0,1315.8 L236.0,1315.7 L241.0,1317.2 L246.0,1316.4 L251.0,1314.9 L256.0,1316.2 L261.0,1317.2 L266.0,1316.6 L271.0,1318.5 L276.0,1321.0 L281.0,1320.8 L286.0,1320.5 L291.0,1319.4 L296.0,1318.6 L301.0,1319.1 L306.0,1318.6 L311.0,1319.5 L316.0,1318.8 L321.0,1317.9 L326.0,1319.1 L331.0,1319.8 L336.0,1320.2 L341.0,1321.0 L346.0,1321.5 L351.0,1321.5 L356.0,1320.1 L361.0,1320.6 L366.0,1322.6 L371.0,1325.0 L376.0,1326.2 L381.0,1325.7 L386.0,1324.6 L391.0,1324.4 L396.0,1324.5 L401.0,1322.9 L406.0,1321.0 L411.0,1319.7 L416.0,1319.1 L421.0,1320.0 L426.0,1320.2 L431.0,1318.6 L436.0,1318.9 L441.0,1318.8 L446.0,1318.7 L451.0,1317.6 L456.0,1316.8 L461.0,1316.2 L466.0,1317.0 L471.0,1315.9 L476.0,1315.8 L481.0,1314.7 L486.0,1315.2 L491.0,1314.0 L496.0,1313.1 L501.0,1312.6 L506.0,1313.4 L511.0,1312.6 L516.0,1312.7 L521.0,1312.3 L526.0,1312.1 L531.0,1312.6 L536.0,1314.9 L541.0,1316.3 L546.0,1318.7 L551.0,1318.6 L556.0,1320.1 L561.0,1320.3 L566.0,1319.3 L571.0,1319.9 L576.0,1321.6 L581.0,1320.7 L586.0,1319.6 L591.0,1320.3 L596.0,1320.3 L601.0,1319.7 L606.0,1318.1 L611.0,1316.4 L616.0,1316.9 L621.0,1319.4 L626.0,1322.5 L631.0,1323.9 L636.0,1322.8 L641.0,1321.8 L646.0,1322.5 L651.0,1324.0 L656.0,1324.9 L661.0,1324.2 L666.0,1323.8 L671.0,1323.4 L676.0,1323.5 L681.0,1322.6 L686.0,1323.6 L691.0,1325.1 L696.0,1324.1 L701.0,1322.6 L706.0,1323.0 L711.0,1322.1 L716.0,1322.9 L721.0,1322.9 L726.0,1323.1 L731.0,1323.4 L736.0,1322.0 L741.0,1320.2 L746.0,1318.4 L751.0,1318.2 L756.0,1318.7 L761.0,1317.5 L766.0,1318.2 L771.0,1318.1 L776.0,1317.1 L781.0,1316.4 L786.0,1317.7 L791.0,1318.4 L796.0,1318.9 L801.0,1320.3 L806.0,1322.0 L811.0,1323.1 L816.0,1322.6 L821.0,1322.1 L826.0,1322.8 L831.0,1323.5 L836.0,1323.5 L841.0,1322.4 L846.0,1321.2 L851.0,1321.2 L856.0,1321.3 L861.0,1319.6 L866.0,1319.6 L871.0,1321.1 L876.0,1322.7 L881.0,1324.6 L886.0,1326.3 L891.0,1326.7 L896.0,1327.3 L901.0,1326.6 L906.0,1324.5 L911.0,1323.0 L916.0,1321.7 L921.0,1322.8 L926.0,1323.9 L931.0,1324.4 L936.0,1324.9 L941.0,1323.7 L946.0,1323.2 L951.0,1323.7 L956.0,1323.4 L961.0,1322.4 L966.0,1321.7 L971.0,1320.9 L976.0,1321.3 L981.0,1320.4 L986.0,1318.8 L991.0,1317.8 L996.0,1318.4 L1001.0,1319.7 L1006.0,1320.9 L1011.0,1322.7 L1016.0,1322.7 L1021.0,1320.7 L1026.0,1319.7 L1031.0,1319.0 L1036.0,1317.5 L1041.0,1317.6 L1046.0,1317.1 L1051.0,1316.1 L1056.0,1315.2 L1061.0,1316.6 L1066.0,1315.5 L1071.0,1314.8 L1076.0,1314.0 L1081.0,1313.0 L1086.0,1312.8 L1091.0,1312.2 L1096.0,1313.9 L1101.0,1314.9 L1106.0,1316.2 L1111.0,1315.8 L1116.0,1315.6 L1121.0,1316.2 L1126.0,1317.7 L1131.0,1317.5 L1136.0,1317.4" fill="none" stroke="#d73300" stroke-width="3" stroke-linejoin="round" stroke-linecap="round" filter="url(#b1)"/><rect x="1078.0" y="1102.0" width="97.0" height="200.0" fill="#846100" filter="url(#b6)"/><polygon points="1105.4,1184.3 1174.0,1170.6 1242.6,1184.3 1253.5,1225.4 1338.6,1294.0 1352.3,1310.4 1352.3,1317.3 1078.0,1317.3 1078.0,1266.6" fill="#8e5900" filter="url(#b10)"/><polygon points="1119.1,1255.6 1160.3,1239.1 1242.6,1244.6 1270.0,1272.0 1311.1,1294.0 1311.1,1315.9 1119.1,1315.9" fill="#9c5700" filter="url(#b8)"/><polygon points="1132.9,1277.5 1187.7,1266.6 1242.6,1277.5 1248.0,1310.4 1132.9,1313.2" fill="#a95200" filter="url(#b6)"/><rect x="1175.0" y="1102.0" width="68.0" height="430.0" fill="#8c6b00"/><rect x="1195.9" y="1102.0" width="2.2" height="430.0" fill="#896600"/><rect x="1240.5" y="1102.0" width="2.6" height="430.0" fill="#a96600"/><rect x="1192.2" y="1102.0" width="1.4" height="430.0" fill="#8b6600"/><rect x="1187.7" y="1102.0" width="1.0" height="430.0" fill="#9f6600"/><rect x="1198.5" y="1102.0" width="2.6" height="430.0" fill="#a16600"/><rect x="1198.1" y="1102.0" width="1.3" height="430.0" fill="#946600"/><rect x="1175.9" y="1102.0" width="2.3" height="430.0" fill="#8f6600"/><rect x="1183.7" y="1102.0" width="2.8" height="430.0" fill="#976600"/><rect x="1237.9" y="1102.0" width="3.0" height="430.0" fill="#9e6600"/><rect x="1191.3" y="1102.0" width="1.3" height="430.0" fill="#916600"/><rect x="1224.1" y="1102.0" width="2.0" height="430.0" fill="#926600"/><rect x="1175.3" y="1102.0" width="1.7" height="430.0" fill="#966600"/><rect x="1179.0" y="1102.0" width="1.5" height="430.0" fill="#926600"/><rect x="1202.3" y="1102.0" width="2.0" height="430.0" fill="#9b6600"/><rect x="1232.0" y="1102.0" width="1.6" height="430.0" fill="#8c6600"/><rect x="1194.9" y="1102.0" width="1.4" height="430.0" fill="#9b6600"/><rect x="1206.6" y="1102.0" width="1.6" height="430.0" fill="#8c6600"/><rect x="1224.9" y="1102.0" width="2.2" height="430.0" fill="#9d6600"/><rect x="1221.4" y="1102.0" width="2.7" height="430.0" fill="#8a6600"/><rect x="1186.9" y="1102.0" width="1.9" height="430.0" fill="#9f6600"/><rect x="1208.3" y="1102.0" width="2.0" height="430.0" fill="#936600"/><rect x="1190.2" y="1102.0" width="2.7" height="430.0" fill="#a96600"/><rect x="1208.0" y="1102.0" width="1.9" height="430.0" fill="#8d6600"/><rect x="1215.2" y="1102.0" width="1.4" height="430.0" fill="#9d6600"/><rect x="1193.0" y="1102.0" width="1.9" height="430.0" fill="#a56600"/><rect x="1195.2" y="1102.0" width="2.1" height="430.0" fill="#936600"/><rect x="1175.5" y="1102.0" width="3.0" height="430.0" fill="#a94c00"/><rect x="1191.8" y="1102.0" width="2.5" height="430.0" fill="#ac4c00"/><path d="M1078.0,1313.2 L1091.7,1314.6 L1105.4,1318.7 L1119.1,1314.6 L1132.9,1315.4 L1146.6,1313.2 L1160.3,1310.4 L1174.0,1305.0 L1187.7,1302.2 L1201.4,1288.5 L1215.1,1291.2 L1228.9,1299.5 L1242.6,1294.0 L1256.3,1296.7 L1270.0,1302.2 L1283.7,1299.5 L1297.4,1305.0" fill="none" stroke="#ae4c00" stroke-width="16" stroke-linejoin="round" stroke-linecap="round" filter="url(#b3)"/><path d="M1078.0,1313.2 L1091.7,1314.6 L1105.4,1318.7 L1119.1,1314.6 L1132.9,1315.4 L1146.6,1313.2 L1160.3,1310.4 L1174.0,1305.0 L1187.7,1302.2 L1201.4,1288.5 L1215.1,1291.2 L1228.9,1299.5 L1242.6,1294.0" fill="none" stroke="#d43300" stroke-width="3" stroke-linejoin="round" stroke-linecap="round" filter="url(#b1)"/><path d="M1175.0,1316.0 L1330.0,1316.0" fill="none" stroke="#b44000" stroke-width="2" stroke-linejoin="round" stroke-linecap="round" filter="url(#b1)"/><path d="M1330.0,1317.0 L1805.0,1317.0" fill="none" stroke="#814000" stroke-width="1.5" stroke-linejoin="round" stroke-linecap="round"/><path d="M1805.0,1317.0 L1887.0,1317.0" fill="none" stroke="#944000" stroke-width="1.5" stroke-linejoin="round" stroke-linecap="round" filter="url(#b1)"/><path d="M1887.0,1316.5 L2038.0,1316.5" fill="none" stroke="#b14000" stroke-width="2.2" stroke-linejoin="round" stroke-linecap="round" filter="url(#b1)"/><rect x="1832.0" y="1319.0" width="83.0" height="38.0" fill="#815c00" filter="url(#b4)"/><polygon points="1930.0,1319.0 2038.0,1319.0 2038.0,1404.0 2000.0,1392.0 1942.0,1352.0" fill="#8c5c00" filter="url(#b8)"/><polygon points="1980.0,1320.0 2038.0,1320.0 2038.0,1347.0 1990.0,1342.0" fill="#a15400" filter="url(#b4)"/><rect x="1868.7" y="1102.0" width="4.0" height="430.0" fill="#7e4c00"/></g>
<path d="M131.5,1102V1532M369.5,1102V1532M608.5,1102V1532M846.5,1102V1532M1085.5,1102V1532M1323.5,1102V1532M1561.5,1102V1532M1800.5,1102V1532M2038.5,1102V1532M131.0,1489.5H2038.3M131.0,1403.5H2038.3M131.0,1317.5H2038.3M131.0,1231.5H2038.3M131.0,1145.5H2038.3" stroke="#ffffff" stroke-opacity="0.6" stroke-width="1" stroke-dasharray="1.1,1.9" fill="none"/>
<path d="M131.0,1104 H2038.3" stroke="#c8e6c8" stroke-width="2" stroke-dasharray="5.6,9.1" fill="none"/>
<path d="M1156.17,1545.90 L1156.97,1545.41 L1157.76,1544.92 L1158.56,1544.43 L1159.35,1543.95 L1160.15,1543.46 L1160.94,1542.97 L1161.74,1542.48 L1162.53,1542.00 L1163.33,1541.51 L1164.12,1541.02 L1164.92,1540.54 L1165.71,1540.05 L1166.50,1539.57 L1167.30,1539.08 L1168.09,1538.60 L1168.89,1538.11 L1169.68,1537.63 L1170.48,1537.14 L1171.27,1536.66 L1172.07,1536.18 L1172.86,1535.69 L1173.66,1535.21 L1174.45,1534.73 L1175.25,1534.25 L1176.04,1533.77 L1176.84,1533.29 L1177.63,1532.81 L1178.43,1532.33 L1179.22,1531.85 L1180.01,1531.37 L1180.81,1530.89 L1181.60,1530.41 L1182.40,1529.93 L1183.19,1529.45 L1183.99,1528.97 L1184.78,1528.50 L1185.58,1528.02 L1186.37,1527.54 L1187.17,1527.07 L1187.96,1526.59 L1188.76,1526.12 L1189.55,1525.64 L1190.35,1525.17 L1191.14,1524.69 L1191.94,1524.22 L1192.73,1523.74 L1193.53,1523.27 L1194.32,1522.80 L1195.11,1522.33 L1195.91,1521.85 L1196.70,1521.38 L1197.50,1520.91 L1198.29,1520.44 L1199.09,1519.97 L1199.88,1519.50 L1200.68,1519.03 L1201.47,1518.56 L1202.27,1518.09 L1203.06,1517.62 L1203.86,1517.16 L1204.65,1516.69 L1205.45,1516.22 L1206.24,1515.76 L1207.04,1515.29 L1207.83,1514.82 L1208.62,1514.36 L1209.42,1513.89 L1210.21,1513.43 L1211.01,1512.97 L1211.80,1512.50 L1212.60,1512.04 L1213.39,1511.58 L1214.19,1511.11 L1214.98,1510.65 L1215.78,1510.19 L1216.57,1509.73 L1217.37,1509.27 L1218.16,1508.81 L1218.96,1508.35 L1219.75,1507.89 L1220.55,1507.43 L1221.34,1506.97 L1222.13,1506.52 L1222.93,1506.06 L1223.72,1505.60 L1224.52,1505.15 L1225.31,1504.69 L1226.11,1504.24 L1226.90,1503.78 L1227.70,1503.33 L1228.49,1502.87 L1229.29,1502.42 L1230.08,1501.97 L1230.88,1501.51 L1231.67,1501.06 L1232.47,1500.61 L1233.26,1500.16 L1234.06,1499.71 L1234.85,1499.26 L1235.64,1498.81 L1236.44,1498.36 L1237.23,1497.91 L1238.03,1497.46 L1238.82,1497.02 L1239.62,1496.57 L1240.41,1496.12 L1241.21,1495.68 L1242.00,1495.23 L1242.80,1494.79 L1243.59,1494.34 L1244.39,1493.90 L1245.18,1493.45 L1245.98,1493.01 L1246.77,1492.57 L1247.57,1492.13 L1248.36,1491.69 L1249.15,1491.25 L1249.95,1490.81 L1250.74,1490.37 L1251.54,1489.93 L1252.33,1489.49 L1253.13,1489.05 L1253.92,1488.61 L1254.72,1488.18 L1255.51,1487.74 L1256.31,1487.30 L1257.10,1486.87 L1257.90,1486.44 L1258.69,1486.00 L1259.49,1485.57 L1260.28,1485.13 L1261.08,1484.70 L1261.87,1484.27 L1262.66,1483.84 L1263.46,1483.41 L1264.25,1482.98 L1265.05,1482.55 L1265.84,1482.12 L1266.64,1481.69 L1267.43,1481.26 L1268.23,1480.84 L1269.02,1480.41 L1269.82,1479.99 L1270.61,1479.56 L1271.41,1479.14 L1272.20,1478.71 L1273.00,1478.29 L1273.79,1477.87 L1274.59,1477.44 L1275.38,1477.02 L1276.17,1476.60 L1276.97,1476.18 L1277.76,1475.76 L1278.56,1475.34 L1279.35,1474.92 L1280.15,1474.50 L1280.94,1474.09 L1281.74,1473.67 L1282.53,1473.25 L1283.33,1472.84 L1284.12,1472.42 L1284.92,1472.01 L1285.71,1471.60 L1286.51,1471.18 L1287.30,1470.77 L1288.10,1470.36 L1288.89,1469.95 L1289.68,1469.54 L1290.48,1469.13 L1291.27,1468.72 L1292.07,1468.31 L1292.86,1467.91 L1293.66,1467.50 L1294.45,1467.09 L1295.25,1466.69 L1296.04,1466.28 L1296.84,1465.88 L1297.63,1465.48 L1298.43,1465.07 L1299.22,1464.67 L1300.02,1464.27 L1300.81,1463.87 L1301.61,1463.47 L1302.40,1463.07 L1303.19,1462.67 L1303.99,1462.27 L1304.78,1461.88 L1305.58,1461.48 L1306.37,1461.08 L1307.17,1460.69 L1307.96,1460.30 L1308.76,1459.90 L1309.55,1459.51 L1310.35,1459.12 L1311.14,1458.73 L1311.94,1458.34 L1312.73,1457.95 L1313.53,1457.56 L1314.32,1457.17 L1315.12,1456.78 L1315.91,1456.39 L1316.70,1456.01 L1317.50,1455.62 L1318.29,1455.24 L1319.09,1454.85 L1319.88,1454.47 L1320.68,1454.09 L1321.47,1453.71 L1322.27,1453.33 L1323.06,1452.95 L1323.86,1452.57 L1324.65,1452.19 L1325.45,1451.81 L1326.24,1451.43 L1327.04,1451.06 L1327.83,1450.68 L1328.63,1450.31 L1329.42,1449.93 L1330.21,1449.56 L1331.01,1449.19 L1331.80,1448.82 L1332.60,1448.45 L1333.39,1448.08 L1334.19,1447.71 L1334.98,1447.34 L1335.78,1446.97 L1336.57,1446.61 L1337.37,1446.24 L1338.16,1445.88 L1338.96,1445.51 L1339.75,1445.15 L1340.55,1444.79 L1341.34,1444.43 L1342.14,1444.07 L1342.93,1443.71 L1343.72,1443.35 L1344.52,1442.99 L1345.31,1442.63 L1346.11,1442.28 L1346.90,1441.92 L1347.70,1441.57 L1348.49,1441.21 L1349.29,1440.86 L1350.08,1440.51 L1350.88,1440.16 L1351.67,1439.81 L1352.47,1439.46 L1353.26,1439.11 L1354.06,1438.76 L1354.85,1438.41 L1355.65,1438.07 L1356.44,1437.72 L1357.23,1437.38 L1358.03,1437.04 L1358.82,1436.70 L1359.62,1436.35 L1360.41,1436.01 L1361.21,1435.67 L1362.00,1435.34 L1362.80,1435.00 L1363.59,1434.66 L1364.39,1434.33 L1365.18,1433.99 L1365.98,1433.66 L1366.77,1433.32 L1367.57,1432.99 L1368.36,1432.66 L1369.16,1432.33 L1369.95,1432.00 L1370.74,1431.67 L1371.54,1431.35 L1372.33,1431.02 L1373.13,1430.70 L1373.92,1430.37 L1374.72,1430.05 L1375.51,1429.73 L1376.31,1429.40 L1377.10,1429.08 L1377.90,1428.76 L1378.69,1428.45 L1379.49,1428.13 L1380.28,1427.81 L1381.08,1427.50 L1381.87,1427.18 L1382.67,1426.87 L1383.46,1426.56 L1384.26,1426.24 L1385.05,1425.93 L1385.84,1425.62 L1386.64,1425.32 L1387.43,1425.01 L1388.23,1424.70 L1389.02,1424.40 L1389.82,1424.09 L1390.61,1423.79 L1391.41,1423.49 L1392.20,1423.18 L1393.00,1422.88 L1393.79,1422.59 L1394.59,1422.29 L1395.38,1421.99 L1396.18,1421.69 L1396.97,1421.40 L1397.77,1421.10 L1398.56,1420.81 L1399.35,1420.52 L1400.15,1420.23 L1400.94,1419.94 L1401.74,1419.65 L1402.53,1419.36 L1403.33,1419.08 L1404.12,1418.79 L1404.92,1418.51 L1405.71,1418.22 L1406.51,1417.94 L1407.30,1417.66 L1408.10,1417.38 L1408.89,1417.10 L1409.69,1416.82 L1410.48,1416.55 L1411.28,1416.27 L1412.07,1416.00 L1412.86,1415.73 L1413.66,1415.45 L1414.45,1415.18 L1415.25,1414.91 L1416.04,1414.64 L1416.84,1414.38 L1417.63,1414.11 L1418.43,1413.84 L1419.22,1413.58 L1420.02,1413.32 L1420.81,1413.05 L1421.61,1412.79 L1422.40,1412.53 L1423.20,1412.28 L1423.99,1412.02 L1424.79,1411.76 L1425.58,1411.51 L1426.37,1411.25 L1427.17,1411.00 L1427.96,1410.75 L1428.76,1410.50 L1429.55,1410.25 L1430.35,1410.00 L1431.14,1409.76 L1431.94,1409.51 L1432.73,1409.27 L1433.53,1409.02 L1434.32,1408.78 L1435.12,1408.54 L1435.91,1408.30 L1436.71,1408.06 L1437.50,1407.83 L1438.30,1407.59 L1439.09,1407.36 L1439.88,1407.12 L1440.68,1406.89 L1441.47,1406.66 L1442.27,1406.43 L1443.06,1406.20 L1443.86,1405.97 L1444.65,1405.75 L1445.45,1405.52 L1446.24,1405.30 L1447.04,1405.08 L1447.83,1404.86 L1448.63,1404.64 L1449.42,1404.42 L1450.22,1404.20 L1451.01,1403.98 L1451.81,1403.77 L1452.60,1403.56 L1453.39,1403.34 L1454.19,1403.13 L1454.98,1402.92 L1455.78,1402.72 L1456.57,1402.51 L1457.37,1402.30 L1458.16,1402.10 L1458.96,1401.90 L1459.75,1401.69 L1460.55,1401.49 L1461.34,1401.29 L1462.14,1401.10 L1462.93,1400.90 L1463.73,1400.70 L1464.52,1400.51 L1465.32,1400.32 L1466.11,1400.12 L1466.90,1399.93 L1467.70,1399.75 L1468.49,1399.56 L1469.29,1399.37 L1470.08,1399.19 L1470.88,1399.00 L1471.67,1398.82 L1472.47,1398.64 L1473.26,1398.46 L1474.06,1398.28 L1474.85,1398.11 L1475.65,1397.93 L1476.44,1397.76 L1477.24,1397.58 L1478.03,1397.41 L1478.83,1397.24 L1479.62,1397.07 L1480.41,1396.91 L1481.21,1396.74 L1482.00,1396.58 L1482.80,1396.41 L1483.59,1396.25 L1484.39,1396.09 L1485.18,1395.93 L1485.98,1395.77 L1486.77,1395.62 L1487.57,1395.46 L1488.36,1395.31 L1489.16,1395.16 L1489.95,1395.01 L1490.75,1394.86 L1491.54,1394.71 L1492.34,1394.56 L1493.13,1394.42 L1493.92,1394.27 L1494.72,1394.13 L1495.51,1393.99 L1496.31,1393.85 L1497.10,1393.71 L1497.90,1393.57 L1498.69,1393.44 L1499.49,1393.30 L1500.28,1393.17 L1501.08,1393.04 L1501.87,1392.91 L1502.67,1392.78 L1503.46,1392.66 L1504.26,1392.53 L1505.05,1392.41 L1505.85,1392.28 L1506.64,1392.16 L1507.43,1392.04 L1508.23,1391.93 L1509.02,1391.81 L1509.82,1391.69 L1510.61,1391.58 L1511.41,1391.47 L1512.20,1391.36 L1513.00,1391.25 L1513.79,1391.14 L1514.59,1391.03 L1515.38,1390.93 L1516.18,1390.82 L1516.97,1390.72 L1517.77,1390.62 L1518.56,1390.52 L1519.36,1390.42 L1520.15,1390.32 L1520.94,1390.23 L1521.74,1390.14 L1522.53,1390.04 L1523.33,1389.95 L1524.12,1389.86 L1524.92,1389.78 L1525.71,1389.69 L1526.51,1389.61 L1527.30,1389.52 L1528.10,1389.44 L1528.89,1389.36 L1529.69,1389.28 L1530.48,1389.20 L1531.28,1389.13 L1532.07,1389.05 L1532.87,1388.98 L1533.66,1388.91 L1534.45,1388.84 L1535.25,1388.77 L1536.04,1388.70 L1536.84,1388.64 L1537.63,1388.57 L1538.43,1388.51 L1539.22,1388.45 L1540.02,1388.39 L1540.81,1388.33 L1541.61,1388.28 L1542.40,1388.22 L1543.20,1388.17 L1543.99,1388.12 L1544.79,1388.06 L1545.58,1388.02 L1546.38,1387.97 L1547.17,1387.92 L1547.96,1387.88 L1548.76,1387.83 L1549.55,1387.79 L1550.35,1387.75 L1551.14,1387.71 L1551.94,1387.68 L1552.73,1387.64 L1553.53,1387.61 L1554.32,1387.58 L1555.12,1387.54 L1555.91,1387.52 L1556.71,1387.49 L1557.50,1387.46 L1558.30,1387.44 L1559.09,1387.41 L1559.89,1387.39 L1560.68,1387.37 L1561.48,1387.35 L1562.27,1387.33 L1563.06,1387.32 L1563.86,1387.30 L1564.65,1387.29 L1565.45,1387.28 L1566.24,1387.27 L1567.04,1387.26 L1567.83,1387.25 L1568.63,1387.25 L1569.42,1387.25 L1570.22,1387.24 L1571.01,1387.24 L1571.81,1387.24 L1572.60,1387.25 L1573.40,1387.25 L1574.19,1387.25 L1574.99,1387.26 L1575.78,1387.27 L1576.57,1387.28 L1577.37,1387.29 L1578.16,1387.30 L1578.96,1387.32 L1579.75,1387.33 L1580.55,1387.35 L1581.34,1387.37 L1582.14,1387.39 L1582.93,1387.41 L1583.73,1387.44 L1584.52,1387.46 L1585.32,1387.49 L1586.11,1387.52 L1586.91,1387.54 L1587.70,1387.58 L1588.50,1387.61 L1589.29,1387.64 L1590.08,1387.68 L1590.88,1387.71 L1591.67,1387.75 L1592.47,1387.79 L1593.26,1387.83 L1594.06,1387.88 L1594.85,1387.92 L1595.65,1387.97 L1596.44,1388.02 L1597.24,1388.06 L1598.03,1388.12 L1598.83,1388.17 L1599.62,1388.22 L1600.42,1388.28 L1601.21,1388.33 L1602.01,1388.39 L1602.80,1388.45 L1603.59,1388.51 L1604.39,1388.57 L1605.18,1388.64 L1605.98,1388.70 L1606.77,1388.77 L1607.57,1388.84 L1608.36,1388.91 L1609.16,1388.98 L1609.95,1389.05 L1610.75,1389.13 L1611.54,1389.20 L1612.34,1389.28 L1613.13,1389.36 L1613.93,1389.44 L1614.72,1389.52 L1615.52,1389.61 L1616.31,1389.69 L1617.10,1389.78 L1617.90,1389.86 L1618.69,1389.95 L1619.49,1390.04 L1620.28,1390.14 L1621.08,1390.23 L1621.87,1390.32 L1622.67,1390.42 L1623.46,1390.52 L1624.26,1390.62 L1625.05,1390.72 L1625.85,1390.82 L1626.64,1390.93 L1627.44,1391.03 L1628.23,1391.14 L1629.03,1391.25 L1629.82,1391.36 L1630.61,1391.47 L1631.41,1391.58 L1632.20,1391.69 L1633.00,1391.81 L1633.79,1391.93 L1634.59,1392.04 L1635.38,1392.16 L1636.18,1392.28 L1636.97,1392.41 L1637.77,1392.53 L1638.56,1392.66 L1639.36,1392.78 L1640.15,1392.91 L1640.95,1393.04 L1641.74,1393.17 L1642.54,1393.30 L1643.33,1393.44 L1644.12,1393.57 L1644.92,1393.71 L1645.71,1393.85 L1646.51,1393.99 L1647.30,1394.13 L1648.10,1394.27 L1648.89,1394.42 L1649.69,1394.56 L1650.48,1394.71 L1651.28,1394.86 L1652.07,1395.01 L1652.87,1395.16 L1653.66,1395.31 L1654.46,1395.46 L1655.25,1395.62 L1656.05,1395.77 L1656.84,1395.93 L1657.63,1396.09 L1658.43,1396.25 L1659.22,1396.41 L1660.02,1396.58 L1660.81,1396.74 L1661.61,1396.91 L1662.40,1397.07 L1663.20,1397.24 L1663.99,1397.41 L1664.79,1397.58 L1665.58,1397.76 L1666.38,1397.93 L1667.17,1398.11 L1667.97,1398.28 L1668.76,1398.46 L1669.56,1398.64 L1670.35,1398.82 L1671.14,1399.00 L1671.94,1399.19 L1672.73,1399.37 L1673.53,1399.56 L1674.32,1399.75 L1675.12,1399.93 L1675.91,1400.12 L1676.71,1400.32 L1677.50,1400.51 L1678.30,1400.70 L1679.09,1400.90 L1679.89,1401.10 L1680.68,1401.29 L1681.48,1401.49 L1682.27,1401.69 L1683.07,1401.90 L1683.86,1402.10 L1684.65,1402.30 L1685.45,1402.51 L1686.24,1402.72 L1687.04,1402.92 L1687.83,1403.13 L1688.63,1403.34 L1689.42,1403.56 L1690.22,1403.77 L1691.01,1403.98 L1691.81,1404.20 L1692.60,1404.42 L1693.40,1404.64 L1694.19,1404.86 L1694.99,1405.08 L1695.78,1405.30 L1696.58,1405.52 L1697.37,1405.75 L1698.16,1405.97 L1698.96,1406.20 L1699.75,1406.43 L1700.55,1406.66 L1701.34,1406.89 L1702.14,1407.12 L1702.93,1407.36 L1703.73,1407.59 L1704.52,1407.83 L1705.32,1408.06 L1706.11,1408.30 L1706.91,1408.54 L1707.70,1408.78 L1708.50,1409.02 L1709.29,1409.27 L1710.09,1409.51 L1710.88,1409.76 L1711.67,1410.00 L1712.47,1410.25 L1713.26,1410.50 L1714.06,1410.75 L1714.85,1411.00 L1715.65,1411.25 L1716.44,1411.51 L1717.24,1411.76 L1718.03,1412.02 L1718.83,1412.28 L1719.62,1412.53 L1720.42,1412.79 L1721.21,1413.05 L1722.01,1413.32 L1722.80,1413.58 L1723.60,1413.84 L1724.39,1414.11 L1725.18,1414.38 L1725.98,1414.64 L1726.77,1414.91 L1727.57,1415.18 L1728.36,1415.45 L1729.16,1415.73 L1729.95,1416.00 L1730.75,1416.27 L1731.54,1416.55 L1732.34,1416.82 L1733.13,1417.10 L1733.93,1417.38 L1734.72,1417.66 L1735.52,1417.94 L1736.31,1418.22 L1737.11,1418.51 L1737.90,1418.79 L1738.69,1419.08 L1739.49,1419.36 L1740.28,1419.65 L1741.08,1419.94 L1741.87,1420.23 L1742.67,1420.52 L1743.46,1420.81 L1744.26,1421.10 L1745.05,1421.40 L1745.85,1421.69 L1746.64,1421.99 L1747.44,1422.29 L1748.23,1422.59 L1749.03,1422.88 L1749.82,1423.18 L1750.62,1423.49 L1751.41,1423.79 L1752.21,1424.09 L1753.00,1424.40 L1753.79,1424.70 L1754.59,1425.01 L1755.38,1425.32 L1756.18,1425.62 L1756.97,1425.93 L1757.77,1426.24 L1758.56,1426.56 L1759.36,1426.87 L1760.15,1427.18 L1760.95,1427.50 L1761.74,1427.81 L1762.54,1428.13 L1763.33,1428.45 L1764.13,1428.76 L1764.92,1429.08 L1765.72,1429.40 L1766.51,1429.73 L1767.30,1430.05 L1768.10,1430.37 L1768.89,1430.70 L1769.69,1431.02 L1770.48,1431.35 L1771.28,1431.67 L1772.07,1432.00 L1772.87,1432.33 L1773.66,1432.66 L1774.46,1432.99 L1775.25,1433.32 L1776.05,1433.66 L1776.84,1433.99 L1777.64,1434.33 L1778.43,1434.66 L1779.23,1435.00 L1780.02,1435.34 L1780.81,1435.67 L1781.61,1436.01 L1782.40,1436.35 L1783.20,1436.70 L1783.99,1437.04 L1784.79,1437.38 L1785.58,1437.72 L1786.38,1438.07 L1787.17,1438.41 L1787.97,1438.76 L1788.76,1439.11 L1789.56,1439.46 L1790.35,1439.81 L1791.15,1440.16 L1791.94,1440.51 L1792.74,1440.86 L1793.53,1441.21 L1794.32,1441.57 L1795.12,1441.92 L1795.91,1442.28 L1796.71,1442.63 L1797.50,1442.99 L1798.30,1443.35 L1799.09,1443.71 L1799.89,1444.07 L1800.68,1444.43 L1801.48,1444.79 L1802.27,1445.15 L1803.07,1445.51 L1803.86,1445.88 L1804.66,1446.24 L1805.45,1446.61 L1806.25,1446.97 L1807.04,1447.34 L1807.83,1447.71 L1808.63,1448.08 L1809.42,1448.45 L1810.22,1448.82 L1811.01,1449.19 L1811.81,1449.56 L1812.60,1449.93 L1813.40,1450.31 L1814.19,1450.68 L1814.99,1451.06 L1815.78,1451.43 L1816.58,1451.81 L1817.37,1452.19 L1818.17,1452.57 L1818.96,1452.95 L1819.76,1453.33 L1820.55,1453.71 L1821.34,1454.09 L1822.14,1454.47 L1822.93,1454.85 L1823.73,1455.24 L1824.52,1455.62 L1825.32,1456.01 L1826.11,1456.39 L1826.91,1456.78 L1827.70,1457.17 L1828.50,1457.56 L1829.29,1457.95 L1830.09,1458.34 L1830.88,1458.73 L1831.68,1459.12 L1832.47,1459.51 L1833.27,1459.90 L1834.06,1460.30 L1834.85,1460.69 L1835.65,1461.08 L1836.44,1461.48 L1837.24,1461.88 L1838.03,1462.27 L1838.83,1462.67 L1839.62,1463.07 L1840.42,1463.47 L1841.21,1463.87 L1842.01,1464.27 L1842.80,1464.67 L1843.60,1465.07 L1844.39,1465.48 L1845.19,1465.88 L1845.98,1466.28 L1846.78,1466.69 L1847.57,1467.09 L1848.36,1467.50 L1849.16,1467.91 L1849.95,1468.31 L1850.75,1468.72 L1851.54,1469.13 L1852.34,1469.54 L1853.13,1469.95 L1853.93,1470.36 L1854.72,1470.77 L1855.52,1471.18 L1856.31,1471.60 L1857.11,1472.01 L1857.90,1472.42 L1858.70,1472.84 L1859.49,1473.25 L1860.29,1473.67 L1861.08,1474.09 L1861.87,1474.50 L1862.67,1474.92 L1863.46,1475.34 L1864.26,1475.76 L1865.05,1476.18 L1865.85,1476.60 L1866.64,1477.02 L1867.44,1477.44 L1868.23,1477.87 L1869.03,1478.29 L1869.82,1478.71 L1870.62,1479.14 L1871.41,1479.56 L1872.21,1479.99 L1873.00,1480.41 L1873.80,1480.84 L1874.59,1481.26 L1875.38,1481.69 L1876.18,1482.12 L1876.97,1482.55 L1877.77,1482.98 L1878.56,1483.41 L1879.36,1483.84 L1880.15,1484.27 L1880.95,1484.70 L1881.74,1485.13 L1882.54,1485.57 L1883.33,1486.00 L1884.13,1486.44 L1884.92,1486.87 L1885.72,1487.30 L1886.51,1487.74 L1887.31,1488.18 L1888.10,1488.61 L1888.89,1489.05 L1889.69,1489.49 L1890.48,1489.93 L1891.28,1490.37 L1892.07,1490.81 L1892.87,1491.25 L1893.66,1491.69 L1894.46,1492.13 L1895.25,1492.57 L1896.05,1493.01 L1896.84,1493.45 L1897.64,1493.90 L1898.43,1494.34 L1899.23,1494.79 L1900.02,1495.23 L1900.82,1495.68 L1901.61,1496.12 L1902.40,1496.57 L1903.20,1497.02 L1903.99,1497.46 L1904.79,1497.91 L1905.58,1498.36 L1906.38,1498.81 L1907.17,1499.26 L1907.97,1499.71 L1908.76,1500.16 L1909.56,1500.61 L1910.35,1501.06 L1911.15,1501.51 L1911.94,1501.97 L1912.74,1502.42 L1913.53,1502.87 L1914.33,1503.33 L1915.12,1503.78 L1915.91,1504.24 L1916.71,1504.69 L1917.50,1505.15 L1918.30,1505.60 L1919.09,1506.06 L1919.89,1506.52 L1920.68,1506.97 L1921.48,1507.43 L1922.27,1507.89 L1923.07,1508.35 L1923.86,1508.81 L1924.66,1509.27 L1925.45,1509.73 L1926.25,1510.19 L1927.04,1510.65 L1927.84,1511.11 L1928.63,1511.58 L1929.42,1512.04 L1930.22,1512.50 L1931.01,1512.97 L1931.81,1513.43 L1932.60,1513.89 L1933.40,1514.36 L1934.19,1514.82 L1934.99,1515.29 L1935.78,1515.76 L1936.58,1516.22 L1937.37,1516.69 L1938.17,1517.16 L1938.96,1517.62 L1939.76,1518.09 L1940.55,1518.56 L1941.35,1519.03 L1942.14,1519.50 L1942.94,1519.97 L1943.73,1520.44 L1944.52,1520.91 L1945.32,1521.38 L1946.11,1521.85 L1946.91,1522.33 L1947.70,1522.80 L1948.50,1523.27 L1949.29,1523.74 L1950.09,1524.22 L1950.88,1524.69 L1951.68,1525.17 L1952.47,1525.64 L1953.27,1526.12 L1954.06,1526.59 L1954.86,1527.07 L1955.65,1527.54 L1956.45,1528.02 L1957.24,1528.50 L1958.03,1528.97 L1958.83,1529.45 L1959.62,1529.93 L1960.42,1530.41 L1961.21,1530.89 L1962.01,1531.37 L1962.80,1531.85 L1963.60,1532.33 L1964.39,1532.81 L1965.19,1533.29 L1965.98,1533.77 L1966.78,1534.25 L1967.57,1534.73 L1968.37,1535.21 L1969.16,1535.69 L1969.96,1536.18 L1970.75,1536.66 L1971.54,1537.14 L1972.34,1537.63 L1973.13,1538.11 L1973.93,1538.60 L1974.72,1539.08 L1975.52,1539.57 L1976.31,1540.05 L1977.11,1540.54 L1977.90,1541.02 L1978.70,1541.51 L1979.49,1542.00 L1980.29,1542.48 L1981.08,1542.97 L1981.88,1543.46 L1982.67,1543.95 L1983.47,1544.43 L1984.26,1544.92 L1985.05,1545.41 L1985.85,1545.90 L1986.64,1546.39 L1987.44,1546.88 L1988.23,1547.37 L1989.03,1547.86 L1989.82,1548.35" stroke="#ffffff" stroke-opacity="0.78" stroke-width="5.6" stroke-dasharray="35.6,8.9,5.6,8.9" stroke-dashoffset="9.89" fill="none"/>
</g>
<rect x="130.5" y="1102.5" width="1908.0" height="430" fill="none" stroke="#000" stroke-width="1.1"/>
<text x="77.14" y="1499.30" font-size="30.26" textLength="43.86" lengthAdjust="spacingAndGlyphs">−4</text>
<text x="77.14" y="1413.30" font-size="30.26" textLength="43.86" lengthAdjust="spacingAndGlyphs">−2</text>
<text x="101.10" y="1327.30" font-size="30.26" textLength="19.90" lengthAdjust="spacingAndGlyphs">0</text>
<text x="101.10" y="1241.30" font-size="30.26" textLength="19.90" lengthAdjust="spacingAndGlyphs">2</text>
<text x="101.10" y="1155.30" font-size="30.26" textLength="19.90" lengthAdjust="spacingAndGlyphs">4</text>
<text x="2047.94" y="1542.30" font-size="30.26" textLength="19.90" lengthAdjust="spacingAndGlyphs">0</text>
<text x="2047.01" y="1446.74" font-size="30.26" textLength="39.80" lengthAdjust="spacingAndGlyphs">20</text>
<text x="2048.01" y="1351.19" font-size="30.26" textLength="39.80" lengthAdjust="spacingAndGlyphs">40</text>
<text x="2047.51" y="1255.63" font-size="30.26" textLength="39.80" lengthAdjust="spacingAndGlyphs">60</text>
<text x="2047.58" y="1160.08" font-size="30.26" textLength="39.80" lengthAdjust="spacingAndGlyphs">80</text>
<text x="2163.24" y="1112.30" font-size="30.26" textLength="50.67" lengthAdjust="spacingAndGlyphs">0.0</text>
<text x="2163.24" y="1198.30" font-size="30.26" textLength="50.67" lengthAdjust="spacingAndGlyphs">0.2</text>
<text x="2163.24" y="1284.30" font-size="30.26" textLength="50.67" lengthAdjust="spacingAndGlyphs">0.4</text>
<text x="2163.24" y="1370.30" font-size="30.26" textLength="50.67" lengthAdjust="spacingAndGlyphs">0.6</text>
<text x="2163.24" y="1456.30" font-size="30.26" textLength="50.67" lengthAdjust="spacingAndGlyphs">0.8</text>
<text x="2161.38" y="1542.30" font-size="30.26" textLength="50.67" lengthAdjust="spacingAndGlyphs">1.0</text>
<rect x="2292.5" y="1102.5" width="22" height="429" fill="url(#cbar)" stroke="#000" stroke-width="1.1"/>
<text x="2325.00" y="1451.77" font-size="30.26" textLength="63.76" lengthAdjust="spacingAndGlyphs">−50</text>
<text x="2325.00" y="1338.62" font-size="30.26" textLength="19.90" lengthAdjust="spacingAndGlyphs">0</text>
<text x="2325.00" y="1225.46" font-size="30.26" textLength="39.80" lengthAdjust="spacingAndGlyphs">50</text>
<text x="2325.00" y="1112.30" font-size="30.26" textLength="59.70" lengthAdjust="spacingAndGlyphs">100</text>
<path d="M125.4,1489.0H130.5M125.4,1403.0H130.5M125.4,1317.0H130.5M125.4,1231.0H130.5M125.4,1145.0H130.5M2038.3,1532.0H2043.3M2038.3,1436.4H2043.3M2038.3,1340.9H2043.3M2038.3,1245.3H2043.3M2038.3,1149.8H2043.3M2152.5,1102V1532.5M2152.5,1102.0H2157.5M2152.5,1188.0H2157.5M2152.5,1274.0H2157.5M2152.5,1360.0H2157.5M2152.5,1446.0H2157.5M2152.5,1532.0H2157.5M2314.5,1532.0H2319.3M2314.5,1509.4H2319.3M2314.5,1486.7H2319.3M2314.5,1464.1H2319.3M2314.5,1441.5H2321.5M2314.5,1418.8H2319.3M2314.5,1396.2H2319.3M2314.5,1373.6H2319.3M2314.5,1350.9H2319.3M2314.5,1328.3H2321.5M2314.5,1305.7H2319.3M2314.5,1283.1H2319.3M2314.5,1260.4H2319.3M2314.5,1237.8H2319.3M2314.5,1215.2H2321.5M2314.5,1192.5H2319.3M2314.5,1169.9H2319.3M2314.5,1147.3H2319.3M2314.5,1124.6H2319.3M2314.5,1102.0H2321.5" stroke="#000" stroke-width="1.1" fill="none"/>
<text x="0" y="0" font-size="30.26" textLength="139.61" lengthAdjust="spacingAndGlyphs" transform="translate(33.80,1390.45) rotate(-90)">5.00MHz</text>
<text x="0" y="0" font-size="30.26" textLength="291.16" lengthAdjust="spacingAndGlyphs" transform="translate(62.80,1463.23) rotate(-90)">Doppler Shift (Hz)</text>
<text x="0" y="0" font-size="30.26" textLength="345.71" lengthAdjust="spacingAndGlyphs" transform="translate(2113.70,1490.46) rotate(-90)">Solar Elevation Angle</text>
<text x="0" y="0" font-size="30.26" textLength="318.96" lengthAdjust="spacingAndGlyphs" transform="translate(2239.80,1477.30) rotate(-90)">Eclipse Obscuration</text>
<text x="0" y="0" font-size="30.26" textLength="143.67" lengthAdjust="spacingAndGlyphs" transform="translate(2415.90,1389.66) rotate(-90)">PSD (dB)</text>
<text x="85.48" y="1562.80" font-size="30.26" textLength="91.04" lengthAdjust="spacingAndGlyphs">00:00</text>
<text x="323.89" y="1562.80" font-size="30.26" textLength="91.04" lengthAdjust="spacingAndGlyphs">03:00</text>
<text x="562.31" y="1562.80" font-size="30.26" textLength="91.04" lengthAdjust="spacingAndGlyphs">06:00</text>
<text x="800.72" y="1562.80" font-size="30.26" textLength="91.04" lengthAdjust="spacingAndGlyphs">09:00</text>
<text x="1039.13" y="1562.80" font-size="30.26" textLength="91.04" lengthAdjust="spacingAndGlyphs">12:00</text>
<text x="1277.54" y="1562.80" font-size="30.26" textLength="91.04" lengthAdjust="spacingAndGlyphs">15:00</text>
<text x="1515.96" y="1562.80" font-size="30.26" textLength="91.04" lengthAdjust="spacingAndGlyphs">18:00</text>
<text x="1754.37" y="1562.80" font-size="30.26" textLength="91.04" lengthAdjust="spacingAndGlyphs">21:00</text>
<text x="1992.78" y="1562.80" font-size="30.26" textLength="91.04" lengthAdjust="spacingAndGlyphs">00:00</text>
<path d="M131.0,1532V1537M369.4,1532V1537M607.8,1532V1537M846.2,1532V1537M1084.7,1532V1537M1323.1,1532V1537M1561.5,1532V1537M1799.9,1532V1537M2038.3,1532V1537" stroke="#000" stroke-width="1.1" fill="none"/>
<text x="1052.74" y="1595.80" font-size="30.26" textLength="63.72" lengthAdjust="spacingAndGlyphs">UTC</text>
</svg></body></html>
